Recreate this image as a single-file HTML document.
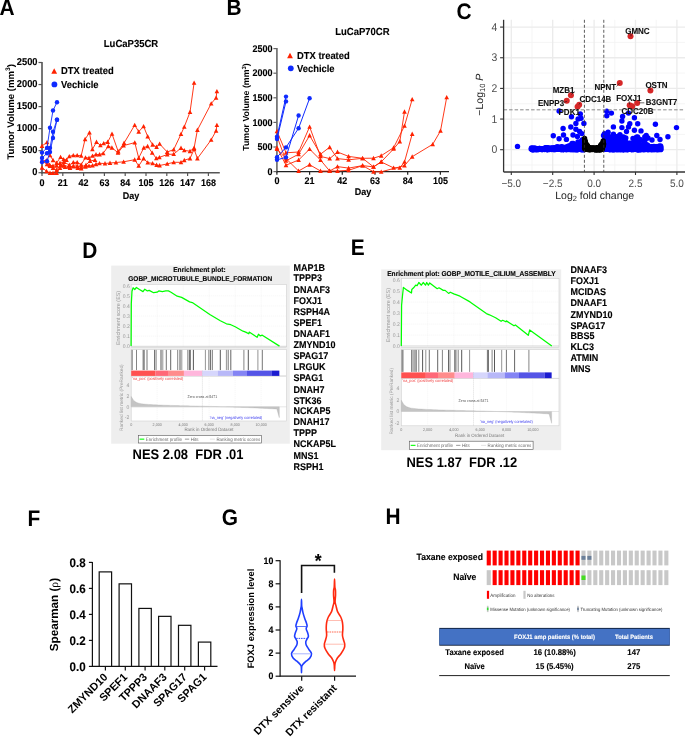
<!DOCTYPE html>
<html><head><meta charset="utf-8"><style>
html,body{margin:0;padding:0;background:#fff;}
body{width:685px;height:737px;overflow:hidden;}
svg{display:block;font-family:"Liberation Sans", sans-serif;will-change:transform;text-rendering:geometricPrecision;}
</style></head><body>
<svg width="685" height="737" viewBox="0 0 685 737">
<rect width="685" height="737" fill="#fff"/>
<text transform="translate(-0.5,14.9) scale(0.933,1)" font-size="22.4" font-weight="bold">A</text>
<text transform="translate(226.5,14.9) scale(0.933,1)" font-size="22.4" font-weight="bold">B</text>
<text transform="translate(456.4,18.8) scale(0.933,1)" font-size="22.4" font-weight="bold">C</text>
<text transform="translate(82.3,257.7) scale(0.933,1)" font-size="22.4" font-weight="bold">D</text>
<text transform="translate(350.7,254.6) scale(0.933,1)" font-size="22.4" font-weight="bold">E</text>
<text transform="translate(27.6,525.6) scale(0.933,1)" font-size="22.4" font-weight="bold">F</text>
<text transform="translate(221.7,524.5) scale(0.933,1)" font-size="22.4" font-weight="bold">G</text>
<text transform="translate(385.6,523.9) scale(0.933,1)" font-size="22.4" font-weight="bold">H</text>
<text transform="translate(131.00,47.20) scale(0.93,1)" font-size="10.22" font-weight="bold" text-anchor="middle" fill="#000" stroke="#000" stroke-width="0.12" >LuCaP35CR</text>
<line x1="42.00" y1="62.00" x2="42.00" y2="173.50" stroke="#666" stroke-width="1.8" />
<line x1="41.20" y1="172.70" x2="219.80" y2="172.70" stroke="#555" stroke-width="1.6" />
<line x1="38.50" y1="172.70" x2="42.00" y2="172.70" stroke="#555" stroke-width="1.2" />
<text transform="translate(37.50,175.40) scale(0.93,1)" font-size="10.00" font-weight="bold" text-anchor="end" fill="#000" stroke="#000" stroke-width="0.12" >0</text>
<line x1="38.50" y1="150.66" x2="42.00" y2="150.66" stroke="#555" stroke-width="1.2" />
<text transform="translate(37.50,153.36) scale(0.93,1)" font-size="10.00" font-weight="bold" text-anchor="end" fill="#000" stroke="#000" stroke-width="0.12" >500</text>
<line x1="38.50" y1="128.62" x2="42.00" y2="128.62" stroke="#555" stroke-width="1.2" />
<text transform="translate(37.50,131.32) scale(0.93,1)" font-size="10.00" font-weight="bold" text-anchor="end" fill="#000" stroke="#000" stroke-width="0.12" >1000</text>
<line x1="38.50" y1="106.58" x2="42.00" y2="106.58" stroke="#555" stroke-width="1.2" />
<text transform="translate(37.50,109.28) scale(0.93,1)" font-size="10.00" font-weight="bold" text-anchor="end" fill="#000" stroke="#000" stroke-width="0.12" >1500</text>
<line x1="38.50" y1="84.54" x2="42.00" y2="84.54" stroke="#555" stroke-width="1.2" />
<text transform="translate(37.50,87.24) scale(0.93,1)" font-size="10.00" font-weight="bold" text-anchor="end" fill="#000" stroke="#000" stroke-width="0.12" >2000</text>
<line x1="38.50" y1="62.50" x2="42.00" y2="62.50" stroke="#555" stroke-width="1.2" />
<text transform="translate(37.50,65.20) scale(0.93,1)" font-size="10.00" font-weight="bold" text-anchor="end" fill="#000" stroke="#000" stroke-width="0.12" >2500</text>
<line x1="42.00" y1="172.70" x2="42.00" y2="175.90" stroke="#555" stroke-width="1.2" />
<text transform="translate(42.00,185.60) scale(0.93,1)" font-size="9.68" font-weight="bold" text-anchor="middle" fill="#000" stroke="#000" stroke-width="0.12" >0</text>
<line x1="62.80" y1="172.70" x2="62.80" y2="175.90" stroke="#555" stroke-width="1.2" />
<text transform="translate(62.80,185.60) scale(0.93,1)" font-size="9.68" font-weight="bold" text-anchor="middle" fill="#000" stroke="#000" stroke-width="0.12" >21</text>
<line x1="83.60" y1="172.70" x2="83.60" y2="175.90" stroke="#555" stroke-width="1.2" />
<text transform="translate(83.60,185.60) scale(0.93,1)" font-size="9.68" font-weight="bold" text-anchor="middle" fill="#000" stroke="#000" stroke-width="0.12" >42</text>
<line x1="104.40" y1="172.70" x2="104.40" y2="175.90" stroke="#555" stroke-width="1.2" />
<text transform="translate(104.40,185.60) scale(0.93,1)" font-size="9.68" font-weight="bold" text-anchor="middle" fill="#000" stroke="#000" stroke-width="0.12" >63</text>
<line x1="125.20" y1="172.70" x2="125.20" y2="175.90" stroke="#555" stroke-width="1.2" />
<text transform="translate(125.20,185.60) scale(0.93,1)" font-size="9.68" font-weight="bold" text-anchor="middle" fill="#000" stroke="#000" stroke-width="0.12" >84</text>
<line x1="146.00" y1="172.70" x2="146.00" y2="175.90" stroke="#555" stroke-width="1.2" />
<text transform="translate(146.00,185.60) scale(0.93,1)" font-size="9.68" font-weight="bold" text-anchor="middle" fill="#000" stroke="#000" stroke-width="0.12" >105</text>
<line x1="166.80" y1="172.70" x2="166.80" y2="175.90" stroke="#555" stroke-width="1.2" />
<text transform="translate(166.80,185.60) scale(0.93,1)" font-size="9.68" font-weight="bold" text-anchor="middle" fill="#000" stroke="#000" stroke-width="0.12" >126</text>
<line x1="187.60" y1="172.70" x2="187.60" y2="175.90" stroke="#555" stroke-width="1.2" />
<text transform="translate(187.60,185.60) scale(0.93,1)" font-size="9.68" font-weight="bold" text-anchor="middle" fill="#000" stroke="#000" stroke-width="0.12" >147</text>
<line x1="208.40" y1="172.70" x2="208.40" y2="175.90" stroke="#555" stroke-width="1.2" />
<text transform="translate(208.40,185.60) scale(0.93,1)" font-size="9.68" font-weight="bold" text-anchor="middle" fill="#000" stroke="#000" stroke-width="0.12" >168</text>
<text transform="translate(131.00,198.50) scale(0.93,1)" font-size="9.68" font-weight="bold" text-anchor="middle" fill="#000" stroke="#000" stroke-width="0.12" >Day</text>
<text transform="translate(13.9,111.8) rotate(-90)" font-size="9.6" font-weight="bold" text-anchor="middle">Tumor Volume (mm<tspan font-size="6.6" dy="-3.6">3</tspan><tspan dy="3.6">)</tspan></text>
<path d="M54.20,68.16L57.10,73.67L51.30,73.67Z" fill="#ff2200"/>
<text transform="translate(61.00,74.30) scale(0.93,1)" font-size="10.11" font-weight="bold" text-anchor="start" fill="#000" stroke="#000" stroke-width="0.12" >DTX treated</text>
<circle cx="54.40" cy="84.40" r="2.9" fill="#0f2bff" />
<text transform="translate(61.00,87.90) scale(0.93,1)" font-size="10.11" font-weight="bold" text-anchor="start" fill="#000" stroke="#000" stroke-width="0.12" >Vechicle</text>
<polyline points="42.00,146.00 47.00,142.30 50.00,155.40 53.00,160.20 56.60,163.00 60.60,157.10 63.60,159.30 66.50,160.00 69.30,156.30 73.30,155.40 77.20,155.40 81.20,155.80 85.10,139.20 89.50,132.60 92.40,149.30 96.50,142.00 100.40,145.30 103.70,143.40 107.70,142.00 112.00,133.90 118.20,151.50 124.10,143.00 134.70,125.10 138.70,131.70 143.60,126.40 147.70,136.50 152.60,144.70 156.60,147.00 159.60,143.90 167.20,152.00 173.70,149.60 181.00,134.10 184.30,126.80 190.00,112.10 194.10,82.80" stroke="#ff2200" stroke-width="0.9" fill="none" />
<polyline points="42.00,161.00 47.00,164.20 49.60,165.00 53.00,165.90 56.60,165.90 60.00,163.00 64.00,162.00 69.30,165.00 73.30,162.40 77.20,162.40 81.20,164.60 85.50,157.60 89.00,158.00 92.50,155.80 96.00,154.50 99.50,154.50 103.20,153.30 108.30,146.20 111.90,147.70 118.00,152.80 123.60,145.60 134.80,142.60 138.70,158.00 143.80,147.70 147.60,146.20 152.20,152.80 156.30,158.40 159.40,157.40 167.20,154.50 173.70,154.10 181.00,148.00 184.30,150.40 190.00,151.20 194.10,148.00 197.40,130.00 211.20,103.60 216.10,97.80 216.90,91.30" stroke="#ff2200" stroke-width="0.9" fill="none" />
<polyline points="42.00,167.70 46.60,171.20 50.00,173.00 53.00,173.00 56.60,173.00 60.00,168.00 65.00,167.00 70.00,168.00 77.70,168.10 81.20,168.50 85.50,166.80 89.00,165.90 92.50,165.50 96.00,164.20 99.50,163.30 105.00,163.50 110.00,163.00 116.00,162.50 123.60,161.80 134.70,159.70 138.70,165.90 143.60,158.50 147.70,162.60 152.60,163.40 156.60,165.00 159.60,165.50 167.20,163.90 173.70,162.30 181.00,162.30 184.30,160.20 190.00,158.50 194.10,149.20 197.40,158.50 211.20,139.80 216.10,130.80 216.90,125.10" stroke="#ff2200" stroke-width="0.9" fill="none" />
<polyline points="42.00,161.10 47.00,160.00 50.00,166.00 53.00,168.00 56.60,170.00 60.60,165.00 63.60,165.00 69.30,167.00 73.30,166.00 77.20,166.00 81.20,167.00 86.00,165.00 90.00,161.00 95.00,160.00" stroke="#ff2200" stroke-width="0.9" fill="none" />
<path d="M42.00,143.59L44.30,147.96L39.70,147.96Z" fill="#ff2200"/>
<path d="M47.00,139.89L49.30,144.26L44.70,144.26Z" fill="#ff2200"/>
<path d="M50.00,152.99L52.30,157.36L47.70,157.36Z" fill="#ff2200"/>
<path d="M53.00,157.78L55.30,162.16L50.70,162.16Z" fill="#ff2200"/>
<path d="M56.60,160.59L58.90,164.96L54.30,164.96Z" fill="#ff2200"/>
<path d="M60.60,154.69L62.90,159.06L58.30,159.06Z" fill="#ff2200"/>
<path d="M63.60,156.89L65.90,161.26L61.30,161.26Z" fill="#ff2200"/>
<path d="M66.50,157.59L68.80,161.96L64.20,161.96Z" fill="#ff2200"/>
<path d="M69.30,153.89L71.60,158.26L67.00,158.26Z" fill="#ff2200"/>
<path d="M73.30,152.99L75.60,157.36L71.00,157.36Z" fill="#ff2200"/>
<path d="M77.20,152.99L79.50,157.36L74.90,157.36Z" fill="#ff2200"/>
<path d="M81.20,153.39L83.50,157.76L78.90,157.76Z" fill="#ff2200"/>
<path d="M85.10,136.78L87.40,141.16L82.80,141.16Z" fill="#ff2200"/>
<path d="M89.50,130.19L91.80,134.56L87.20,134.56Z" fill="#ff2200"/>
<path d="M92.40,146.89L94.70,151.26L90.10,151.26Z" fill="#ff2200"/>
<path d="M96.50,139.59L98.80,143.96L94.20,143.96Z" fill="#ff2200"/>
<path d="M100.40,142.89L102.70,147.26L98.10,147.26Z" fill="#ff2200"/>
<path d="M103.70,140.99L106.00,145.36L101.40,145.36Z" fill="#ff2200"/>
<path d="M107.70,139.59L110.00,143.96L105.40,143.96Z" fill="#ff2200"/>
<path d="M112.00,131.49L114.30,135.86L109.70,135.86Z" fill="#ff2200"/>
<path d="M118.20,149.09L120.50,153.46L115.90,153.46Z" fill="#ff2200"/>
<path d="M124.10,140.59L126.40,144.96L121.80,144.96Z" fill="#ff2200"/>
<path d="M134.70,122.68L137.00,127.05L132.40,127.05Z" fill="#ff2200"/>
<path d="M138.70,129.28L141.00,133.66L136.40,133.66Z" fill="#ff2200"/>
<path d="M143.60,123.98L145.90,128.36L141.30,128.36Z" fill="#ff2200"/>
<path d="M147.70,134.09L150.00,138.46L145.40,138.46Z" fill="#ff2200"/>
<path d="M152.60,142.28L154.90,146.66L150.30,146.66Z" fill="#ff2200"/>
<path d="M156.60,144.59L158.90,148.96L154.30,148.96Z" fill="#ff2200"/>
<path d="M159.60,141.49L161.90,145.86L157.30,145.86Z" fill="#ff2200"/>
<path d="M167.20,149.59L169.50,153.96L164.90,153.96Z" fill="#ff2200"/>
<path d="M173.70,147.19L176.00,151.56L171.40,151.56Z" fill="#ff2200"/>
<path d="M181.00,131.69L183.30,136.06L178.70,136.06Z" fill="#ff2200"/>
<path d="M184.30,124.38L186.60,128.75L182.00,128.75Z" fill="#ff2200"/>
<path d="M190.00,109.68L192.30,114.05L187.70,114.05Z" fill="#ff2200"/>
<path d="M194.10,80.38L196.40,84.75L191.80,84.75Z" fill="#ff2200"/>
<path d="M42.00,158.59L44.30,162.96L39.70,162.96Z" fill="#ff2200"/>
<path d="M47.00,161.78L49.30,166.16L44.70,166.16Z" fill="#ff2200"/>
<path d="M49.60,162.59L51.90,166.96L47.30,166.96Z" fill="#ff2200"/>
<path d="M53.00,163.49L55.30,167.86L50.70,167.86Z" fill="#ff2200"/>
<path d="M56.60,163.49L58.90,167.86L54.30,167.86Z" fill="#ff2200"/>
<path d="M60.00,160.59L62.30,164.96L57.70,164.96Z" fill="#ff2200"/>
<path d="M64.00,159.59L66.30,163.96L61.70,163.96Z" fill="#ff2200"/>
<path d="M69.30,162.59L71.60,166.96L67.00,166.96Z" fill="#ff2200"/>
<path d="M73.30,159.99L75.60,164.36L71.00,164.36Z" fill="#ff2200"/>
<path d="M77.20,159.99L79.50,164.36L74.90,164.36Z" fill="#ff2200"/>
<path d="M81.20,162.19L83.50,166.56L78.90,166.56Z" fill="#ff2200"/>
<path d="M85.50,155.19L87.80,159.56L83.20,159.56Z" fill="#ff2200"/>
<path d="M89.00,155.59L91.30,159.96L86.70,159.96Z" fill="#ff2200"/>
<path d="M92.50,153.39L94.80,157.76L90.20,157.76Z" fill="#ff2200"/>
<path d="M96.00,152.09L98.30,156.46L93.70,156.46Z" fill="#ff2200"/>
<path d="M99.50,152.09L101.80,156.46L97.20,156.46Z" fill="#ff2200"/>
<path d="M103.20,150.89L105.50,155.26L100.90,155.26Z" fill="#ff2200"/>
<path d="M108.30,143.78L110.60,148.16L106.00,148.16Z" fill="#ff2200"/>
<path d="M111.90,145.28L114.20,149.66L109.60,149.66Z" fill="#ff2200"/>
<path d="M118.00,150.39L120.30,154.76L115.70,154.76Z" fill="#ff2200"/>
<path d="M123.60,143.19L125.90,147.56L121.30,147.56Z" fill="#ff2200"/>
<path d="M134.80,140.19L137.10,144.56L132.50,144.56Z" fill="#ff2200"/>
<path d="M138.70,155.59L141.00,159.96L136.40,159.96Z" fill="#ff2200"/>
<path d="M143.80,145.28L146.10,149.66L141.50,149.66Z" fill="#ff2200"/>
<path d="M147.60,143.78L149.90,148.16L145.30,148.16Z" fill="#ff2200"/>
<path d="M152.20,150.39L154.50,154.76L149.90,154.76Z" fill="#ff2200"/>
<path d="M156.30,155.99L158.60,160.36L154.00,160.36Z" fill="#ff2200"/>
<path d="M159.40,154.99L161.70,159.36L157.10,159.36Z" fill="#ff2200"/>
<path d="M167.20,152.09L169.50,156.46L164.90,156.46Z" fill="#ff2200"/>
<path d="M173.70,151.69L176.00,156.06L171.40,156.06Z" fill="#ff2200"/>
<path d="M181.00,145.59L183.30,149.96L178.70,149.96Z" fill="#ff2200"/>
<path d="M184.30,147.99L186.60,152.36L182.00,152.36Z" fill="#ff2200"/>
<path d="M190.00,148.78L192.30,153.16L187.70,153.16Z" fill="#ff2200"/>
<path d="M194.10,145.59L196.40,149.96L191.80,149.96Z" fill="#ff2200"/>
<path d="M197.40,127.58L199.70,131.96L195.10,131.96Z" fill="#ff2200"/>
<path d="M211.20,101.18L213.50,105.55L208.90,105.55Z" fill="#ff2200"/>
<path d="M216.10,95.38L218.40,99.75L213.80,99.75Z" fill="#ff2200"/>
<path d="M216.90,88.88L219.20,93.25L214.60,93.25Z" fill="#ff2200"/>
<path d="M42.00,165.28L44.30,169.66L39.70,169.66Z" fill="#ff2200"/>
<path d="M46.60,168.78L48.90,173.16L44.30,173.16Z" fill="#ff2200"/>
<path d="M50.00,170.59L52.30,174.96L47.70,174.96Z" fill="#ff2200"/>
<path d="M53.00,170.59L55.30,174.96L50.70,174.96Z" fill="#ff2200"/>
<path d="M56.60,170.59L58.90,174.96L54.30,174.96Z" fill="#ff2200"/>
<path d="M60.00,165.59L62.30,169.96L57.70,169.96Z" fill="#ff2200"/>
<path d="M65.00,164.59L67.30,168.96L62.70,168.96Z" fill="#ff2200"/>
<path d="M70.00,165.59L72.30,169.96L67.70,169.96Z" fill="#ff2200"/>
<path d="M77.70,165.69L80.00,170.06L75.40,170.06Z" fill="#ff2200"/>
<path d="M81.20,166.09L83.50,170.46L78.90,170.46Z" fill="#ff2200"/>
<path d="M85.50,164.39L87.80,168.76L83.20,168.76Z" fill="#ff2200"/>
<path d="M89.00,163.49L91.30,167.86L86.70,167.86Z" fill="#ff2200"/>
<path d="M92.50,163.09L94.80,167.46L90.20,167.46Z" fill="#ff2200"/>
<path d="M96.00,161.78L98.30,166.16L93.70,166.16Z" fill="#ff2200"/>
<path d="M99.50,160.89L101.80,165.26L97.20,165.26Z" fill="#ff2200"/>
<path d="M105.00,161.09L107.30,165.46L102.70,165.46Z" fill="#ff2200"/>
<path d="M110.00,160.59L112.30,164.96L107.70,164.96Z" fill="#ff2200"/>
<path d="M116.00,160.09L118.30,164.46L113.70,164.46Z" fill="#ff2200"/>
<path d="M123.60,159.39L125.90,163.76L121.30,163.76Z" fill="#ff2200"/>
<path d="M134.70,157.28L137.00,161.66L132.40,161.66Z" fill="#ff2200"/>
<path d="M138.70,163.49L141.00,167.86L136.40,167.86Z" fill="#ff2200"/>
<path d="M143.60,156.09L145.90,160.46L141.30,160.46Z" fill="#ff2200"/>
<path d="M147.70,160.19L150.00,164.56L145.40,164.56Z" fill="#ff2200"/>
<path d="M152.60,160.99L154.90,165.36L150.30,165.36Z" fill="#ff2200"/>
<path d="M156.60,162.59L158.90,166.96L154.30,166.96Z" fill="#ff2200"/>
<path d="M159.60,163.09L161.90,167.46L157.30,167.46Z" fill="#ff2200"/>
<path d="M167.20,161.49L169.50,165.86L164.90,165.86Z" fill="#ff2200"/>
<path d="M173.70,159.89L176.00,164.26L171.40,164.26Z" fill="#ff2200"/>
<path d="M181.00,159.89L183.30,164.26L178.70,164.26Z" fill="#ff2200"/>
<path d="M184.30,157.78L186.60,162.16L182.00,162.16Z" fill="#ff2200"/>
<path d="M190.00,156.09L192.30,160.46L187.70,160.46Z" fill="#ff2200"/>
<path d="M194.10,146.78L196.40,151.16L191.80,151.16Z" fill="#ff2200"/>
<path d="M197.40,156.09L199.70,160.46L195.10,160.46Z" fill="#ff2200"/>
<path d="M211.20,137.39L213.50,141.76L208.90,141.76Z" fill="#ff2200"/>
<path d="M216.10,128.39L218.40,132.76L213.80,132.76Z" fill="#ff2200"/>
<path d="M216.90,122.68L219.20,127.05L214.60,127.05Z" fill="#ff2200"/>
<path d="M42.00,158.69L44.30,163.06L39.70,163.06Z" fill="#ff2200"/>
<path d="M47.00,157.59L49.30,161.96L44.70,161.96Z" fill="#ff2200"/>
<path d="M50.00,163.59L52.30,167.96L47.70,167.96Z" fill="#ff2200"/>
<path d="M53.00,165.59L55.30,169.96L50.70,169.96Z" fill="#ff2200"/>
<path d="M56.60,167.59L58.90,171.96L54.30,171.96Z" fill="#ff2200"/>
<path d="M60.60,162.59L62.90,166.96L58.30,166.96Z" fill="#ff2200"/>
<path d="M63.60,162.59L65.90,166.96L61.30,166.96Z" fill="#ff2200"/>
<path d="M69.30,164.59L71.60,168.96L67.00,168.96Z" fill="#ff2200"/>
<path d="M73.30,163.59L75.60,167.96L71.00,167.96Z" fill="#ff2200"/>
<path d="M77.20,163.59L79.50,167.96L74.90,167.96Z" fill="#ff2200"/>
<path d="M81.20,164.59L83.50,168.96L78.90,168.96Z" fill="#ff2200"/>
<path d="M86.00,162.59L88.30,166.96L83.70,166.96Z" fill="#ff2200"/>
<path d="M90.00,158.59L92.30,162.96L87.70,162.96Z" fill="#ff2200"/>
<path d="M95.00,157.59L97.30,161.96L92.70,161.96Z" fill="#ff2200"/>
<polyline points="42.00,152.60 47.00,147.90 50.00,127.70 53.00,110.50 57.00,102.20" stroke="#0f2bff" stroke-width="0.9" fill="none" />
<polyline points="42.00,158.00 47.00,153.30 50.00,147.90 53.00,131.80 57.00,119.70" stroke="#0f2bff" stroke-width="0.9" fill="none" />
<polyline points="42.00,162.00 47.00,161.30 50.00,152.00 53.00,138.00 57.00,119.70" stroke="#0f2bff" stroke-width="0.9" fill="none" />
<circle cx="42.00" cy="152.60" r="2.2" fill="#0f2bff" />
<circle cx="47.00" cy="147.90" r="2.2" fill="#0f2bff" />
<circle cx="50.00" cy="127.70" r="2.2" fill="#0f2bff" />
<circle cx="53.00" cy="110.50" r="2.2" fill="#0f2bff" />
<circle cx="57.00" cy="102.20" r="2.2" fill="#0f2bff" />
<circle cx="42.00" cy="158.00" r="2.2" fill="#0f2bff" />
<circle cx="47.00" cy="153.30" r="2.2" fill="#0f2bff" />
<circle cx="50.00" cy="147.90" r="2.2" fill="#0f2bff" />
<circle cx="53.00" cy="131.80" r="2.2" fill="#0f2bff" />
<circle cx="57.00" cy="119.70" r="2.2" fill="#0f2bff" />
<circle cx="42.00" cy="162.00" r="2.2" fill="#0f2bff" />
<circle cx="47.00" cy="161.30" r="2.2" fill="#0f2bff" />
<circle cx="50.00" cy="152.00" r="2.2" fill="#0f2bff" />
<circle cx="53.00" cy="138.00" r="2.2" fill="#0f2bff" />
<circle cx="57.00" cy="119.70" r="2.2" fill="#0f2bff" />
<text transform="translate(362.40,34.60) scale(0.93,1)" font-size="10.22" font-weight="bold" text-anchor="middle" fill="#000" stroke="#000" stroke-width="0.12" >LuCaP70CR</text>
<line x1="276.90" y1="48.10" x2="276.90" y2="172.40" stroke="#777" stroke-width="1.8" />
<line x1="276.10" y1="171.60" x2="449.00" y2="171.60" stroke="#222" stroke-width="1.4" />
<line x1="273.40" y1="171.60" x2="276.90" y2="171.60" stroke="#666" stroke-width="1.2" />
<text transform="translate(272.60,174.80) scale(0.93,1)" font-size="9.68" font-weight="bold" text-anchor="end" fill="#000" stroke="#000" stroke-width="0.12" >0</text>
<line x1="273.40" y1="147.00" x2="276.90" y2="147.00" stroke="#666" stroke-width="1.2" />
<text transform="translate(272.60,150.20) scale(0.93,1)" font-size="9.68" font-weight="bold" text-anchor="end" fill="#000" stroke="#000" stroke-width="0.12" >500</text>
<line x1="273.40" y1="122.40" x2="276.90" y2="122.40" stroke="#666" stroke-width="1.2" />
<text transform="translate(272.60,125.60) scale(0.93,1)" font-size="9.68" font-weight="bold" text-anchor="end" fill="#000" stroke="#000" stroke-width="0.12" >1000</text>
<line x1="273.40" y1="97.80" x2="276.90" y2="97.80" stroke="#666" stroke-width="1.2" />
<text transform="translate(272.60,101.00) scale(0.93,1)" font-size="9.68" font-weight="bold" text-anchor="end" fill="#000" stroke="#000" stroke-width="0.12" >1500</text>
<line x1="273.40" y1="73.20" x2="276.90" y2="73.20" stroke="#666" stroke-width="1.2" />
<text transform="translate(272.60,76.40) scale(0.93,1)" font-size="9.68" font-weight="bold" text-anchor="end" fill="#000" stroke="#000" stroke-width="0.12" >2000</text>
<line x1="273.40" y1="48.60" x2="276.90" y2="48.60" stroke="#666" stroke-width="1.2" />
<text transform="translate(272.60,51.80) scale(0.93,1)" font-size="9.68" font-weight="bold" text-anchor="end" fill="#000" stroke="#000" stroke-width="0.12" >2500</text>
<line x1="276.90" y1="171.60" x2="276.90" y2="174.80" stroke="#222" stroke-width="1.2" />
<text transform="translate(276.90,184.30) scale(0.93,1)" font-size="9.68" font-weight="bold" text-anchor="middle" fill="#000" stroke="#000" stroke-width="0.12" >0</text>
<line x1="309.60" y1="171.60" x2="309.60" y2="174.80" stroke="#222" stroke-width="1.2" />
<text transform="translate(309.60,184.30) scale(0.93,1)" font-size="9.68" font-weight="bold" text-anchor="middle" fill="#000" stroke="#000" stroke-width="0.12" >21</text>
<line x1="342.29" y1="171.60" x2="342.29" y2="174.80" stroke="#222" stroke-width="1.2" />
<text transform="translate(342.29,184.30) scale(0.93,1)" font-size="9.68" font-weight="bold" text-anchor="middle" fill="#000" stroke="#000" stroke-width="0.12" >42</text>
<line x1="374.99" y1="171.60" x2="374.99" y2="174.80" stroke="#222" stroke-width="1.2" />
<text transform="translate(374.99,184.30) scale(0.93,1)" font-size="9.68" font-weight="bold" text-anchor="middle" fill="#000" stroke="#000" stroke-width="0.12" >63</text>
<line x1="407.69" y1="171.60" x2="407.69" y2="174.80" stroke="#222" stroke-width="1.2" />
<text transform="translate(407.69,184.30) scale(0.93,1)" font-size="9.68" font-weight="bold" text-anchor="middle" fill="#000" stroke="#000" stroke-width="0.12" >84</text>
<line x1="440.38" y1="171.60" x2="440.38" y2="174.80" stroke="#222" stroke-width="1.2" />
<text transform="translate(440.38,184.30) scale(0.93,1)" font-size="9.68" font-weight="bold" text-anchor="middle" fill="#000" stroke="#000" stroke-width="0.12" >105</text>
<text transform="translate(363.00,195.30) scale(0.93,1)" font-size="9.68" font-weight="bold" text-anchor="middle" fill="#000" stroke="#000" stroke-width="0.12" >Day</text>
<text transform="translate(249,107) rotate(-90)" font-size="8.8" font-weight="bold" text-anchor="middle">Tumor Volume (mm<tspan font-size="6" dy="-3.3">3</tspan><tspan dy="3.3">)</tspan></text>
<path d="M290.00,52.85L292.90,58.36L287.10,58.36Z" fill="#ff2200"/>
<text transform="translate(297.00,59.20) scale(0.93,1)" font-size="10.11" font-weight="bold" text-anchor="start" fill="#000" stroke="#000" stroke-width="0.12" >DTX treated</text>
<circle cx="290.80" cy="68.30" r="2.9" fill="#0f2bff" />
<text transform="translate(297.00,71.50) scale(0.93,1)" font-size="10.11" font-weight="bold" text-anchor="start" fill="#000" stroke="#000" stroke-width="0.12" >Vechicle</text>
<polyline points="277.00,131.20 286.00,152.80 298.60,152.00 309.60,126.80 320.50,156.40 329.70,158.60 337.50,152.00 348.60,156.40 362.60,158.30 373.50,158.20 381.20,155.70 393.60,147.70 404.50,125.90 412.20,99.30" stroke="#ff2200" stroke-width="0.9" fill="none" />
<polyline points="277.00,136.40 286.00,160.80 298.60,154.20 309.60,135.50 320.50,154.20 329.70,147.20 337.50,158.60 348.60,159.80 362.60,158.30 373.50,166.90 381.20,161.90 393.60,148.90 399.80,141.50 404.50,111.70" stroke="#ff2200" stroke-width="0.9" fill="none" />
<polyline points="277.00,147.70 286.00,165.20 298.60,160.00 309.60,149.10 320.50,160.00 329.70,171.00 337.50,166.60 348.60,168.10 362.60,165.60 373.50,171.80 381.20,171.80 404.50,165.60 412.20,156.70 432.70,144.30 440.50,130.90 446.70,97.40" stroke="#ff2200" stroke-width="0.9" fill="none" />
<polyline points="277.00,149.10 286.00,158.60 298.60,171.00 309.60,164.70 320.50,171.00 329.70,171.00 337.50,171.00 348.60,170.30 362.60,165.60 373.50,166.90 381.20,161.90 393.60,167.90 399.80,167.90 404.50,161.90 412.20,134.00" stroke="#ff2200" stroke-width="0.9" fill="none" />
<path d="M277.00,128.78L279.30,133.16L274.70,133.16Z" fill="#ff2200"/>
<path d="M286.00,150.39L288.30,154.76L283.70,154.76Z" fill="#ff2200"/>
<path d="M298.60,149.59L300.90,153.96L296.30,153.96Z" fill="#ff2200"/>
<path d="M309.60,124.38L311.90,128.75L307.30,128.75Z" fill="#ff2200"/>
<path d="M320.50,153.99L322.80,158.36L318.20,158.36Z" fill="#ff2200"/>
<path d="M329.70,156.19L332.00,160.56L327.40,160.56Z" fill="#ff2200"/>
<path d="M337.50,149.59L339.80,153.96L335.20,153.96Z" fill="#ff2200"/>
<path d="M348.60,153.99L350.90,158.36L346.30,158.36Z" fill="#ff2200"/>
<path d="M362.60,155.89L364.90,160.26L360.30,160.26Z" fill="#ff2200"/>
<path d="M373.50,155.78L375.80,160.16L371.20,160.16Z" fill="#ff2200"/>
<path d="M381.20,153.28L383.50,157.66L378.90,157.66Z" fill="#ff2200"/>
<path d="M393.60,145.28L395.90,149.66L391.30,149.66Z" fill="#ff2200"/>
<path d="M404.50,123.48L406.80,127.86L402.20,127.86Z" fill="#ff2200"/>
<path d="M412.20,96.88L414.50,101.25L409.90,101.25Z" fill="#ff2200"/>
<path d="M277.00,133.99L279.30,138.36L274.70,138.36Z" fill="#ff2200"/>
<path d="M286.00,158.39L288.30,162.76L283.70,162.76Z" fill="#ff2200"/>
<path d="M298.60,151.78L300.90,156.16L296.30,156.16Z" fill="#ff2200"/>
<path d="M309.60,133.09L311.90,137.46L307.30,137.46Z" fill="#ff2200"/>
<path d="M320.50,151.78L322.80,156.16L318.20,156.16Z" fill="#ff2200"/>
<path d="M329.70,144.78L332.00,149.16L327.40,149.16Z" fill="#ff2200"/>
<path d="M337.50,156.19L339.80,160.56L335.20,160.56Z" fill="#ff2200"/>
<path d="M348.60,157.39L350.90,161.76L346.30,161.76Z" fill="#ff2200"/>
<path d="M362.60,155.89L364.90,160.26L360.30,160.26Z" fill="#ff2200"/>
<path d="M373.50,164.49L375.80,168.86L371.20,168.86Z" fill="#ff2200"/>
<path d="M381.20,159.49L383.50,163.86L378.90,163.86Z" fill="#ff2200"/>
<path d="M393.60,146.49L395.90,150.86L391.30,150.86Z" fill="#ff2200"/>
<path d="M399.80,139.09L402.10,143.46L397.50,143.46Z" fill="#ff2200"/>
<path d="M404.50,109.28L406.80,113.66L402.20,113.66Z" fill="#ff2200"/>
<path d="M277.00,145.28L279.30,149.66L274.70,149.66Z" fill="#ff2200"/>
<path d="M286.00,162.78L288.30,167.16L283.70,167.16Z" fill="#ff2200"/>
<path d="M298.60,157.59L300.90,161.96L296.30,161.96Z" fill="#ff2200"/>
<path d="M309.60,146.69L311.90,151.06L307.30,151.06Z" fill="#ff2200"/>
<path d="M320.50,157.59L322.80,161.96L318.20,161.96Z" fill="#ff2200"/>
<path d="M329.70,168.59L332.00,172.96L327.40,172.96Z" fill="#ff2200"/>
<path d="M337.50,164.19L339.80,168.56L335.20,168.56Z" fill="#ff2200"/>
<path d="M348.60,165.69L350.90,170.06L346.30,170.06Z" fill="#ff2200"/>
<path d="M362.60,163.19L364.90,167.56L360.30,167.56Z" fill="#ff2200"/>
<path d="M373.50,169.39L375.80,173.76L371.20,173.76Z" fill="#ff2200"/>
<path d="M381.20,169.39L383.50,173.76L378.90,173.76Z" fill="#ff2200"/>
<path d="M404.50,163.19L406.80,167.56L402.20,167.56Z" fill="#ff2200"/>
<path d="M412.20,154.28L414.50,158.66L409.90,158.66Z" fill="#ff2200"/>
<path d="M432.70,141.89L435.00,146.26L430.40,146.26Z" fill="#ff2200"/>
<path d="M440.50,128.49L442.80,132.86L438.20,132.86Z" fill="#ff2200"/>
<path d="M446.70,94.98L449.00,99.36L444.40,99.36Z" fill="#ff2200"/>
<path d="M277.00,146.69L279.30,151.06L274.70,151.06Z" fill="#ff2200"/>
<path d="M286.00,156.19L288.30,160.56L283.70,160.56Z" fill="#ff2200"/>
<path d="M298.60,168.59L300.90,172.96L296.30,172.96Z" fill="#ff2200"/>
<path d="M309.60,162.28L311.90,166.66L307.30,166.66Z" fill="#ff2200"/>
<path d="M320.50,168.59L322.80,172.96L318.20,172.96Z" fill="#ff2200"/>
<path d="M329.70,168.59L332.00,172.96L327.40,172.96Z" fill="#ff2200"/>
<path d="M337.50,168.59L339.80,172.96L335.20,172.96Z" fill="#ff2200"/>
<path d="M348.60,167.89L350.90,172.26L346.30,172.26Z" fill="#ff2200"/>
<path d="M362.60,163.19L364.90,167.56L360.30,167.56Z" fill="#ff2200"/>
<path d="M373.50,164.49L375.80,168.86L371.20,168.86Z" fill="#ff2200"/>
<path d="M381.20,159.49L383.50,163.86L378.90,163.86Z" fill="#ff2200"/>
<path d="M393.60,165.49L395.90,169.86L391.30,169.86Z" fill="#ff2200"/>
<path d="M399.80,165.49L402.10,169.86L397.50,169.86Z" fill="#ff2200"/>
<path d="M404.50,159.49L406.80,163.86L402.20,163.86Z" fill="#ff2200"/>
<path d="M412.20,131.59L414.50,135.96L409.90,135.96Z" fill="#ff2200"/>
<polyline points="277.00,136.70 286.00,96.60" stroke="#0f2bff" stroke-width="1.0" fill="none" />
<polyline points="277.00,139.00 286.00,101.40" stroke="#0f2bff" stroke-width="1.0" fill="none" />
<polyline points="277.00,157.20 286.00,147.40 298.60,128.20 309.60,98.30" stroke="#0f2bff" stroke-width="1.0" fill="none" />
<polyline points="277.00,159.80 286.00,157.40 298.60,115.50" stroke="#0f2bff" stroke-width="1.0" fill="none" />
<circle cx="277.00" cy="136.70" r="2.2" fill="#0f2bff" />
<circle cx="286.00" cy="96.60" r="2.2" fill="#0f2bff" />
<circle cx="277.00" cy="139.00" r="2.2" fill="#0f2bff" />
<circle cx="286.00" cy="101.40" r="2.2" fill="#0f2bff" />
<circle cx="277.00" cy="157.20" r="2.2" fill="#0f2bff" />
<circle cx="286.00" cy="147.40" r="2.2" fill="#0f2bff" />
<circle cx="298.60" cy="128.20" r="2.2" fill="#0f2bff" />
<circle cx="309.60" cy="98.30" r="2.2" fill="#0f2bff" />
<circle cx="277.00" cy="159.80" r="2.2" fill="#0f2bff" />
<circle cx="286.00" cy="157.40" r="2.2" fill="#0f2bff" />
<circle cx="298.60" cy="115.50" r="2.2" fill="#0f2bff" />
<rect x="503.60" y="19.80" width="181.40" height="152.20" fill="#ffffff" />
<line x1="532.00" y1="19.80" x2="532.00" y2="172.00" stroke="#f3f3f3" stroke-width="0.8" />
<line x1="573.40" y1="19.80" x2="573.40" y2="172.00" stroke="#f3f3f3" stroke-width="0.8" />
<line x1="614.80" y1="19.80" x2="614.80" y2="172.00" stroke="#f3f3f3" stroke-width="0.8" />
<line x1="656.20" y1="19.80" x2="656.20" y2="172.00" stroke="#f3f3f3" stroke-width="0.8" />
<line x1="503.60" y1="165.02" x2="685.00" y2="165.02" stroke="#f3f3f3" stroke-width="0.8" />
<line x1="503.60" y1="134.38" x2="685.00" y2="134.38" stroke="#f3f3f3" stroke-width="0.8" />
<line x1="503.60" y1="103.72" x2="685.00" y2="103.72" stroke="#f3f3f3" stroke-width="0.8" />
<line x1="503.60" y1="73.07" x2="685.00" y2="73.07" stroke="#f3f3f3" stroke-width="0.8" />
<line x1="503.60" y1="42.42" x2="685.00" y2="42.42" stroke="#f3f3f3" stroke-width="0.8" />
<line x1="511.30" y1="19.80" x2="511.30" y2="172.00" stroke="#ebebeb" stroke-width="1.3" />
<line x1="552.70" y1="19.80" x2="552.70" y2="172.00" stroke="#ebebeb" stroke-width="1.3" />
<line x1="594.10" y1="19.80" x2="594.10" y2="172.00" stroke="#ebebeb" stroke-width="1.3" />
<line x1="635.50" y1="19.80" x2="635.50" y2="172.00" stroke="#ebebeb" stroke-width="1.3" />
<line x1="676.90" y1="19.80" x2="676.90" y2="172.00" stroke="#ebebeb" stroke-width="1.3" />
<line x1="503.60" y1="149.70" x2="685.00" y2="149.70" stroke="#ebebeb" stroke-width="1.3" />
<line x1="503.60" y1="119.05" x2="685.00" y2="119.05" stroke="#ebebeb" stroke-width="1.3" />
<line x1="503.60" y1="88.40" x2="685.00" y2="88.40" stroke="#ebebeb" stroke-width="1.3" />
<line x1="503.60" y1="57.75" x2="685.00" y2="57.75" stroke="#ebebeb" stroke-width="1.3" />
<line x1="503.60" y1="27.10" x2="685.00" y2="27.10" stroke="#ebebeb" stroke-width="1.3" />
<circle cx="575.44" cy="147.61" r="2.7" fill="#0000ff" />
<circle cx="583.37" cy="145.06" r="2.7" fill="#0000ff" />
<circle cx="564.63" cy="149.36" r="2.7" fill="#0000ff" />
<circle cx="566.27" cy="149.29" r="2.7" fill="#0000ff" />
<circle cx="583.89" cy="148.29" r="2.7" fill="#0000ff" />
<circle cx="583.03" cy="149.11" r="2.7" fill="#0000ff" />
<circle cx="570.71" cy="149.24" r="2.7" fill="#0000ff" />
<circle cx="579.35" cy="148.30" r="2.7" fill="#0000ff" />
<circle cx="559.03" cy="148.17" r="2.7" fill="#0000ff" />
<circle cx="572.09" cy="148.82" r="2.7" fill="#0000ff" />
<circle cx="533.17" cy="148.13" r="2.7" fill="#0000ff" />
<circle cx="576.87" cy="148.18" r="2.7" fill="#0000ff" />
<circle cx="581.77" cy="147.44" r="2.7" fill="#0000ff" />
<circle cx="545.88" cy="149.16" r="2.7" fill="#0000ff" />
<circle cx="580.73" cy="145.54" r="2.7" fill="#0000ff" />
<circle cx="573.25" cy="148.16" r="2.7" fill="#0000ff" />
<circle cx="563.94" cy="149.23" r="2.7" fill="#0000ff" />
<circle cx="579.93" cy="149.27" r="2.7" fill="#0000ff" />
<circle cx="555.55" cy="148.82" r="2.7" fill="#0000ff" />
<circle cx="561.66" cy="149.19" r="2.7" fill="#0000ff" />
<circle cx="569.23" cy="148.71" r="2.7" fill="#0000ff" />
<circle cx="554.28" cy="147.86" r="2.7" fill="#0000ff" />
<circle cx="578.61" cy="146.49" r="2.7" fill="#0000ff" />
<circle cx="541.36" cy="149.21" r="2.7" fill="#0000ff" />
<circle cx="552.18" cy="149.01" r="2.7" fill="#0000ff" />
<circle cx="582.43" cy="139.61" r="2.7" fill="#0000ff" />
<circle cx="571.03" cy="149.65" r="2.7" fill="#0000ff" />
<circle cx="567.30" cy="148.75" r="2.7" fill="#0000ff" />
<circle cx="583.87" cy="146.31" r="2.7" fill="#0000ff" />
<circle cx="562.42" cy="147.66" r="2.7" fill="#0000ff" />
<circle cx="541.33" cy="149.17" r="2.7" fill="#0000ff" />
<circle cx="561.11" cy="147.83" r="2.7" fill="#0000ff" />
<circle cx="562.00" cy="147.20" r="2.7" fill="#0000ff" />
<circle cx="535.78" cy="149.26" r="2.7" fill="#0000ff" />
<circle cx="568.11" cy="149.39" r="2.7" fill="#0000ff" />
<circle cx="554.11" cy="149.37" r="2.7" fill="#0000ff" />
<circle cx="557.75" cy="147.49" r="2.7" fill="#0000ff" />
<circle cx="577.07" cy="149.48" r="2.7" fill="#0000ff" />
<circle cx="572.62" cy="149.48" r="2.7" fill="#0000ff" />
<circle cx="568.78" cy="149.37" r="2.7" fill="#0000ff" />
<circle cx="581.11" cy="148.82" r="2.7" fill="#0000ff" />
<circle cx="549.41" cy="149.47" r="2.7" fill="#0000ff" />
<circle cx="582.15" cy="149.65" r="2.7" fill="#0000ff" />
<circle cx="541.65" cy="148.82" r="2.7" fill="#0000ff" />
<circle cx="583.22" cy="145.03" r="2.7" fill="#0000ff" />
<circle cx="540.71" cy="149.35" r="2.7" fill="#0000ff" />
<circle cx="545.64" cy="149.21" r="2.7" fill="#0000ff" />
<circle cx="571.17" cy="148.49" r="2.7" fill="#0000ff" />
<circle cx="573.89" cy="145.43" r="2.7" fill="#0000ff" />
<circle cx="581.59" cy="143.81" r="2.7" fill="#0000ff" />
<circle cx="580.87" cy="149.42" r="2.7" fill="#0000ff" />
<circle cx="567.52" cy="148.48" r="2.7" fill="#0000ff" />
<circle cx="561.44" cy="149.69" r="2.7" fill="#0000ff" />
<circle cx="570.99" cy="149.52" r="2.7" fill="#0000ff" />
<circle cx="573.40" cy="144.69" r="2.7" fill="#0000ff" />
<circle cx="554.86" cy="148.59" r="2.7" fill="#0000ff" />
<circle cx="565.81" cy="147.96" r="2.7" fill="#0000ff" />
<circle cx="583.67" cy="145.65" r="2.7" fill="#0000ff" />
<circle cx="539.43" cy="149.37" r="2.7" fill="#0000ff" />
<circle cx="547.24" cy="147.79" r="2.7" fill="#0000ff" />
<circle cx="572.30" cy="148.91" r="2.7" fill="#0000ff" />
<circle cx="558.59" cy="149.36" r="2.7" fill="#0000ff" />
<circle cx="583.54" cy="147.22" r="2.7" fill="#0000ff" />
<circle cx="581.28" cy="148.73" r="2.7" fill="#0000ff" />
<circle cx="574.73" cy="149.65" r="2.7" fill="#0000ff" />
<circle cx="581.58" cy="149.68" r="2.7" fill="#0000ff" />
<circle cx="582.80" cy="149.14" r="2.7" fill="#0000ff" />
<circle cx="541.42" cy="149.55" r="2.7" fill="#0000ff" />
<circle cx="559.88" cy="149.12" r="2.7" fill="#0000ff" />
<circle cx="574.40" cy="148.27" r="2.7" fill="#0000ff" />
<circle cx="573.64" cy="146.58" r="2.7" fill="#0000ff" />
<circle cx="531.76" cy="148.59" r="2.7" fill="#0000ff" />
<circle cx="568.55" cy="148.96" r="2.7" fill="#0000ff" />
<circle cx="582.79" cy="149.54" r="2.7" fill="#0000ff" />
<circle cx="574.62" cy="149.29" r="2.7" fill="#0000ff" />
<circle cx="581.30" cy="143.23" r="2.7" fill="#0000ff" />
<circle cx="584.04" cy="144.91" r="2.7" fill="#0000ff" />
<circle cx="581.71" cy="148.38" r="2.7" fill="#0000ff" />
<circle cx="564.21" cy="147.92" r="2.7" fill="#0000ff" />
<circle cx="532.98" cy="149.53" r="2.7" fill="#0000ff" />
<circle cx="542.28" cy="149.47" r="2.7" fill="#0000ff" />
<circle cx="573.52" cy="148.06" r="2.7" fill="#0000ff" />
<circle cx="581.14" cy="149.12" r="2.7" fill="#0000ff" />
<circle cx="548.62" cy="148.51" r="2.7" fill="#0000ff" />
<circle cx="575.19" cy="148.95" r="2.7" fill="#0000ff" />
<circle cx="532.44" cy="148.22" r="2.7" fill="#0000ff" />
<circle cx="543.10" cy="149.13" r="2.7" fill="#0000ff" />
<circle cx="551.44" cy="147.92" r="2.7" fill="#0000ff" />
<circle cx="579.23" cy="146.85" r="2.7" fill="#0000ff" />
<circle cx="583.98" cy="149.28" r="2.7" fill="#0000ff" />
<circle cx="583.99" cy="149.12" r="2.7" fill="#0000ff" />
<circle cx="554.73" cy="148.86" r="2.7" fill="#0000ff" />
<circle cx="534.81" cy="147.84" r="2.7" fill="#0000ff" />
<circle cx="532.18" cy="149.07" r="2.7" fill="#0000ff" />
<circle cx="534.94" cy="149.31" r="2.7" fill="#0000ff" />
<circle cx="579.23" cy="148.08" r="2.7" fill="#0000ff" />
<circle cx="580.23" cy="148.42" r="2.7" fill="#0000ff" />
<circle cx="539.37" cy="148.54" r="2.7" fill="#0000ff" />
<circle cx="544.04" cy="148.39" r="2.7" fill="#0000ff" />
<circle cx="547.11" cy="149.52" r="2.7" fill="#0000ff" />
<circle cx="583.14" cy="145.17" r="2.7" fill="#0000ff" />
<circle cx="548.39" cy="147.90" r="2.7" fill="#0000ff" />
<circle cx="550.71" cy="149.07" r="2.7" fill="#0000ff" />
<circle cx="547.89" cy="149.62" r="2.7" fill="#0000ff" />
<circle cx="575.06" cy="147.67" r="2.7" fill="#0000ff" />
<circle cx="572.13" cy="144.43" r="2.7" fill="#0000ff" />
<circle cx="571.86" cy="146.59" r="2.7" fill="#0000ff" />
<circle cx="581.05" cy="147.90" r="2.7" fill="#0000ff" />
<circle cx="582.21" cy="145.08" r="2.7" fill="#0000ff" />
<circle cx="546.60" cy="148.04" r="2.7" fill="#0000ff" />
<circle cx="581.72" cy="145.10" r="2.7" fill="#0000ff" />
<circle cx="557.09" cy="146.80" r="2.7" fill="#0000ff" />
<circle cx="574.27" cy="148.53" r="2.7" fill="#0000ff" />
<circle cx="584.11" cy="149.04" r="2.7" fill="#0000ff" />
<circle cx="533.62" cy="149.10" r="2.7" fill="#0000ff" />
<circle cx="536.69" cy="148.86" r="2.7" fill="#0000ff" />
<circle cx="570.24" cy="147.24" r="2.7" fill="#0000ff" />
<circle cx="579.77" cy="145.44" r="2.7" fill="#0000ff" />
<circle cx="578.33" cy="149.13" r="2.7" fill="#0000ff" />
<circle cx="561.60" cy="148.74" r="2.7" fill="#0000ff" />
<circle cx="578.05" cy="148.38" r="2.7" fill="#0000ff" />
<circle cx="538.59" cy="149.48" r="2.7" fill="#0000ff" />
<circle cx="574.11" cy="146.76" r="2.7" fill="#0000ff" />
<circle cx="539.05" cy="149.40" r="2.7" fill="#0000ff" />
<circle cx="570.91" cy="147.69" r="2.7" fill="#0000ff" />
<circle cx="564.87" cy="148.82" r="2.7" fill="#0000ff" />
<circle cx="565.35" cy="148.06" r="2.7" fill="#0000ff" />
<circle cx="580.66" cy="149.28" r="2.7" fill="#0000ff" />
<circle cx="584.16" cy="148.93" r="2.7" fill="#0000ff" />
<circle cx="568.14" cy="148.69" r="2.7" fill="#0000ff" />
<circle cx="552.47" cy="148.83" r="2.7" fill="#0000ff" />
<circle cx="565.65" cy="149.22" r="2.7" fill="#0000ff" />
<circle cx="563.48" cy="149.56" r="2.7" fill="#0000ff" />
<circle cx="563.19" cy="149.04" r="2.7" fill="#0000ff" />
<circle cx="578.45" cy="148.85" r="2.7" fill="#0000ff" />
<circle cx="566.25" cy="147.00" r="2.7" fill="#0000ff" />
<circle cx="563.10" cy="149.50" r="2.7" fill="#0000ff" />
<circle cx="569.75" cy="145.62" r="2.7" fill="#0000ff" />
<circle cx="559.98" cy="148.18" r="2.7" fill="#0000ff" />
<circle cx="554.71" cy="149.65" r="2.7" fill="#0000ff" />
<circle cx="569.27" cy="147.68" r="2.7" fill="#0000ff" />
<circle cx="536.04" cy="149.50" r="2.7" fill="#0000ff" />
<circle cx="554.27" cy="147.84" r="2.7" fill="#0000ff" />
<circle cx="578.04" cy="144.93" r="2.7" fill="#0000ff" />
<circle cx="563.24" cy="147.16" r="2.7" fill="#0000ff" />
<circle cx="581.96" cy="147.29" r="2.7" fill="#0000ff" />
<circle cx="582.34" cy="148.36" r="2.7" fill="#0000ff" />
<circle cx="578.74" cy="149.29" r="2.7" fill="#0000ff" />
<circle cx="583.36" cy="146.37" r="2.7" fill="#0000ff" />
<circle cx="539.63" cy="148.37" r="2.7" fill="#0000ff" />
<circle cx="581.50" cy="148.61" r="2.7" fill="#0000ff" />
<circle cx="581.81" cy="144.58" r="2.7" fill="#0000ff" />
<circle cx="540.75" cy="149.09" r="2.7" fill="#0000ff" />
<circle cx="535.14" cy="149.58" r="2.7" fill="#0000ff" />
<circle cx="572.02" cy="143.46" r="2.7" fill="#0000ff" />
<circle cx="544.65" cy="149.48" r="2.7" fill="#0000ff" />
<circle cx="581.30" cy="145.92" r="2.7" fill="#0000ff" />
<circle cx="574.77" cy="148.51" r="2.7" fill="#0000ff" />
<circle cx="580.27" cy="147.53" r="2.7" fill="#0000ff" />
<circle cx="584.07" cy="143.72" r="2.7" fill="#0000ff" />
<circle cx="563.56" cy="149.44" r="2.7" fill="#0000ff" />
<circle cx="575.11" cy="149.53" r="2.7" fill="#0000ff" />
<circle cx="559.25" cy="149.25" r="2.7" fill="#0000ff" />
<circle cx="532.43" cy="149.68" r="2.7" fill="#0000ff" />
<circle cx="547.94" cy="149.25" r="2.7" fill="#0000ff" />
<circle cx="577.81" cy="149.47" r="2.7" fill="#0000ff" />
<circle cx="583.86" cy="149.12" r="2.7" fill="#0000ff" />
<circle cx="582.15" cy="146.85" r="2.7" fill="#0000ff" />
<circle cx="570.82" cy="146.64" r="2.7" fill="#0000ff" />
<circle cx="578.08" cy="146.91" r="2.7" fill="#0000ff" />
<circle cx="581.63" cy="145.69" r="2.7" fill="#0000ff" />
<circle cx="554.19" cy="149.01" r="2.7" fill="#0000ff" />
<circle cx="583.05" cy="144.19" r="2.7" fill="#0000ff" />
<circle cx="570.67" cy="148.66" r="2.7" fill="#0000ff" />
<circle cx="583.37" cy="144.53" r="2.7" fill="#0000ff" />
<circle cx="546.96" cy="149.19" r="2.7" fill="#0000ff" />
<circle cx="583.16" cy="148.81" r="2.7" fill="#0000ff" />
<circle cx="542.32" cy="149.44" r="2.7" fill="#0000ff" />
<circle cx="569.20" cy="148.48" r="2.7" fill="#0000ff" />
<circle cx="537.25" cy="148.78" r="2.7" fill="#0000ff" />
<circle cx="577.72" cy="147.34" r="2.7" fill="#0000ff" />
<circle cx="578.82" cy="147.05" r="2.7" fill="#0000ff" />
<circle cx="582.63" cy="149.06" r="2.7" fill="#0000ff" />
<circle cx="580.07" cy="148.82" r="2.7" fill="#0000ff" />
<circle cx="575.94" cy="148.25" r="2.7" fill="#0000ff" />
<circle cx="576.85" cy="145.47" r="2.7" fill="#0000ff" />
<circle cx="566.68" cy="149.05" r="2.7" fill="#0000ff" />
<circle cx="584.08" cy="146.28" r="2.7" fill="#0000ff" />
<circle cx="578.38" cy="145.00" r="2.7" fill="#0000ff" />
<circle cx="563.74" cy="149.47" r="2.7" fill="#0000ff" />
<circle cx="580.46" cy="142.12" r="2.7" fill="#0000ff" />
<circle cx="582.70" cy="148.31" r="2.7" fill="#0000ff" />
<circle cx="545.67" cy="148.71" r="2.7" fill="#0000ff" />
<circle cx="544.48" cy="149.26" r="2.7" fill="#0000ff" />
<circle cx="572.27" cy="146.51" r="2.7" fill="#0000ff" />
<circle cx="532.65" cy="149.65" r="2.7" fill="#0000ff" />
<circle cx="574.61" cy="147.87" r="2.7" fill="#0000ff" />
<circle cx="558.48" cy="148.05" r="2.7" fill="#0000ff" />
<circle cx="571.70" cy="149.31" r="2.7" fill="#0000ff" />
<circle cx="582.14" cy="148.70" r="2.7" fill="#0000ff" />
<circle cx="583.40" cy="149.53" r="2.7" fill="#0000ff" />
<circle cx="581.25" cy="147.06" r="2.7" fill="#0000ff" />
<circle cx="583.15" cy="145.44" r="2.7" fill="#0000ff" />
<circle cx="556.21" cy="147.76" r="2.7" fill="#0000ff" />
<circle cx="577.17" cy="149.59" r="2.7" fill="#0000ff" />
<circle cx="568.90" cy="148.22" r="2.7" fill="#0000ff" />
<circle cx="581.41" cy="147.13" r="2.7" fill="#0000ff" />
<circle cx="534.37" cy="149.48" r="2.7" fill="#0000ff" />
<circle cx="533.47" cy="149.11" r="2.7" fill="#0000ff" />
<circle cx="534.05" cy="149.52" r="2.7" fill="#0000ff" />
<circle cx="576.05" cy="149.63" r="2.7" fill="#0000ff" />
<circle cx="572.82" cy="149.62" r="2.7" fill="#0000ff" />
<circle cx="568.08" cy="148.55" r="2.7" fill="#0000ff" />
<circle cx="566.42" cy="149.68" r="2.7" fill="#0000ff" />
<circle cx="584.15" cy="149.54" r="2.7" fill="#0000ff" />
<circle cx="571.96" cy="148.81" r="2.7" fill="#0000ff" />
<circle cx="583.84" cy="146.28" r="2.7" fill="#0000ff" />
<circle cx="579.02" cy="149.34" r="2.7" fill="#0000ff" />
<circle cx="561.66" cy="147.50" r="2.7" fill="#0000ff" />
<circle cx="557.07" cy="149.34" r="2.7" fill="#0000ff" />
<circle cx="553.11" cy="148.94" r="2.7" fill="#0000ff" />
<circle cx="575.34" cy="148.02" r="2.7" fill="#0000ff" />
<circle cx="532.46" cy="148.92" r="2.7" fill="#0000ff" />
<circle cx="558.01" cy="148.15" r="2.7" fill="#0000ff" />
<circle cx="583.81" cy="145.34" r="2.7" fill="#0000ff" />
<circle cx="559.03" cy="147.46" r="2.7" fill="#0000ff" />
<circle cx="551.87" cy="149.48" r="2.7" fill="#0000ff" />
<circle cx="565.34" cy="148.92" r="2.7" fill="#0000ff" />
<circle cx="566.44" cy="148.22" r="2.7" fill="#0000ff" />
<circle cx="545.10" cy="148.26" r="2.7" fill="#0000ff" />
<circle cx="561.75" cy="148.10" r="2.7" fill="#0000ff" />
<circle cx="554.67" cy="148.66" r="2.7" fill="#0000ff" />
<circle cx="579.12" cy="148.11" r="2.7" fill="#0000ff" />
<circle cx="573.80" cy="149.46" r="2.7" fill="#0000ff" />
<circle cx="582.73" cy="147.22" r="2.7" fill="#0000ff" />
<circle cx="559.01" cy="148.35" r="2.7" fill="#0000ff" />
<circle cx="559.10" cy="149.09" r="2.7" fill="#0000ff" />
<circle cx="584.16" cy="145.35" r="2.7" fill="#0000ff" />
<circle cx="547.25" cy="149.69" r="2.7" fill="#0000ff" />
<circle cx="564.67" cy="147.93" r="2.7" fill="#0000ff" />
<circle cx="556.95" cy="147.96" r="2.7" fill="#0000ff" />
<circle cx="578.32" cy="147.79" r="2.7" fill="#0000ff" />
<circle cx="583.33" cy="149.08" r="2.7" fill="#0000ff" />
<circle cx="579.96" cy="144.57" r="2.7" fill="#0000ff" />
<circle cx="551.44" cy="148.52" r="2.7" fill="#0000ff" />
<circle cx="572.77" cy="149.32" r="2.7" fill="#0000ff" />
<circle cx="567.84" cy="148.52" r="2.7" fill="#0000ff" />
<circle cx="559.69" cy="147.73" r="2.7" fill="#0000ff" />
<circle cx="558.04" cy="149.10" r="2.7" fill="#0000ff" />
<circle cx="578.25" cy="148.94" r="2.7" fill="#0000ff" />
<circle cx="551.20" cy="149.26" r="2.7" fill="#0000ff" />
<circle cx="584.12" cy="144.67" r="2.7" fill="#0000ff" />
<circle cx="583.57" cy="149.00" r="2.7" fill="#0000ff" />
<circle cx="554.75" cy="148.07" r="2.7" fill="#0000ff" />
<circle cx="555.86" cy="149.35" r="2.7" fill="#0000ff" />
<circle cx="568.62" cy="147.65" r="2.7" fill="#0000ff" />
<circle cx="568.53" cy="146.97" r="2.7" fill="#0000ff" />
<circle cx="580.15" cy="145.07" r="2.7" fill="#0000ff" />
<circle cx="533.01" cy="149.56" r="2.7" fill="#0000ff" />
<circle cx="568.92" cy="149.57" r="2.7" fill="#0000ff" />
<circle cx="545.60" cy="148.70" r="2.7" fill="#0000ff" />
<circle cx="577.69" cy="149.09" r="2.7" fill="#0000ff" />
<circle cx="579.81" cy="147.65" r="2.7" fill="#0000ff" />
<circle cx="561.91" cy="149.39" r="2.7" fill="#0000ff" />
<circle cx="581.84" cy="140.97" r="2.7" fill="#0000ff" />
<circle cx="582.07" cy="148.35" r="2.7" fill="#0000ff" />
<circle cx="545.57" cy="147.76" r="2.7" fill="#0000ff" />
<circle cx="553.99" cy="149.58" r="2.7" fill="#0000ff" />
<circle cx="579.07" cy="146.90" r="2.7" fill="#0000ff" />
<circle cx="584.02" cy="146.86" r="2.7" fill="#0000ff" />
<circle cx="584.16" cy="145.18" r="2.7" fill="#0000ff" />
<circle cx="576.36" cy="149.55" r="2.7" fill="#0000ff" />
<circle cx="581.87" cy="147.96" r="2.7" fill="#0000ff" />
<circle cx="544.05" cy="149.04" r="2.7" fill="#0000ff" />
<circle cx="584.16" cy="149.66" r="2.7" fill="#0000ff" />
<circle cx="582.38" cy="142.63" r="2.7" fill="#0000ff" />
<circle cx="537.27" cy="149.28" r="2.7" fill="#0000ff" />
<circle cx="576.86" cy="144.11" r="2.7" fill="#0000ff" />
<circle cx="573.26" cy="143.40" r="2.7" fill="#0000ff" />
<circle cx="561.43" cy="146.66" r="2.7" fill="#0000ff" />
<circle cx="573.80" cy="148.07" r="2.7" fill="#0000ff" />
<circle cx="583.75" cy="148.29" r="2.7" fill="#0000ff" />
<circle cx="582.80" cy="148.12" r="2.7" fill="#0000ff" />
<circle cx="536.53" cy="149.10" r="2.7" fill="#0000ff" />
<circle cx="578.42" cy="149.36" r="2.7" fill="#0000ff" />
<circle cx="580.45" cy="145.79" r="2.7" fill="#0000ff" />
<circle cx="573.21" cy="145.32" r="2.7" fill="#0000ff" />
<circle cx="546.19" cy="149.17" r="2.7" fill="#0000ff" />
<circle cx="558.80" cy="147.20" r="2.7" fill="#0000ff" />
<circle cx="563.85" cy="147.92" r="2.7" fill="#0000ff" />
<circle cx="552.87" cy="148.07" r="2.7" fill="#0000ff" />
<circle cx="569.35" cy="148.80" r="2.7" fill="#0000ff" />
<circle cx="550.53" cy="149.19" r="2.7" fill="#0000ff" />
<circle cx="583.74" cy="147.09" r="2.7" fill="#0000ff" />
<circle cx="537.24" cy="149.03" r="2.7" fill="#0000ff" />
<circle cx="574.57" cy="147.79" r="2.7" fill="#0000ff" />
<circle cx="576.54" cy="149.21" r="2.7" fill="#0000ff" />
<circle cx="578.02" cy="141.93" r="2.7" fill="#0000ff" />
<circle cx="557.17" cy="149.23" r="2.7" fill="#0000ff" />
<circle cx="572.21" cy="147.17" r="2.7" fill="#0000ff" />
<circle cx="581.13" cy="148.47" r="2.7" fill="#0000ff" />
<circle cx="538.92" cy="149.20" r="2.7" fill="#0000ff" />
<circle cx="566.85" cy="149.04" r="2.7" fill="#0000ff" />
<circle cx="531.47" cy="147.95" r="2.7" fill="#0000ff" />
<circle cx="569.40" cy="148.94" r="2.7" fill="#0000ff" />
<circle cx="583.03" cy="147.77" r="2.7" fill="#0000ff" />
<circle cx="574.65" cy="148.23" r="2.7" fill="#0000ff" />
<circle cx="578.09" cy="148.56" r="2.7" fill="#0000ff" />
<circle cx="562.63" cy="147.95" r="2.7" fill="#0000ff" />
<circle cx="571.30" cy="147.54" r="2.7" fill="#0000ff" />
<circle cx="571.25" cy="147.79" r="2.7" fill="#0000ff" />
<circle cx="574.81" cy="149.35" r="2.7" fill="#0000ff" />
<circle cx="583.54" cy="147.91" r="2.7" fill="#0000ff" />
<circle cx="582.24" cy="140.24" r="2.7" fill="#0000ff" />
<circle cx="566.49" cy="147.50" r="2.7" fill="#0000ff" />
<circle cx="579.60" cy="145.17" r="2.7" fill="#0000ff" />
<circle cx="577.60" cy="149.67" r="2.7" fill="#0000ff" />
<circle cx="569.61" cy="147.84" r="2.7" fill="#0000ff" />
<circle cx="535.02" cy="148.71" r="2.7" fill="#0000ff" />
<circle cx="584.05" cy="142.91" r="2.7" fill="#0000ff" />
<circle cx="583.95" cy="147.52" r="2.7" fill="#0000ff" />
<circle cx="568.15" cy="146.15" r="2.7" fill="#0000ff" />
<circle cx="561.56" cy="148.37" r="2.7" fill="#0000ff" />
<circle cx="537.24" cy="149.70" r="2.7" fill="#0000ff" />
<circle cx="545.17" cy="148.18" r="2.7" fill="#0000ff" />
<circle cx="578.45" cy="143.54" r="2.7" fill="#0000ff" />
<circle cx="582.64" cy="147.12" r="2.7" fill="#0000ff" />
<circle cx="555.43" cy="148.58" r="2.7" fill="#0000ff" />
<circle cx="536.05" cy="149.48" r="2.7" fill="#0000ff" />
<circle cx="549.66" cy="148.29" r="2.7" fill="#0000ff" />
<circle cx="627.27" cy="148.88" r="2.7" fill="#0000ff" />
<circle cx="647.11" cy="149.52" r="2.7" fill="#0000ff" />
<circle cx="614.71" cy="144.21" r="2.7" fill="#0000ff" />
<circle cx="618.55" cy="147.00" r="2.7" fill="#0000ff" />
<circle cx="609.41" cy="149.62" r="2.7" fill="#0000ff" />
<circle cx="641.86" cy="146.55" r="2.7" fill="#0000ff" />
<circle cx="608.65" cy="143.90" r="2.7" fill="#0000ff" />
<circle cx="634.75" cy="148.36" r="2.7" fill="#0000ff" />
<circle cx="623.27" cy="148.94" r="2.7" fill="#0000ff" />
<circle cx="604.34" cy="141.59" r="2.7" fill="#0000ff" />
<circle cx="618.43" cy="140.16" r="2.7" fill="#0000ff" />
<circle cx="638.51" cy="148.24" r="2.7" fill="#0000ff" />
<circle cx="653.60" cy="148.38" r="2.7" fill="#0000ff" />
<circle cx="615.48" cy="149.22" r="2.7" fill="#0000ff" />
<circle cx="658.59" cy="149.29" r="2.7" fill="#0000ff" />
<circle cx="604.74" cy="144.78" r="2.7" fill="#0000ff" />
<circle cx="629.68" cy="148.32" r="2.7" fill="#0000ff" />
<circle cx="616.03" cy="145.82" r="2.7" fill="#0000ff" />
<circle cx="639.92" cy="148.23" r="2.7" fill="#0000ff" />
<circle cx="605.21" cy="147.79" r="2.7" fill="#0000ff" />
<circle cx="620.45" cy="144.81" r="2.7" fill="#0000ff" />
<circle cx="612.91" cy="146.37" r="2.7" fill="#0000ff" />
<circle cx="648.05" cy="149.54" r="2.7" fill="#0000ff" />
<circle cx="613.28" cy="144.33" r="2.7" fill="#0000ff" />
<circle cx="659.19" cy="148.51" r="2.7" fill="#0000ff" />
<circle cx="614.62" cy="142.22" r="2.7" fill="#0000ff" />
<circle cx="614.13" cy="149.46" r="2.7" fill="#0000ff" />
<circle cx="658.02" cy="148.26" r="2.7" fill="#0000ff" />
<circle cx="629.53" cy="148.91" r="2.7" fill="#0000ff" />
<circle cx="624.93" cy="147.56" r="2.7" fill="#0000ff" />
<circle cx="639.79" cy="148.47" r="2.7" fill="#0000ff" />
<circle cx="623.58" cy="149.10" r="2.7" fill="#0000ff" />
<circle cx="613.68" cy="147.25" r="2.7" fill="#0000ff" />
<circle cx="605.94" cy="149.18" r="2.7" fill="#0000ff" />
<circle cx="606.29" cy="140.18" r="2.7" fill="#0000ff" />
<circle cx="653.59" cy="147.27" r="2.7" fill="#0000ff" />
<circle cx="643.99" cy="144.76" r="2.7" fill="#0000ff" />
<circle cx="619.96" cy="149.57" r="2.7" fill="#0000ff" />
<circle cx="612.27" cy="142.56" r="2.7" fill="#0000ff" />
<circle cx="605.12" cy="145.86" r="2.7" fill="#0000ff" />
<circle cx="639.74" cy="148.08" r="2.7" fill="#0000ff" />
<circle cx="620.10" cy="147.22" r="2.7" fill="#0000ff" />
<circle cx="611.44" cy="145.80" r="2.7" fill="#0000ff" />
<circle cx="621.20" cy="149.65" r="2.7" fill="#0000ff" />
<circle cx="658.26" cy="146.53" r="2.7" fill="#0000ff" />
<circle cx="613.39" cy="141.50" r="2.7" fill="#0000ff" />
<circle cx="621.49" cy="146.82" r="2.7" fill="#0000ff" />
<circle cx="625.82" cy="144.38" r="2.7" fill="#0000ff" />
<circle cx="605.83" cy="144.20" r="2.7" fill="#0000ff" />
<circle cx="655.91" cy="149.42" r="2.7" fill="#0000ff" />
<circle cx="612.65" cy="143.20" r="2.7" fill="#0000ff" />
<circle cx="605.06" cy="140.19" r="2.7" fill="#0000ff" />
<circle cx="624.57" cy="147.58" r="2.7" fill="#0000ff" />
<circle cx="605.47" cy="140.48" r="2.7" fill="#0000ff" />
<circle cx="605.24" cy="137.48" r="2.7" fill="#0000ff" />
<circle cx="616.01" cy="146.10" r="2.7" fill="#0000ff" />
<circle cx="644.90" cy="148.17" r="2.7" fill="#0000ff" />
<circle cx="616.84" cy="147.49" r="2.7" fill="#0000ff" />
<circle cx="658.40" cy="148.71" r="2.7" fill="#0000ff" />
<circle cx="642.98" cy="148.56" r="2.7" fill="#0000ff" />
<circle cx="619.25" cy="149.65" r="2.7" fill="#0000ff" />
<circle cx="645.43" cy="149.52" r="2.7" fill="#0000ff" />
<circle cx="655.71" cy="146.86" r="2.7" fill="#0000ff" />
<circle cx="604.83" cy="139.04" r="2.7" fill="#0000ff" />
<circle cx="614.78" cy="138.95" r="2.7" fill="#0000ff" />
<circle cx="658.15" cy="149.03" r="2.7" fill="#0000ff" />
<circle cx="623.18" cy="149.68" r="2.7" fill="#0000ff" />
<circle cx="629.40" cy="146.62" r="2.7" fill="#0000ff" />
<circle cx="656.47" cy="148.40" r="2.7" fill="#0000ff" />
<circle cx="644.35" cy="146.22" r="2.7" fill="#0000ff" />
<circle cx="649.69" cy="149.32" r="2.7" fill="#0000ff" />
<circle cx="619.88" cy="144.64" r="2.7" fill="#0000ff" />
<circle cx="619.42" cy="145.43" r="2.7" fill="#0000ff" />
<circle cx="607.12" cy="142.33" r="2.7" fill="#0000ff" />
<circle cx="612.87" cy="149.64" r="2.7" fill="#0000ff" />
<circle cx="606.49" cy="145.44" r="2.7" fill="#0000ff" />
<circle cx="605.20" cy="144.75" r="2.7" fill="#0000ff" />
<circle cx="659.87" cy="149.21" r="2.7" fill="#0000ff" />
<circle cx="653.58" cy="148.27" r="2.7" fill="#0000ff" />
<circle cx="607.35" cy="149.37" r="2.7" fill="#0000ff" />
<circle cx="607.91" cy="141.22" r="2.7" fill="#0000ff" />
<circle cx="626.67" cy="149.65" r="2.7" fill="#0000ff" />
<circle cx="614.80" cy="144.47" r="2.7" fill="#0000ff" />
<circle cx="640.34" cy="148.11" r="2.7" fill="#0000ff" />
<circle cx="644.95" cy="147.93" r="2.7" fill="#0000ff" />
<circle cx="609.08" cy="143.41" r="2.7" fill="#0000ff" />
<circle cx="650.84" cy="149.03" r="2.7" fill="#0000ff" />
<circle cx="622.41" cy="145.37" r="2.7" fill="#0000ff" />
<circle cx="644.33" cy="149.20" r="2.7" fill="#0000ff" />
<circle cx="615.39" cy="146.65" r="2.7" fill="#0000ff" />
<circle cx="610.65" cy="144.86" r="2.7" fill="#0000ff" />
<circle cx="619.80" cy="146.43" r="2.7" fill="#0000ff" />
<circle cx="623.73" cy="145.71" r="2.7" fill="#0000ff" />
<circle cx="614.65" cy="149.45" r="2.7" fill="#0000ff" />
<circle cx="648.77" cy="146.26" r="2.7" fill="#0000ff" />
<circle cx="608.19" cy="136.25" r="2.7" fill="#0000ff" />
<circle cx="628.29" cy="147.29" r="2.7" fill="#0000ff" />
<circle cx="655.58" cy="146.60" r="2.7" fill="#0000ff" />
<circle cx="605.46" cy="148.90" r="2.7" fill="#0000ff" />
<circle cx="612.48" cy="147.44" r="2.7" fill="#0000ff" />
<circle cx="659.40" cy="146.30" r="2.7" fill="#0000ff" />
<circle cx="622.37" cy="145.69" r="2.7" fill="#0000ff" />
<circle cx="652.46" cy="148.33" r="2.7" fill="#0000ff" />
<circle cx="646.83" cy="149.21" r="2.7" fill="#0000ff" />
<circle cx="657.62" cy="147.86" r="2.7" fill="#0000ff" />
<circle cx="637.00" cy="147.67" r="2.7" fill="#0000ff" />
<circle cx="613.93" cy="148.03" r="2.7" fill="#0000ff" />
<circle cx="613.22" cy="147.85" r="2.7" fill="#0000ff" />
<circle cx="615.90" cy="144.76" r="2.7" fill="#0000ff" />
<circle cx="613.19" cy="145.83" r="2.7" fill="#0000ff" />
<circle cx="604.37" cy="145.44" r="2.7" fill="#0000ff" />
<circle cx="612.25" cy="143.45" r="2.7" fill="#0000ff" />
<circle cx="619.01" cy="147.73" r="2.7" fill="#0000ff" />
<circle cx="632.65" cy="145.11" r="2.7" fill="#0000ff" />
<circle cx="606.43" cy="145.14" r="2.7" fill="#0000ff" />
<circle cx="632.77" cy="148.10" r="2.7" fill="#0000ff" />
<circle cx="638.18" cy="148.50" r="2.7" fill="#0000ff" />
<circle cx="641.66" cy="148.98" r="2.7" fill="#0000ff" />
<circle cx="624.52" cy="149.11" r="2.7" fill="#0000ff" />
<circle cx="658.10" cy="148.25" r="2.7" fill="#0000ff" />
<circle cx="619.02" cy="146.41" r="2.7" fill="#0000ff" />
<circle cx="624.90" cy="148.46" r="2.7" fill="#0000ff" />
<circle cx="652.34" cy="147.93" r="2.7" fill="#0000ff" />
<circle cx="612.87" cy="149.61" r="2.7" fill="#0000ff" />
<circle cx="643.70" cy="149.63" r="2.7" fill="#0000ff" />
<circle cx="654.75" cy="149.51" r="2.7" fill="#0000ff" />
<circle cx="625.32" cy="148.29" r="2.7" fill="#0000ff" />
<circle cx="653.54" cy="148.01" r="2.7" fill="#0000ff" />
<circle cx="627.48" cy="149.42" r="2.7" fill="#0000ff" />
<circle cx="632.86" cy="149.31" r="2.7" fill="#0000ff" />
<circle cx="638.27" cy="148.83" r="2.7" fill="#0000ff" />
<circle cx="637.14" cy="149.14" r="2.7" fill="#0000ff" />
<circle cx="622.29" cy="147.74" r="2.7" fill="#0000ff" />
<circle cx="617.43" cy="149.64" r="2.7" fill="#0000ff" />
<circle cx="631.04" cy="148.50" r="2.7" fill="#0000ff" />
<circle cx="629.22" cy="149.07" r="2.7" fill="#0000ff" />
<circle cx="648.54" cy="148.42" r="2.7" fill="#0000ff" />
<circle cx="609.34" cy="149.00" r="2.7" fill="#0000ff" />
<circle cx="657.44" cy="147.73" r="2.7" fill="#0000ff" />
<circle cx="606.00" cy="148.69" r="2.7" fill="#0000ff" />
<circle cx="656.34" cy="146.79" r="2.7" fill="#0000ff" />
<circle cx="637.03" cy="146.28" r="2.7" fill="#0000ff" />
<circle cx="649.80" cy="147.89" r="2.7" fill="#0000ff" />
<circle cx="614.16" cy="143.14" r="2.7" fill="#0000ff" />
<circle cx="624.21" cy="146.15" r="2.7" fill="#0000ff" />
<circle cx="612.14" cy="142.42" r="2.7" fill="#0000ff" />
<circle cx="613.95" cy="145.36" r="2.7" fill="#0000ff" />
<circle cx="623.02" cy="147.26" r="2.7" fill="#0000ff" />
<circle cx="609.17" cy="149.55" r="2.7" fill="#0000ff" />
<circle cx="654.47" cy="146.80" r="2.7" fill="#0000ff" />
<circle cx="605.49" cy="140.62" r="2.7" fill="#0000ff" />
<circle cx="605.37" cy="145.93" r="2.7" fill="#0000ff" />
<circle cx="650.67" cy="147.79" r="2.7" fill="#0000ff" />
<circle cx="632.77" cy="147.25" r="2.7" fill="#0000ff" />
<circle cx="637.44" cy="148.83" r="2.7" fill="#0000ff" />
<circle cx="634.73" cy="147.19" r="2.7" fill="#0000ff" />
<circle cx="625.44" cy="147.81" r="2.7" fill="#0000ff" />
<circle cx="626.17" cy="146.82" r="2.7" fill="#0000ff" />
<circle cx="604.80" cy="144.62" r="2.7" fill="#0000ff" />
<circle cx="614.85" cy="146.29" r="2.7" fill="#0000ff" />
<circle cx="645.93" cy="149.27" r="2.7" fill="#0000ff" />
<circle cx="611.97" cy="144.55" r="2.7" fill="#0000ff" />
<circle cx="628.20" cy="148.47" r="2.7" fill="#0000ff" />
<circle cx="625.72" cy="148.66" r="2.7" fill="#0000ff" />
<circle cx="607.70" cy="143.64" r="2.7" fill="#0000ff" />
<circle cx="605.48" cy="147.21" r="2.7" fill="#0000ff" />
<circle cx="638.01" cy="146.32" r="2.7" fill="#0000ff" />
<circle cx="646.82" cy="148.07" r="2.7" fill="#0000ff" />
<circle cx="630.46" cy="146.54" r="2.7" fill="#0000ff" />
<circle cx="622.69" cy="148.33" r="2.7" fill="#0000ff" />
<circle cx="657.95" cy="147.46" r="2.7" fill="#0000ff" />
<circle cx="660.91" cy="147.21" r="2.7" fill="#0000ff" />
<circle cx="643.95" cy="149.14" r="2.7" fill="#0000ff" />
<circle cx="659.97" cy="148.68" r="2.7" fill="#0000ff" />
<circle cx="629.30" cy="143.46" r="2.7" fill="#0000ff" />
<circle cx="611.24" cy="146.80" r="2.7" fill="#0000ff" />
<circle cx="647.50" cy="149.03" r="2.7" fill="#0000ff" />
<circle cx="621.17" cy="149.14" r="2.7" fill="#0000ff" />
<circle cx="645.46" cy="147.30" r="2.7" fill="#0000ff" />
<circle cx="616.98" cy="142.43" r="2.7" fill="#0000ff" />
<circle cx="649.23" cy="148.27" r="2.7" fill="#0000ff" />
<circle cx="655.94" cy="148.06" r="2.7" fill="#0000ff" />
<circle cx="613.44" cy="149.27" r="2.7" fill="#0000ff" />
<circle cx="619.39" cy="145.22" r="2.7" fill="#0000ff" />
<circle cx="605.32" cy="148.26" r="2.7" fill="#0000ff" />
<circle cx="657.01" cy="148.76" r="2.7" fill="#0000ff" />
<circle cx="640.68" cy="148.61" r="2.7" fill="#0000ff" />
<circle cx="647.28" cy="148.95" r="2.7" fill="#0000ff" />
<circle cx="608.79" cy="142.39" r="2.7" fill="#0000ff" />
<circle cx="621.67" cy="148.73" r="2.7" fill="#0000ff" />
<circle cx="652.90" cy="147.41" r="2.7" fill="#0000ff" />
<circle cx="653.52" cy="148.88" r="2.7" fill="#0000ff" />
<circle cx="608.30" cy="142.20" r="2.7" fill="#0000ff" />
<circle cx="623.63" cy="149.49" r="2.7" fill="#0000ff" />
<circle cx="648.09" cy="149.14" r="2.7" fill="#0000ff" />
<circle cx="634.41" cy="141.85" r="2.7" fill="#0000ff" />
<circle cx="621.70" cy="149.35" r="2.7" fill="#0000ff" />
<circle cx="611.82" cy="144.58" r="2.7" fill="#0000ff" />
<circle cx="644.67" cy="145.98" r="2.7" fill="#0000ff" />
<circle cx="615.83" cy="147.37" r="2.7" fill="#0000ff" />
<circle cx="638.19" cy="146.55" r="2.7" fill="#0000ff" />
<circle cx="639.69" cy="149.39" r="2.7" fill="#0000ff" />
<circle cx="619.04" cy="148.70" r="2.7" fill="#0000ff" />
<circle cx="610.45" cy="149.69" r="2.7" fill="#0000ff" />
<circle cx="636.77" cy="147.02" r="2.7" fill="#0000ff" />
<circle cx="654.36" cy="148.80" r="2.7" fill="#0000ff" />
<circle cx="609.60" cy="148.64" r="2.7" fill="#0000ff" />
<circle cx="604.76" cy="141.08" r="2.7" fill="#0000ff" />
<circle cx="604.10" cy="147.92" r="2.7" fill="#0000ff" />
<circle cx="621.52" cy="148.36" r="2.7" fill="#0000ff" />
<circle cx="614.27" cy="144.61" r="2.7" fill="#0000ff" />
<circle cx="613.23" cy="146.66" r="2.7" fill="#0000ff" />
<circle cx="637.25" cy="148.41" r="2.7" fill="#0000ff" />
<circle cx="657.02" cy="149.55" r="2.7" fill="#0000ff" />
<circle cx="615.30" cy="148.57" r="2.7" fill="#0000ff" />
<circle cx="638.12" cy="148.84" r="2.7" fill="#0000ff" />
<circle cx="652.80" cy="149.32" r="2.7" fill="#0000ff" />
<circle cx="616.40" cy="145.59" r="2.7" fill="#0000ff" />
<circle cx="604.37" cy="144.92" r="2.7" fill="#0000ff" />
<circle cx="621.14" cy="146.04" r="2.7" fill="#0000ff" />
<circle cx="638.58" cy="144.48" r="2.7" fill="#0000ff" />
<circle cx="644.04" cy="147.97" r="2.7" fill="#0000ff" />
<circle cx="615.56" cy="148.65" r="2.7" fill="#0000ff" />
<circle cx="631.66" cy="149.23" r="2.7" fill="#0000ff" />
<circle cx="624.30" cy="149.61" r="2.7" fill="#0000ff" />
<circle cx="646.90" cy="149.00" r="2.7" fill="#0000ff" />
<circle cx="604.40" cy="136.03" r="2.7" fill="#0000ff" />
<circle cx="610.10" cy="145.94" r="2.7" fill="#0000ff" />
<circle cx="612.99" cy="145.46" r="2.7" fill="#0000ff" />
<circle cx="638.33" cy="147.92" r="2.7" fill="#0000ff" />
<circle cx="649.09" cy="148.93" r="2.7" fill="#0000ff" />
<circle cx="618.36" cy="146.71" r="2.7" fill="#0000ff" />
<circle cx="605.80" cy="141.94" r="2.7" fill="#0000ff" />
<circle cx="642.91" cy="147.27" r="2.7" fill="#0000ff" />
<circle cx="604.21" cy="144.06" r="2.7" fill="#0000ff" />
<circle cx="627.74" cy="145.55" r="2.7" fill="#0000ff" />
<circle cx="644.56" cy="148.26" r="2.7" fill="#0000ff" />
<circle cx="608.33" cy="148.58" r="2.7" fill="#0000ff" />
<circle cx="614.70" cy="145.88" r="2.7" fill="#0000ff" />
<circle cx="645.05" cy="149.24" r="2.7" fill="#0000ff" />
<circle cx="641.64" cy="147.72" r="2.7" fill="#0000ff" />
<circle cx="616.49" cy="144.33" r="2.7" fill="#0000ff" />
<circle cx="632.99" cy="145.37" r="2.7" fill="#0000ff" />
<circle cx="631.16" cy="147.78" r="2.7" fill="#0000ff" />
<circle cx="616.46" cy="142.99" r="2.7" fill="#0000ff" />
<circle cx="613.89" cy="140.71" r="2.7" fill="#0000ff" />
<circle cx="653.36" cy="148.28" r="2.7" fill="#0000ff" />
<circle cx="614.90" cy="149.38" r="2.7" fill="#0000ff" />
<circle cx="644.69" cy="146.42" r="2.7" fill="#0000ff" />
<circle cx="619.83" cy="147.59" r="2.7" fill="#0000ff" />
<circle cx="653.37" cy="149.06" r="2.7" fill="#0000ff" />
<circle cx="655.14" cy="148.53" r="2.7" fill="#0000ff" />
<circle cx="637.66" cy="148.45" r="2.7" fill="#0000ff" />
<circle cx="659.79" cy="147.36" r="2.7" fill="#0000ff" />
<circle cx="627.98" cy="147.21" r="2.7" fill="#0000ff" />
<circle cx="651.91" cy="147.25" r="2.7" fill="#0000ff" />
<circle cx="626.10" cy="149.05" r="2.7" fill="#0000ff" />
<circle cx="618.77" cy="144.75" r="2.7" fill="#0000ff" />
<circle cx="613.63" cy="148.40" r="2.7" fill="#0000ff" />
<circle cx="655.35" cy="149.20" r="2.7" fill="#0000ff" />
<circle cx="610.22" cy="147.36" r="2.7" fill="#0000ff" />
<circle cx="656.53" cy="149.56" r="2.7" fill="#0000ff" />
<circle cx="620.83" cy="149.15" r="2.7" fill="#0000ff" />
<circle cx="605.51" cy="148.60" r="2.7" fill="#0000ff" />
<circle cx="641.49" cy="147.40" r="2.7" fill="#0000ff" />
<circle cx="644.24" cy="147.26" r="2.7" fill="#0000ff" />
<circle cx="606.53" cy="145.18" r="2.7" fill="#0000ff" />
<circle cx="649.35" cy="148.70" r="2.7" fill="#0000ff" />
<circle cx="649.48" cy="149.14" r="2.7" fill="#0000ff" />
<circle cx="652.57" cy="149.27" r="2.7" fill="#0000ff" />
<circle cx="655.58" cy="148.90" r="2.7" fill="#0000ff" />
<circle cx="613.31" cy="148.96" r="2.7" fill="#0000ff" />
<circle cx="608.64" cy="139.73" r="2.7" fill="#0000ff" />
<circle cx="649.00" cy="148.88" r="2.7" fill="#0000ff" />
<circle cx="637.88" cy="148.16" r="2.7" fill="#0000ff" />
<circle cx="617.65" cy="144.68" r="2.7" fill="#0000ff" />
<circle cx="608.07" cy="142.33" r="2.7" fill="#0000ff" />
<circle cx="613.27" cy="145.29" r="2.7" fill="#0000ff" />
<circle cx="619.40" cy="149.01" r="2.7" fill="#0000ff" />
<circle cx="616.00" cy="149.30" r="2.7" fill="#0000ff" />
<circle cx="617.39" cy="148.88" r="2.7" fill="#0000ff" />
<circle cx="619.49" cy="146.16" r="2.7" fill="#0000ff" />
<circle cx="658.81" cy="146.36" r="2.7" fill="#0000ff" />
<circle cx="636.90" cy="149.59" r="2.7" fill="#0000ff" />
<circle cx="605.09" cy="144.29" r="2.7" fill="#0000ff" />
<circle cx="646.53" cy="148.56" r="2.7" fill="#0000ff" />
<circle cx="620.94" cy="148.43" r="2.7" fill="#0000ff" />
<circle cx="613.87" cy="144.38" r="2.7" fill="#0000ff" />
<circle cx="652.21" cy="146.79" r="2.7" fill="#0000ff" />
<circle cx="611.50" cy="144.89" r="2.7" fill="#0000ff" />
<circle cx="604.06" cy="146.62" r="2.7" fill="#0000ff" />
<circle cx="659.72" cy="146.96" r="2.7" fill="#0000ff" />
<circle cx="604.15" cy="142.61" r="2.7" fill="#0000ff" />
<circle cx="648.03" cy="149.57" r="2.7" fill="#0000ff" />
<circle cx="612.22" cy="145.37" r="2.7" fill="#0000ff" />
<circle cx="650.27" cy="149.64" r="2.7" fill="#0000ff" />
<circle cx="616.20" cy="146.51" r="2.7" fill="#0000ff" />
<circle cx="613.78" cy="148.44" r="2.7" fill="#0000ff" />
<circle cx="641.91" cy="148.63" r="2.7" fill="#0000ff" />
<circle cx="638.02" cy="149.69" r="2.7" fill="#0000ff" />
<circle cx="607.20" cy="147.69" r="2.7" fill="#0000ff" />
<circle cx="647.41" cy="146.68" r="2.7" fill="#0000ff" />
<circle cx="637.49" cy="148.19" r="2.7" fill="#0000ff" />
<circle cx="623.65" cy="147.01" r="2.7" fill="#0000ff" />
<circle cx="654.03" cy="146.44" r="2.7" fill="#0000ff" />
<circle cx="604.86" cy="143.27" r="2.7" fill="#0000ff" />
<circle cx="613.33" cy="148.89" r="2.7" fill="#0000ff" />
<circle cx="629.85" cy="143.54" r="2.7" fill="#0000ff" />
<circle cx="622.77" cy="147.82" r="2.7" fill="#0000ff" />
<circle cx="627.48" cy="148.22" r="2.7" fill="#0000ff" />
<circle cx="631.66" cy="149.57" r="2.7" fill="#0000ff" />
<circle cx="638.62" cy="145.75" r="2.7" fill="#0000ff" />
<circle cx="621.03" cy="148.73" r="2.7" fill="#0000ff" />
<circle cx="650.99" cy="148.72" r="2.7" fill="#0000ff" />
<circle cx="639.59" cy="149.63" r="2.7" fill="#0000ff" />
<circle cx="626.19" cy="147.78" r="2.7" fill="#0000ff" />
<circle cx="646.55" cy="148.77" r="2.7" fill="#0000ff" />
<circle cx="627.55" cy="148.95" r="2.7" fill="#0000ff" />
<circle cx="653.69" cy="149.61" r="2.7" fill="#0000ff" />
<circle cx="618.43" cy="147.17" r="2.7" fill="#0000ff" />
<circle cx="642.14" cy="148.99" r="2.7" fill="#0000ff" />
<circle cx="610.78" cy="147.33" r="2.7" fill="#0000ff" />
<circle cx="615.51" cy="147.31" r="2.7" fill="#0000ff" />
<circle cx="611.03" cy="144.45" r="2.7" fill="#0000ff" />
<circle cx="619.89" cy="145.92" r="2.7" fill="#0000ff" />
<circle cx="643.74" cy="144.30" r="2.7" fill="#0000ff" />
<circle cx="608.16" cy="147.29" r="2.7" fill="#0000ff" />
<circle cx="623.05" cy="149.33" r="2.7" fill="#0000ff" />
<circle cx="660.11" cy="148.94" r="2.7" fill="#0000ff" />
<circle cx="625.97" cy="144.76" r="2.7" fill="#0000ff" />
<circle cx="612.82" cy="148.28" r="2.7" fill="#0000ff" />
<circle cx="613.34" cy="148.06" r="2.7" fill="#0000ff" />
<circle cx="623.29" cy="146.35" r="2.7" fill="#0000ff" />
<circle cx="647.67" cy="149.27" r="2.7" fill="#0000ff" />
<circle cx="641.54" cy="146.54" r="2.7" fill="#0000ff" />
<circle cx="627.62" cy="149.69" r="2.7" fill="#0000ff" />
<circle cx="610.08" cy="145.63" r="2.7" fill="#0000ff" />
<circle cx="644.51" cy="148.40" r="2.7" fill="#0000ff" />
<circle cx="655.17" cy="147.58" r="2.7" fill="#0000ff" />
<circle cx="645.02" cy="148.54" r="2.7" fill="#0000ff" />
<circle cx="625.17" cy="149.01" r="2.7" fill="#0000ff" />
<circle cx="653.36" cy="146.79" r="2.7" fill="#0000ff" />
<circle cx="646.59" cy="148.47" r="2.7" fill="#0000ff" />
<circle cx="640.68" cy="145.48" r="2.7" fill="#0000ff" />
<circle cx="638.33" cy="147.73" r="2.7" fill="#0000ff" />
<circle cx="637.51" cy="149.10" r="2.7" fill="#0000ff" />
<circle cx="607.98" cy="141.48" r="2.7" fill="#0000ff" />
<circle cx="642.77" cy="147.86" r="2.7" fill="#0000ff" />
<circle cx="637.60" cy="149.70" r="2.7" fill="#0000ff" />
<circle cx="627.15" cy="146.48" r="2.7" fill="#0000ff" />
<circle cx="637.10" cy="146.62" r="2.7" fill="#0000ff" />
<circle cx="656.61" cy="148.28" r="2.7" fill="#0000ff" />
<circle cx="612.14" cy="145.09" r="2.7" fill="#0000ff" />
<circle cx="623.31" cy="144.83" r="2.7" fill="#0000ff" />
<circle cx="629.18" cy="148.90" r="2.7" fill="#0000ff" />
<circle cx="632.36" cy="149.58" r="2.7" fill="#0000ff" />
<circle cx="611.02" cy="147.40" r="2.7" fill="#0000ff" />
<circle cx="630.92" cy="143.18" r="2.7" fill="#0000ff" />
<circle cx="608.13" cy="143.74" r="2.7" fill="#0000ff" />
<circle cx="643.02" cy="148.48" r="2.7" fill="#0000ff" />
<circle cx="630.50" cy="146.29" r="2.7" fill="#0000ff" />
<circle cx="631.07" cy="145.68" r="2.7" fill="#0000ff" />
<circle cx="624.55" cy="147.56" r="2.7" fill="#0000ff" />
<circle cx="640.97" cy="149.20" r="2.7" fill="#0000ff" />
<circle cx="623.52" cy="149.56" r="2.7" fill="#0000ff" />
<circle cx="660.15" cy="148.84" r="2.7" fill="#0000ff" />
<circle cx="621.43" cy="147.01" r="2.7" fill="#0000ff" />
<circle cx="623.94" cy="148.77" r="2.7" fill="#0000ff" />
<circle cx="604.43" cy="144.19" r="2.7" fill="#0000ff" />
<circle cx="641.84" cy="148.57" r="2.7" fill="#0000ff" />
<circle cx="621.24" cy="149.46" r="2.7" fill="#0000ff" />
<circle cx="644.54" cy="148.20" r="2.7" fill="#0000ff" />
<circle cx="657.24" cy="148.49" r="2.7" fill="#0000ff" />
<circle cx="648.33" cy="149.46" r="2.7" fill="#0000ff" />
<circle cx="623.49" cy="149.28" r="2.7" fill="#0000ff" />
<circle cx="646.75" cy="148.66" r="2.7" fill="#0000ff" />
<circle cx="648.85" cy="148.23" r="2.7" fill="#0000ff" />
<circle cx="633.49" cy="147.48" r="2.7" fill="#0000ff" />
<circle cx="614.37" cy="145.70" r="2.7" fill="#0000ff" />
<circle cx="638.16" cy="149.20" r="2.7" fill="#0000ff" />
<circle cx="649.43" cy="148.82" r="2.7" fill="#0000ff" />
<circle cx="618.03" cy="145.65" r="2.7" fill="#0000ff" />
<circle cx="632.66" cy="146.10" r="2.7" fill="#0000ff" />
<circle cx="621.39" cy="144.90" r="2.7" fill="#0000ff" />
<circle cx="651.47" cy="149.50" r="2.7" fill="#0000ff" />
<circle cx="615.83" cy="145.64" r="2.7" fill="#0000ff" />
<circle cx="625.46" cy="149.61" r="2.7" fill="#0000ff" />
<circle cx="643.31" cy="149.55" r="2.7" fill="#0000ff" />
<circle cx="617.32" cy="149.59" r="2.7" fill="#0000ff" />
<circle cx="628.57" cy="147.19" r="2.7" fill="#0000ff" />
<circle cx="625.59" cy="146.65" r="2.7" fill="#0000ff" />
<circle cx="621.82" cy="145.76" r="2.7" fill="#0000ff" />
<circle cx="656.51" cy="149.33" r="2.7" fill="#0000ff" />
<circle cx="650.01" cy="149.18" r="2.7" fill="#0000ff" />
<circle cx="655.02" cy="149.49" r="2.7" fill="#0000ff" />
<circle cx="650.23" cy="148.67" r="2.7" fill="#0000ff" />
<circle cx="637.81" cy="149.34" r="2.7" fill="#0000ff" />
<circle cx="658.01" cy="149.68" r="2.7" fill="#0000ff" />
<circle cx="639.22" cy="149.70" r="2.7" fill="#0000ff" />
<circle cx="610.13" cy="147.38" r="2.7" fill="#0000ff" />
<circle cx="614.77" cy="149.04" r="2.7" fill="#0000ff" />
<circle cx="610.62" cy="145.21" r="2.7" fill="#0000ff" />
<circle cx="654.91" cy="149.42" r="2.7" fill="#0000ff" />
<circle cx="654.08" cy="148.64" r="2.7" fill="#0000ff" />
<circle cx="636.30" cy="148.98" r="2.7" fill="#0000ff" />
<circle cx="654.26" cy="147.06" r="2.7" fill="#0000ff" />
<circle cx="647.48" cy="149.00" r="2.7" fill="#0000ff" />
<circle cx="641.50" cy="148.44" r="2.7" fill="#0000ff" />
<circle cx="631.61" cy="149.55" r="2.7" fill="#0000ff" />
<circle cx="653.53" cy="147.73" r="2.7" fill="#0000ff" />
<circle cx="633.07" cy="149.52" r="2.7" fill="#0000ff" />
<circle cx="609.96" cy="146.03" r="2.7" fill="#0000ff" />
<circle cx="629.37" cy="146.66" r="2.7" fill="#0000ff" />
<circle cx="610.21" cy="147.68" r="2.7" fill="#0000ff" />
<circle cx="629.27" cy="146.07" r="2.7" fill="#0000ff" />
<circle cx="652.26" cy="149.67" r="2.7" fill="#0000ff" />
<circle cx="604.21" cy="146.00" r="2.7" fill="#0000ff" />
<circle cx="633.52" cy="147.21" r="2.7" fill="#0000ff" />
<circle cx="639.79" cy="148.49" r="2.7" fill="#0000ff" />
<circle cx="625.04" cy="147.05" r="2.7" fill="#0000ff" />
<circle cx="658.59" cy="147.53" r="2.7" fill="#0000ff" />
<circle cx="637.99" cy="148.15" r="2.7" fill="#0000ff" />
<circle cx="604.99" cy="142.76" r="2.7" fill="#0000ff" />
<circle cx="656.69" cy="148.01" r="2.7" fill="#0000ff" />
<circle cx="620.03" cy="145.28" r="2.7" fill="#0000ff" />
<circle cx="628.88" cy="149.30" r="2.7" fill="#0000ff" />
<circle cx="654.49" cy="146.89" r="2.7" fill="#0000ff" />
<circle cx="637.33" cy="148.88" r="2.7" fill="#0000ff" />
<circle cx="620.48" cy="147.44" r="2.7" fill="#0000ff" />
<circle cx="628.28" cy="147.52" r="2.7" fill="#0000ff" />
<circle cx="631.30" cy="149.45" r="2.7" fill="#0000ff" />
<circle cx="625.98" cy="147.54" r="2.7" fill="#0000ff" />
<circle cx="625.24" cy="144.00" r="2.7" fill="#0000ff" />
<circle cx="617.95" cy="147.24" r="2.7" fill="#0000ff" />
<circle cx="650.00" cy="147.82" r="2.7" fill="#0000ff" />
<circle cx="616.80" cy="146.95" r="2.7" fill="#0000ff" />
<circle cx="630.16" cy="145.59" r="2.7" fill="#0000ff" />
<circle cx="647.73" cy="149.24" r="2.7" fill="#0000ff" />
<circle cx="620.05" cy="148.42" r="2.7" fill="#0000ff" />
<circle cx="634.96" cy="147.74" r="2.7" fill="#0000ff" />
<circle cx="637.91" cy="149.55" r="2.7" fill="#0000ff" />
<circle cx="643.36" cy="149.10" r="2.7" fill="#0000ff" />
<circle cx="653.72" cy="149.14" r="2.7" fill="#0000ff" />
<circle cx="618.37" cy="149.35" r="2.7" fill="#0000ff" />
<circle cx="604.20" cy="144.63" r="2.7" fill="#0000ff" />
<circle cx="636.32" cy="144.50" r="2.7" fill="#0000ff" />
<circle cx="639.34" cy="148.46" r="2.7" fill="#0000ff" />
<circle cx="636.50" cy="144.45" r="2.7" fill="#0000ff" />
<circle cx="636.81" cy="147.05" r="2.7" fill="#0000ff" />
<circle cx="635.56" cy="146.92" r="2.7" fill="#0000ff" />
<circle cx="640.76" cy="148.92" r="2.7" fill="#0000ff" />
<circle cx="627.30" cy="145.29" r="2.7" fill="#0000ff" />
<circle cx="645.87" cy="148.65" r="2.7" fill="#0000ff" />
<circle cx="605.32" cy="147.49" r="2.7" fill="#0000ff" />
<circle cx="646.62" cy="147.15" r="2.7" fill="#0000ff" />
<circle cx="622.18" cy="147.07" r="2.7" fill="#0000ff" />
<circle cx="649.68" cy="149.13" r="2.7" fill="#0000ff" />
<circle cx="616.07" cy="144.48" r="2.7" fill="#0000ff" />
<circle cx="618.46" cy="146.70" r="2.7" fill="#0000ff" />
<circle cx="625.72" cy="148.38" r="2.7" fill="#0000ff" />
<circle cx="638.34" cy="148.97" r="2.7" fill="#0000ff" />
<circle cx="633.82" cy="149.35" r="2.7" fill="#0000ff" />
<circle cx="605.42" cy="141.87" r="2.7" fill="#0000ff" />
<circle cx="634.29" cy="146.49" r="2.7" fill="#0000ff" />
<circle cx="655.86" cy="149.42" r="2.7" fill="#0000ff" />
<circle cx="623.22" cy="149.51" r="2.7" fill="#0000ff" />
<circle cx="635.30" cy="143.11" r="2.7" fill="#0000ff" />
<circle cx="628.33" cy="146.50" r="2.7" fill="#0000ff" />
<circle cx="624.67" cy="145.92" r="2.7" fill="#0000ff" />
<circle cx="613.65" cy="145.84" r="2.7" fill="#0000ff" />
<circle cx="610.57" cy="149.22" r="2.7" fill="#0000ff" />
<circle cx="640.94" cy="149.68" r="2.7" fill="#0000ff" />
<circle cx="609.10" cy="147.52" r="2.7" fill="#0000ff" />
<circle cx="652.68" cy="149.53" r="2.7" fill="#0000ff" />
<circle cx="609.46" cy="141.58" r="2.7" fill="#0000ff" />
<circle cx="615.23" cy="148.94" r="2.7" fill="#0000ff" />
<circle cx="644.04" cy="149.44" r="2.7" fill="#0000ff" />
<circle cx="646.59" cy="149.10" r="2.7" fill="#0000ff" />
<circle cx="642.79" cy="147.53" r="2.7" fill="#0000ff" />
<circle cx="607.36" cy="142.70" r="2.7" fill="#0000ff" />
<circle cx="637.53" cy="149.02" r="2.7" fill="#0000ff" />
<circle cx="656.75" cy="147.81" r="2.7" fill="#0000ff" />
<circle cx="615.85" cy="143.19" r="2.7" fill="#0000ff" />
<circle cx="604.37" cy="147.56" r="2.7" fill="#0000ff" />
<circle cx="604.48" cy="143.19" r="2.7" fill="#0000ff" />
<circle cx="607.15" cy="141.43" r="2.7" fill="#0000ff" />
<circle cx="618.95" cy="149.40" r="2.7" fill="#0000ff" />
<circle cx="652.13" cy="148.58" r="2.7" fill="#0000ff" />
<circle cx="628.97" cy="147.09" r="2.7" fill="#0000ff" />
<circle cx="634.27" cy="148.79" r="2.7" fill="#0000ff" />
<circle cx="626.19" cy="148.92" r="2.7" fill="#0000ff" />
<circle cx="648.07" cy="148.70" r="2.7" fill="#0000ff" />
<circle cx="621.87" cy="146.64" r="2.7" fill="#0000ff" />
<circle cx="624.99" cy="146.08" r="2.7" fill="#0000ff" />
<circle cx="623.14" cy="147.84" r="2.7" fill="#0000ff" />
<circle cx="647.26" cy="144.97" r="2.7" fill="#0000ff" />
<circle cx="633.78" cy="149.46" r="2.7" fill="#0000ff" />
<circle cx="659.46" cy="149.12" r="2.7" fill="#0000ff" />
<circle cx="642.15" cy="148.77" r="2.7" fill="#0000ff" />
<circle cx="636.14" cy="147.72" r="2.7" fill="#0000ff" />
<circle cx="659.69" cy="148.58" r="2.7" fill="#0000ff" />
<circle cx="618.82" cy="145.14" r="2.7" fill="#0000ff" />
<circle cx="625.60" cy="147.33" r="2.7" fill="#0000ff" />
<circle cx="641.00" cy="148.28" r="2.7" fill="#0000ff" />
<circle cx="635.90" cy="146.09" r="2.7" fill="#0000ff" />
<circle cx="617.43" cy="145.28" r="2.7" fill="#0000ff" />
<circle cx="604.07" cy="149.17" r="2.7" fill="#0000ff" />
<circle cx="634.98" cy="147.03" r="2.7" fill="#0000ff" />
<circle cx="649.25" cy="149.26" r="2.7" fill="#0000ff" />
<circle cx="650.36" cy="149.33" r="2.7" fill="#0000ff" />
<circle cx="648.98" cy="147.99" r="2.7" fill="#0000ff" />
<circle cx="616.92" cy="145.77" r="2.7" fill="#0000ff" />
<circle cx="651.50" cy="148.70" r="2.7" fill="#0000ff" />
<circle cx="655.54" cy="147.16" r="2.7" fill="#0000ff" />
<circle cx="620.94" cy="145.74" r="2.7" fill="#0000ff" />
<circle cx="648.07" cy="148.41" r="2.7" fill="#0000ff" />
<circle cx="613.03" cy="149.69" r="2.7" fill="#0000ff" />
<circle cx="614.79" cy="139.65" r="2.7" fill="#0000ff" />
<circle cx="636.21" cy="148.48" r="2.7" fill="#0000ff" />
<circle cx="613.35" cy="145.14" r="2.7" fill="#0000ff" />
<circle cx="615.89" cy="149.65" r="2.7" fill="#0000ff" />
<circle cx="627.41" cy="144.29" r="2.7" fill="#0000ff" />
<circle cx="607.51" cy="146.43" r="2.7" fill="#0000ff" />
<circle cx="614.73" cy="142.69" r="2.7" fill="#0000ff" />
<circle cx="634.55" cy="145.43" r="2.7" fill="#0000ff" />
<circle cx="631.08" cy="146.20" r="2.7" fill="#0000ff" />
<circle cx="628.40" cy="148.07" r="2.7" fill="#0000ff" />
<circle cx="612.62" cy="148.10" r="2.7" fill="#0000ff" />
<circle cx="612.02" cy="148.34" r="2.7" fill="#0000ff" />
<circle cx="633.63" cy="147.32" r="2.7" fill="#0000ff" />
<circle cx="624.10" cy="147.82" r="2.7" fill="#0000ff" />
<circle cx="605.63" cy="149.34" r="2.7" fill="#0000ff" />
<circle cx="660.98" cy="149.14" r="2.7" fill="#0000ff" />
<circle cx="637.79" cy="148.89" r="2.7" fill="#0000ff" />
<circle cx="647.43" cy="148.19" r="2.7" fill="#0000ff" />
<circle cx="620.83" cy="145.62" r="2.7" fill="#0000ff" />
<circle cx="630.94" cy="148.97" r="2.7" fill="#0000ff" />
<circle cx="660.54" cy="149.64" r="2.7" fill="#0000ff" />
<circle cx="652.46" cy="147.30" r="2.7" fill="#0000ff" />
<circle cx="616.26" cy="149.24" r="2.7" fill="#0000ff" />
<circle cx="646.92" cy="145.32" r="2.7" fill="#0000ff" />
<circle cx="646.16" cy="147.47" r="2.7" fill="#0000ff" />
<circle cx="649.44" cy="148.25" r="2.7" fill="#0000ff" />
<circle cx="605.36" cy="148.68" r="2.7" fill="#0000ff" />
<circle cx="613.06" cy="148.89" r="2.7" fill="#0000ff" />
<circle cx="605.90" cy="147.52" r="2.7" fill="#0000ff" />
<circle cx="633.21" cy="147.68" r="2.7" fill="#0000ff" />
<circle cx="657.71" cy="148.31" r="2.7" fill="#0000ff" />
<circle cx="655.29" cy="147.48" r="2.7" fill="#0000ff" />
<circle cx="623.81" cy="147.92" r="2.7" fill="#0000ff" />
<circle cx="609.02" cy="145.82" r="2.7" fill="#0000ff" />
<circle cx="633.63" cy="149.19" r="2.7" fill="#0000ff" />
<circle cx="638.27" cy="146.29" r="2.7" fill="#0000ff" />
<circle cx="623.56" cy="148.34" r="2.7" fill="#0000ff" />
<circle cx="626.75" cy="145.37" r="2.7" fill="#0000ff" />
<circle cx="660.62" cy="146.03" r="2.7" fill="#0000ff" />
<circle cx="614.14" cy="146.40" r="2.7" fill="#0000ff" />
<circle cx="621.23" cy="149.04" r="2.7" fill="#0000ff" />
<circle cx="654.83" cy="146.87" r="2.7" fill="#0000ff" />
<circle cx="605.74" cy="143.47" r="2.7" fill="#0000ff" />
<circle cx="647.37" cy="148.97" r="2.7" fill="#0000ff" />
<circle cx="660.21" cy="147.35" r="2.7" fill="#0000ff" />
<circle cx="606.10" cy="143.81" r="2.7" fill="#0000ff" />
<circle cx="657.20" cy="147.39" r="2.7" fill="#0000ff" />
<circle cx="640.51" cy="148.78" r="2.7" fill="#0000ff" />
<circle cx="645.57" cy="147.06" r="2.7" fill="#0000ff" />
<circle cx="608.33" cy="147.86" r="2.7" fill="#0000ff" />
<circle cx="609.22" cy="146.14" r="2.7" fill="#0000ff" />
<circle cx="628.68" cy="148.63" r="2.7" fill="#0000ff" />
<circle cx="610.15" cy="146.47" r="2.7" fill="#0000ff" />
<circle cx="640.56" cy="146.10" r="2.7" fill="#0000ff" />
<circle cx="612.76" cy="149.12" r="2.7" fill="#0000ff" />
<circle cx="605.29" cy="145.97" r="2.7" fill="#0000ff" />
<circle cx="656.85" cy="149.16" r="2.7" fill="#0000ff" />
<circle cx="652.50" cy="148.92" r="2.7" fill="#0000ff" />
<circle cx="626.68" cy="148.60" r="2.7" fill="#0000ff" />
<circle cx="607.94" cy="140.37" r="2.7" fill="#0000ff" />
<circle cx="637.52" cy="147.69" r="2.7" fill="#0000ff" />
<circle cx="626.98" cy="146.63" r="2.7" fill="#0000ff" />
<circle cx="628.46" cy="145.02" r="2.7" fill="#0000ff" />
<circle cx="637.51" cy="148.63" r="2.7" fill="#0000ff" />
<circle cx="606.14" cy="146.54" r="2.7" fill="#0000ff" />
<circle cx="642.80" cy="148.55" r="2.7" fill="#0000ff" />
<circle cx="652.76" cy="149.36" r="2.7" fill="#0000ff" />
<circle cx="616.52" cy="147.66" r="2.7" fill="#0000ff" />
<circle cx="616.77" cy="148.45" r="2.7" fill="#0000ff" />
<circle cx="650.76" cy="149.11" r="2.7" fill="#0000ff" />
<circle cx="629.25" cy="148.18" r="2.7" fill="#0000ff" />
<circle cx="619.34" cy="148.17" r="2.7" fill="#0000ff" />
<circle cx="659.77" cy="149.22" r="2.7" fill="#0000ff" />
<circle cx="606.15" cy="142.99" r="2.7" fill="#0000ff" />
<circle cx="613.59" cy="145.60" r="2.7" fill="#0000ff" />
<circle cx="628.45" cy="149.18" r="2.7" fill="#0000ff" />
<circle cx="613.10" cy="146.26" r="2.7" fill="#0000ff" />
<circle cx="621.92" cy="137.24" r="2.7" fill="#0000ff" />
<circle cx="656.27" cy="149.35" r="2.7" fill="#0000ff" />
<circle cx="607.97" cy="146.89" r="2.7" fill="#0000ff" />
<circle cx="606.18" cy="137.93" r="2.7" fill="#0000ff" />
<circle cx="643.60" cy="148.09" r="2.7" fill="#0000ff" />
<circle cx="604.53" cy="133.60" r="2.7" fill="#0000ff" />
<circle cx="648.68" cy="149.12" r="2.7" fill="#0000ff" />
<circle cx="604.08" cy="146.87" r="2.7" fill="#0000ff" />
<circle cx="650.29" cy="148.49" r="2.7" fill="#0000ff" />
<circle cx="625.99" cy="149.36" r="2.7" fill="#0000ff" />
<circle cx="655.42" cy="149.24" r="2.7" fill="#0000ff" />
<circle cx="609.90" cy="143.25" r="2.7" fill="#0000ff" />
<circle cx="611.99" cy="148.74" r="2.7" fill="#0000ff" />
<circle cx="612.84" cy="142.50" r="2.7" fill="#0000ff" />
<circle cx="607.13" cy="143.24" r="2.7" fill="#0000ff" />
<circle cx="629.51" cy="147.63" r="2.7" fill="#0000ff" />
<circle cx="616.92" cy="148.17" r="2.7" fill="#0000ff" />
<circle cx="642.43" cy="146.79" r="2.7" fill="#0000ff" />
<circle cx="648.97" cy="148.56" r="2.7" fill="#0000ff" />
<circle cx="606.53" cy="147.81" r="2.7" fill="#0000ff" />
<circle cx="643.99" cy="146.84" r="2.7" fill="#0000ff" />
<circle cx="606.09" cy="144.70" r="2.7" fill="#0000ff" />
<circle cx="648.91" cy="147.78" r="2.7" fill="#0000ff" />
<circle cx="652.36" cy="146.62" r="2.7" fill="#0000ff" />
<circle cx="629.37" cy="143.35" r="2.7" fill="#0000ff" />
<circle cx="628.40" cy="149.07" r="2.7" fill="#0000ff" />
<circle cx="640.07" cy="144.63" r="2.7" fill="#0000ff" />
<circle cx="608.87" cy="138.35" r="2.7" fill="#0000ff" />
<circle cx="615.74" cy="145.35" r="2.7" fill="#0000ff" />
<circle cx="615.91" cy="141.38" r="2.7" fill="#0000ff" />
<circle cx="604.08" cy="142.23" r="2.7" fill="#0000ff" />
<circle cx="619.10" cy="142.28" r="2.7" fill="#0000ff" />
<circle cx="606.79" cy="139.91" r="2.7" fill="#0000ff" />
<circle cx="637.12" cy="137.88" r="2.7" fill="#0000ff" />
<circle cx="613.86" cy="139.96" r="2.7" fill="#0000ff" />
<circle cx="616.33" cy="139.44" r="2.7" fill="#0000ff" />
<circle cx="605.18" cy="137.77" r="2.7" fill="#0000ff" />
<circle cx="644.54" cy="142.50" r="2.7" fill="#0000ff" />
<circle cx="622.13" cy="142.11" r="2.7" fill="#0000ff" />
<circle cx="623.24" cy="145.99" r="2.7" fill="#0000ff" />
<circle cx="645.28" cy="144.95" r="2.7" fill="#0000ff" />
<circle cx="608.75" cy="145.69" r="2.7" fill="#0000ff" />
<circle cx="611.15" cy="138.55" r="2.7" fill="#0000ff" />
<circle cx="604.49" cy="145.72" r="2.7" fill="#0000ff" />
<circle cx="631.06" cy="145.15" r="2.7" fill="#0000ff" />
<circle cx="604.26" cy="141.33" r="2.7" fill="#0000ff" />
<circle cx="625.08" cy="142.20" r="2.7" fill="#0000ff" />
<circle cx="631.25" cy="145.69" r="2.7" fill="#0000ff" />
<circle cx="639.94" cy="139.88" r="2.7" fill="#0000ff" />
<circle cx="604.80" cy="145.59" r="2.7" fill="#0000ff" />
<circle cx="621.23" cy="142.44" r="2.7" fill="#0000ff" />
<circle cx="612.25" cy="145.59" r="2.7" fill="#0000ff" />
<circle cx="617.36" cy="145.51" r="2.7" fill="#0000ff" />
<circle cx="625.81" cy="137.94" r="2.7" fill="#0000ff" />
<circle cx="607.60" cy="141.64" r="2.7" fill="#0000ff" />
<circle cx="633.48" cy="145.35" r="2.7" fill="#0000ff" />
<circle cx="637.62" cy="136.84" r="2.7" fill="#0000ff" />
<circle cx="616.64" cy="143.26" r="2.7" fill="#0000ff" />
<circle cx="638.35" cy="142.17" r="2.7" fill="#0000ff" />
<circle cx="616.93" cy="136.79" r="2.7" fill="#0000ff" />
<circle cx="635.05" cy="144.03" r="2.7" fill="#0000ff" />
<circle cx="610.78" cy="144.06" r="2.7" fill="#0000ff" />
<circle cx="618.65" cy="136.19" r="2.7" fill="#0000ff" />
<circle cx="636.48" cy="137.20" r="2.7" fill="#0000ff" />
<circle cx="637.04" cy="138.13" r="2.7" fill="#0000ff" />
<circle cx="604.99" cy="142.26" r="2.7" fill="#0000ff" />
<circle cx="644.75" cy="136.89" r="2.7" fill="#0000ff" />
<circle cx="611.11" cy="143.25" r="2.7" fill="#0000ff" />
<circle cx="627.78" cy="143.80" r="2.7" fill="#0000ff" />
<circle cx="622.94" cy="145.84" r="2.7" fill="#0000ff" />
<circle cx="618.54" cy="142.39" r="2.7" fill="#0000ff" />
<circle cx="604.32" cy="145.50" r="2.7" fill="#0000ff" />
<circle cx="645.40" cy="139.10" r="2.7" fill="#0000ff" />
<circle cx="643.60" cy="140.93" r="2.7" fill="#0000ff" />
<circle cx="636.74" cy="137.61" r="2.7" fill="#0000ff" />
<circle cx="640.75" cy="145.96" r="2.7" fill="#0000ff" />
<circle cx="628.22" cy="144.64" r="2.7" fill="#0000ff" />
<circle cx="630.04" cy="144.58" r="2.7" fill="#0000ff" />
<circle cx="623.47" cy="137.03" r="2.7" fill="#0000ff" />
<circle cx="627.23" cy="144.75" r="2.7" fill="#0000ff" />
<circle cx="622.45" cy="143.13" r="2.7" fill="#0000ff" />
<circle cx="644.36" cy="144.46" r="2.7" fill="#0000ff" />
<circle cx="613.25" cy="140.75" r="2.7" fill="#0000ff" />
<circle cx="606.78" cy="141.39" r="2.7" fill="#0000ff" />
<circle cx="644.65" cy="142.30" r="2.7" fill="#0000ff" />
<circle cx="611.82" cy="142.80" r="2.7" fill="#0000ff" />
<circle cx="623.08" cy="145.44" r="2.7" fill="#0000ff" />
<circle cx="606.89" cy="145.54" r="2.7" fill="#0000ff" />
<circle cx="612.79" cy="143.40" r="2.7" fill="#0000ff" />
<circle cx="612.58" cy="144.81" r="2.7" fill="#0000ff" />
<circle cx="605.86" cy="141.94" r="2.7" fill="#0000ff" />
<circle cx="638.35" cy="141.20" r="2.7" fill="#0000ff" />
<circle cx="624.78" cy="140.72" r="2.7" fill="#0000ff" />
<circle cx="609.39" cy="139.97" r="2.7" fill="#0000ff" />
<circle cx="619.77" cy="141.92" r="2.7" fill="#0000ff" />
<circle cx="626.82" cy="142.77" r="2.7" fill="#0000ff" />
<circle cx="531.17" cy="149.09" r="2.7" fill="#0000ff" />
<circle cx="532.00" cy="149.09" r="2.7" fill="#0000ff" />
<circle cx="534.48" cy="149.09" r="2.7" fill="#0000ff" />
<circle cx="536.14" cy="149.09" r="2.7" fill="#0000ff" />
<circle cx="539.45" cy="149.09" r="2.7" fill="#0000ff" />
<circle cx="542.76" cy="149.09" r="2.7" fill="#0000ff" />
<circle cx="546.08" cy="149.09" r="2.7" fill="#0000ff" />
<circle cx="549.39" cy="149.09" r="2.7" fill="#0000ff" />
<circle cx="517.50" cy="146.40" r="2.7" fill="#0000ff" />
<circle cx="553.30" cy="135.80" r="2.7" fill="#0000ff" />
<circle cx="559.10" cy="138.70" r="2.7" fill="#0000ff" />
<circle cx="563.10" cy="128.50" r="2.7" fill="#0000ff" />
<circle cx="563.50" cy="135.00" r="2.7" fill="#0000ff" />
<circle cx="566.40" cy="139.40" r="2.7" fill="#0000ff" />
<circle cx="570.80" cy="127.00" r="2.7" fill="#0000ff" />
<circle cx="571.50" cy="116.80" r="2.7" fill="#0000ff" />
<circle cx="559.10" cy="111.00" r="2.7" fill="#0000ff" />
<circle cx="575.90" cy="123.40" r="2.7" fill="#0000ff" />
<circle cx="578.10" cy="119.00" r="2.7" fill="#0000ff" />
<circle cx="580.30" cy="113.90" r="2.7" fill="#0000ff" />
<circle cx="581.00" cy="118.20" r="2.7" fill="#0000ff" />
<circle cx="575.90" cy="129.20" r="2.7" fill="#0000ff" />
<circle cx="579.60" cy="131.40" r="2.7" fill="#0000ff" />
<circle cx="583.90" cy="123.40" r="2.7" fill="#0000ff" />
<circle cx="573.00" cy="135.00" r="2.7" fill="#0000ff" />
<circle cx="577.40" cy="136.50" r="2.7" fill="#0000ff" />
<circle cx="581.80" cy="133.60" r="2.7" fill="#0000ff" />
<circle cx="606.80" cy="111.20" r="2.7" fill="#0000ff" />
<circle cx="611.40" cy="113.10" r="2.7" fill="#0000ff" />
<circle cx="606.80" cy="115.80" r="2.7" fill="#0000ff" />
<circle cx="621.90" cy="121.00" r="2.7" fill="#0000ff" />
<circle cx="629.80" cy="123.70" r="2.7" fill="#0000ff" />
<circle cx="637.70" cy="123.70" r="2.7" fill="#0000ff" />
<circle cx="613.40" cy="126.90" r="2.7" fill="#0000ff" />
<circle cx="621.90" cy="127.60" r="2.7" fill="#0000ff" />
<circle cx="628.50" cy="126.90" r="2.7" fill="#0000ff" />
<circle cx="655.40" cy="124.30" r="2.7" fill="#0000ff" />
<circle cx="676.50" cy="127.60" r="2.7" fill="#0000ff" />
<circle cx="667.90" cy="136.80" r="2.7" fill="#0000ff" />
<circle cx="656.80" cy="135.50" r="2.7" fill="#0000ff" />
<circle cx="646.20" cy="135.50" r="2.7" fill="#0000ff" />
<circle cx="641.00" cy="130.90" r="2.7" fill="#0000ff" />
<circle cx="634.40" cy="130.20" r="2.7" fill="#0000ff" />
<circle cx="628.50" cy="113.10" r="2.7" fill="#0000ff" />
<circle cx="634.40" cy="117.70" r="2.7" fill="#0000ff" />
<circle cx="626.50" cy="131.50" r="2.7" fill="#0000ff" />
<circle cx="620.00" cy="134.80" r="2.7" fill="#0000ff" />
<circle cx="608.10" cy="132.20" r="2.7" fill="#0000ff" />
<circle cx="603.50" cy="135.50" r="2.7" fill="#0000ff" />
<circle cx="613.40" cy="134.20" r="2.7" fill="#0000ff" />
<circle cx="622.60" cy="116.40" r="2.7" fill="#0000ff" />
<circle cx="617.00" cy="138.00" r="2.7" fill="#0000ff" />
<circle cx="625.00" cy="139.00" r="2.7" fill="#0000ff" />
<circle cx="633.00" cy="138.50" r="2.7" fill="#0000ff" />
<circle cx="640.00" cy="139.50" r="2.7" fill="#0000ff" />
<circle cx="648.00" cy="138.00" r="2.7" fill="#0000ff" />
<circle cx="652.00" cy="140.00" r="2.7" fill="#0000ff" />
<circle cx="660.00" cy="139.50" r="2.7" fill="#0000ff" />
<circle cx="606.00" cy="139.00" r="2.7" fill="#0000ff" />
<circle cx="611.00" cy="137.00" r="2.7" fill="#0000ff" />
<circle cx="589.07" cy="148.43" r="2.7" fill="#000000" />
<circle cx="591.60" cy="148.74" r="2.7" fill="#000000" />
<circle cx="596.52" cy="149.60" r="2.7" fill="#000000" />
<circle cx="584.75" cy="140.34" r="2.7" fill="#000000" />
<circle cx="589.48" cy="149.21" r="2.7" fill="#000000" />
<circle cx="603.62" cy="144.11" r="2.7" fill="#000000" />
<circle cx="600.56" cy="147.92" r="2.7" fill="#000000" />
<circle cx="596.77" cy="149.46" r="2.7" fill="#000000" />
<circle cx="596.69" cy="148.32" r="2.7" fill="#000000" />
<circle cx="594.55" cy="148.56" r="2.7" fill="#000000" />
<circle cx="597.39" cy="149.59" r="2.7" fill="#000000" />
<circle cx="599.06" cy="148.34" r="2.7" fill="#000000" />
<circle cx="590.28" cy="149.64" r="2.7" fill="#000000" />
<circle cx="601.12" cy="147.53" r="2.7" fill="#000000" />
<circle cx="598.30" cy="148.01" r="2.7" fill="#000000" />
<circle cx="598.21" cy="147.96" r="2.7" fill="#000000" />
<circle cx="592.08" cy="148.46" r="2.7" fill="#000000" />
<circle cx="593.04" cy="148.26" r="2.7" fill="#000000" />
<circle cx="601.38" cy="149.21" r="2.7" fill="#000000" />
<circle cx="587.11" cy="148.71" r="2.7" fill="#000000" />
<circle cx="603.04" cy="145.52" r="2.7" fill="#000000" />
<circle cx="596.53" cy="149.23" r="2.7" fill="#000000" />
<circle cx="594.24" cy="149.11" r="2.7" fill="#000000" />
<circle cx="591.24" cy="148.75" r="2.7" fill="#000000" />
<circle cx="595.72" cy="148.31" r="2.7" fill="#000000" />
<circle cx="597.60" cy="148.10" r="2.7" fill="#000000" />
<circle cx="600.95" cy="145.44" r="2.7" fill="#000000" />
<circle cx="597.39" cy="149.43" r="2.7" fill="#000000" />
<circle cx="601.03" cy="145.42" r="2.7" fill="#000000" />
<circle cx="601.87" cy="146.21" r="2.7" fill="#000000" />
<circle cx="598.21" cy="149.30" r="2.7" fill="#000000" />
<circle cx="600.47" cy="147.63" r="2.7" fill="#000000" />
<circle cx="589.97" cy="149.58" r="2.7" fill="#000000" />
<circle cx="600.90" cy="145.52" r="2.7" fill="#000000" />
<circle cx="586.20" cy="144.53" r="2.7" fill="#000000" />
<circle cx="592.38" cy="149.47" r="2.7" fill="#000000" />
<circle cx="590.14" cy="148.28" r="2.7" fill="#000000" />
<circle cx="601.26" cy="149.49" r="2.7" fill="#000000" />
<circle cx="596.30" cy="149.63" r="2.7" fill="#000000" />
<circle cx="598.30" cy="149.06" r="2.7" fill="#000000" />
<circle cx="601.42" cy="144.65" r="2.7" fill="#000000" />
<circle cx="594.20" cy="148.17" r="2.7" fill="#000000" />
<circle cx="590.44" cy="149.56" r="2.7" fill="#000000" />
<circle cx="596.02" cy="149.65" r="2.7" fill="#000000" />
<circle cx="588.29" cy="148.49" r="2.7" fill="#000000" />
<circle cx="596.22" cy="149.46" r="2.7" fill="#000000" />
<circle cx="585.31" cy="141.84" r="2.7" fill="#000000" />
<circle cx="590.52" cy="148.03" r="2.7" fill="#000000" />
<circle cx="601.72" cy="147.52" r="2.7" fill="#000000" />
<circle cx="593.34" cy="148.90" r="2.7" fill="#000000" />
<circle cx="596.86" cy="148.74" r="2.7" fill="#000000" />
<circle cx="595.24" cy="148.75" r="2.7" fill="#000000" />
<circle cx="602.56" cy="145.64" r="2.7" fill="#000000" />
<circle cx="592.78" cy="148.59" r="2.7" fill="#000000" />
<circle cx="589.06" cy="148.99" r="2.7" fill="#000000" />
<circle cx="603.28" cy="144.24" r="2.7" fill="#000000" />
<circle cx="595.03" cy="149.68" r="2.7" fill="#000000" />
<circle cx="592.47" cy="148.81" r="2.7" fill="#000000" />
<circle cx="584.88" cy="143.15" r="2.7" fill="#000000" />
<circle cx="596.64" cy="149.60" r="2.7" fill="#000000" />
<circle cx="596.55" cy="148.96" r="2.7" fill="#000000" />
<circle cx="597.54" cy="149.10" r="2.7" fill="#000000" />
<circle cx="598.08" cy="148.34" r="2.7" fill="#000000" />
<circle cx="584.92" cy="149.07" r="2.7" fill="#000000" />
<circle cx="597.48" cy="148.07" r="2.7" fill="#000000" />
<circle cx="589.32" cy="148.70" r="2.7" fill="#000000" />
<circle cx="595.88" cy="149.21" r="2.7" fill="#000000" />
<circle cx="591.49" cy="149.20" r="2.7" fill="#000000" />
<circle cx="591.59" cy="148.76" r="2.7" fill="#000000" />
<circle cx="590.27" cy="149.02" r="2.7" fill="#000000" />
<circle cx="599.33" cy="149.63" r="2.7" fill="#000000" />
<circle cx="595.43" cy="148.57" r="2.7" fill="#000000" />
<circle cx="590.45" cy="149.31" r="2.7" fill="#000000" />
<circle cx="599.94" cy="148.99" r="2.7" fill="#000000" />
<circle cx="588.09" cy="148.32" r="2.7" fill="#000000" />
<circle cx="597.90" cy="149.52" r="2.7" fill="#000000" />
<circle cx="590.68" cy="149.13" r="2.7" fill="#000000" />
<circle cx="600.51" cy="148.10" r="2.7" fill="#000000" />
<circle cx="600.93" cy="148.98" r="2.7" fill="#000000" />
<circle cx="590.96" cy="148.62" r="2.7" fill="#000000" />
<circle cx="601.49" cy="147.31" r="2.7" fill="#000000" />
<circle cx="588.82" cy="149.40" r="2.7" fill="#000000" />
<circle cx="594.67" cy="149.41" r="2.7" fill="#000000" />
<circle cx="599.99" cy="147.14" r="2.7" fill="#000000" />
<circle cx="588.02" cy="148.79" r="2.7" fill="#000000" />
<circle cx="600.00" cy="147.73" r="2.7" fill="#000000" />
<circle cx="599.98" cy="148.65" r="2.7" fill="#000000" />
<circle cx="586.99" cy="148.31" r="2.7" fill="#000000" />
<circle cx="599.74" cy="148.94" r="2.7" fill="#000000" />
<circle cx="591.15" cy="149.02" r="2.7" fill="#000000" />
<circle cx="592.56" cy="149.07" r="2.7" fill="#000000" />
<circle cx="602.18" cy="148.62" r="2.7" fill="#000000" />
<circle cx="584.58" cy="138.51" r="2.7" fill="#000000" />
<circle cx="601.40" cy="144.66" r="2.7" fill="#000000" />
<circle cx="592.84" cy="148.24" r="2.7" fill="#000000" />
<circle cx="602.31" cy="148.09" r="2.7" fill="#000000" />
<circle cx="598.82" cy="147.90" r="2.7" fill="#000000" />
<circle cx="597.23" cy="148.84" r="2.7" fill="#000000" />
<circle cx="590.05" cy="149.06" r="2.7" fill="#000000" />
<circle cx="588.86" cy="149.53" r="2.7" fill="#000000" />
<circle cx="595.80" cy="149.26" r="2.7" fill="#000000" />
<circle cx="600.06" cy="149.56" r="2.7" fill="#000000" />
<circle cx="601.85" cy="145.48" r="2.7" fill="#000000" />
<circle cx="602.24" cy="143.36" r="2.7" fill="#000000" />
<circle cx="601.78" cy="146.29" r="2.7" fill="#000000" />
<circle cx="584.75" cy="141.37" r="2.7" fill="#000000" />
<circle cx="587.80" cy="148.64" r="2.7" fill="#000000" />
<circle cx="597.23" cy="148.83" r="2.7" fill="#000000" />
<circle cx="592.44" cy="148.25" r="2.7" fill="#000000" />
<circle cx="596.25" cy="149.17" r="2.7" fill="#000000" />
<circle cx="589.35" cy="147.82" r="2.7" fill="#000000" />
<circle cx="593.66" cy="148.50" r="2.7" fill="#000000" />
<circle cx="591.25" cy="149.38" r="2.7" fill="#000000" />
<circle cx="594.77" cy="148.45" r="2.7" fill="#000000" />
<circle cx="587.79" cy="146.90" r="2.7" fill="#000000" />
<circle cx="602.20" cy="144.09" r="2.7" fill="#000000" />
<circle cx="600.31" cy="149.67" r="2.7" fill="#000000" />
<circle cx="596.57" cy="148.34" r="2.7" fill="#000000" />
<circle cx="585.45" cy="147.37" r="2.7" fill="#000000" />
<circle cx="589.65" cy="148.63" r="2.7" fill="#000000" />
<circle cx="592.62" cy="148.97" r="2.7" fill="#000000" />
<circle cx="599.41" cy="149.70" r="2.7" fill="#000000" />
<circle cx="585.55" cy="148.65" r="2.7" fill="#000000" />
<circle cx="586.89" cy="149.36" r="2.7" fill="#000000" />
<circle cx="603.22" cy="140.94" r="2.7" fill="#000000" />
<circle cx="586.15" cy="146.40" r="2.7" fill="#000000" />
<circle cx="590.56" cy="149.16" r="2.7" fill="#000000" />
<circle cx="591.24" cy="148.65" r="2.7" fill="#000000" />
<circle cx="595.76" cy="149.14" r="2.7" fill="#000000" />
<circle cx="588.17" cy="148.68" r="2.7" fill="#000000" />
<circle cx="586.87" cy="146.94" r="2.7" fill="#000000" />
<circle cx="598.25" cy="148.98" r="2.7" fill="#000000" />
<circle cx="586.03" cy="148.47" r="2.7" fill="#000000" />
<circle cx="591.67" cy="148.75" r="2.7" fill="#000000" />
<circle cx="599.53" cy="148.70" r="2.7" fill="#000000" />
<circle cx="599.89" cy="147.87" r="2.7" fill="#000000" />
<circle cx="592.79" cy="149.13" r="2.7" fill="#000000" />
<circle cx="594.03" cy="148.62" r="2.7" fill="#000000" />
<circle cx="592.57" cy="148.63" r="2.7" fill="#000000" />
<circle cx="593.35" cy="149.32" r="2.7" fill="#000000" />
<circle cx="594.79" cy="148.63" r="2.7" fill="#000000" />
<circle cx="585.87" cy="146.59" r="2.7" fill="#000000" />
<circle cx="592.68" cy="148.35" r="2.7" fill="#000000" />
<circle cx="602.48" cy="146.79" r="2.7" fill="#000000" />
<circle cx="601.74" cy="145.09" r="2.7" fill="#000000" />
<circle cx="589.53" cy="148.73" r="2.7" fill="#000000" />
<circle cx="586.86" cy="145.64" r="2.7" fill="#000000" />
<circle cx="597.22" cy="148.23" r="2.7" fill="#000000" />
<circle cx="599.72" cy="147.84" r="2.7" fill="#000000" />
<circle cx="598.59" cy="148.55" r="2.7" fill="#000000" />
<circle cx="586.48" cy="146.30" r="2.7" fill="#000000" />
<circle cx="584.59" cy="148.00" r="2.7" fill="#000000" />
<circle cx="599.37" cy="149.59" r="2.7" fill="#000000" />
<circle cx="586.26" cy="149.07" r="2.7" fill="#000000" />
<circle cx="601.41" cy="148.78" r="2.7" fill="#000000" />
<circle cx="584.95" cy="140.96" r="2.7" fill="#000000" />
<circle cx="586.83" cy="145.43" r="2.7" fill="#000000" />
<circle cx="597.43" cy="148.29" r="2.7" fill="#000000" />
<circle cx="602.79" cy="144.65" r="2.7" fill="#000000" />
<circle cx="599.84" cy="149.59" r="2.7" fill="#000000" />
<circle cx="599.24" cy="148.47" r="2.7" fill="#000000" />
<circle cx="598.23" cy="149.50" r="2.7" fill="#000000" />
<circle cx="598.88" cy="147.65" r="2.7" fill="#000000" />
<circle cx="585.67" cy="147.14" r="2.7" fill="#000000" />
<circle cx="595.33" cy="148.43" r="2.7" fill="#000000" />
<circle cx="589.15" cy="149.29" r="2.7" fill="#000000" />
<circle cx="589.30" cy="148.34" r="2.7" fill="#000000" />
<circle cx="598.97" cy="148.82" r="2.7" fill="#000000" />
<circle cx="591.55" cy="149.07" r="2.7" fill="#000000" />
<circle cx="591.22" cy="149.02" r="2.7" fill="#000000" />
<circle cx="586.09" cy="146.34" r="2.7" fill="#000000" />
<circle cx="603.19" cy="145.52" r="2.7" fill="#000000" />
<circle cx="598.85" cy="149.35" r="2.7" fill="#000000" />
<circle cx="597.77" cy="148.37" r="2.7" fill="#000000" />
<circle cx="597.44" cy="148.83" r="2.7" fill="#000000" />
<circle cx="593.79" cy="148.71" r="2.7" fill="#000000" />
<circle cx="601.73" cy="148.83" r="2.7" fill="#000000" />
<circle cx="586.34" cy="145.13" r="2.7" fill="#000000" />
<circle cx="602.10" cy="146.23" r="2.7" fill="#000000" />
<circle cx="593.01" cy="148.60" r="2.7" fill="#000000" />
<circle cx="588.07" cy="148.84" r="2.7" fill="#000000" />
<circle cx="588.32" cy="147.98" r="2.7" fill="#000000" />
<circle cx="590.54" cy="149.30" r="2.7" fill="#000000" />
<circle cx="597.77" cy="148.02" r="2.7" fill="#000000" />
<circle cx="590.18" cy="148.41" r="2.7" fill="#000000" />
<circle cx="592.43" cy="148.38" r="2.7" fill="#000000" />
<circle cx="595.73" cy="149.29" r="2.7" fill="#000000" />
<circle cx="588.68" cy="149.64" r="2.7" fill="#000000" />
<circle cx="593.71" cy="149.11" r="2.7" fill="#000000" />
<circle cx="587.80" cy="148.43" r="2.7" fill="#000000" />
<circle cx="590.68" cy="148.38" r="2.7" fill="#000000" />
<circle cx="587.25" cy="145.44" r="2.7" fill="#000000" />
<circle cx="593.71" cy="148.78" r="2.7" fill="#000000" />
<circle cx="593.49" cy="148.42" r="2.7" fill="#000000" />
<circle cx="600.28" cy="147.82" r="2.7" fill="#000000" />
<circle cx="593.74" cy="148.60" r="2.7" fill="#000000" />
<circle cx="600.95" cy="147.98" r="2.7" fill="#000000" />
<circle cx="598.59" cy="147.74" r="2.7" fill="#000000" />
<circle cx="593.47" cy="149.35" r="2.7" fill="#000000" />
<circle cx="589.01" cy="147.99" r="2.7" fill="#000000" />
<circle cx="597.47" cy="148.08" r="2.7" fill="#000000" />
<circle cx="600.90" cy="148.68" r="2.7" fill="#000000" />
<circle cx="588.14" cy="148.89" r="2.7" fill="#000000" />
<circle cx="588.09" cy="147.46" r="2.7" fill="#000000" />
<circle cx="600.99" cy="145.77" r="2.7" fill="#000000" />
<circle cx="589.39" cy="147.84" r="2.7" fill="#000000" />
<circle cx="590.52" cy="148.96" r="2.7" fill="#000000" />
<circle cx="598.50" cy="149.53" r="2.7" fill="#000000" />
<circle cx="586.27" cy="144.48" r="2.7" fill="#000000" />
<circle cx="590.10" cy="149.04" r="2.7" fill="#000000" />
<circle cx="595.64" cy="148.66" r="2.7" fill="#000000" />
<circle cx="584.63" cy="145.79" r="2.7" fill="#000000" />
<circle cx="592.87" cy="148.95" r="2.7" fill="#000000" />
<circle cx="588.53" cy="148.09" r="2.7" fill="#000000" />
<circle cx="602.85" cy="146.22" r="2.7" fill="#000000" />
<circle cx="594.95" cy="149.52" r="2.7" fill="#000000" />
<circle cx="589.77" cy="148.39" r="2.7" fill="#000000" />
<circle cx="586.66" cy="144.91" r="2.7" fill="#000000" />
<circle cx="601.95" cy="149.09" r="2.7" fill="#000000" />
<circle cx="602.58" cy="146.69" r="2.7" fill="#000000" />
<circle cx="599.33" cy="147.82" r="2.7" fill="#000000" />
<circle cx="590.17" cy="148.46" r="2.7" fill="#000000" />
<circle cx="597.06" cy="148.39" r="2.7" fill="#000000" />
<circle cx="589.60" cy="148.15" r="2.7" fill="#000000" />
<circle cx="602.96" cy="143.44" r="2.7" fill="#000000" />
<circle cx="594.79" cy="149.53" r="2.7" fill="#000000" />
<circle cx="593.98" cy="149.16" r="2.7" fill="#000000" />
<circle cx="598.29" cy="148.40" r="2.7" fill="#000000" />
<circle cx="595.38" cy="149.42" r="2.7" fill="#000000" />
<circle cx="596.90" cy="148.68" r="2.7" fill="#000000" />
<circle cx="587.94" cy="146.72" r="2.7" fill="#000000" />
<circle cx="597.08" cy="149.50" r="2.7" fill="#000000" />
<circle cx="602.40" cy="148.64" r="2.7" fill="#000000" />
<circle cx="590.86" cy="148.50" r="2.7" fill="#000000" />
<circle cx="595.97" cy="148.84" r="2.7" fill="#000000" />
<circle cx="596.93" cy="148.96" r="2.7" fill="#000000" />
<circle cx="590.50" cy="149.39" r="2.7" fill="#000000" />
<circle cx="585.81" cy="144.35" r="2.7" fill="#000000" />
<circle cx="598.99" cy="148.48" r="2.7" fill="#000000" />
<circle cx="598.70" cy="148.95" r="2.7" fill="#000000" />
<circle cx="589.60" cy="148.91" r="2.7" fill="#000000" />
<circle cx="601.26" cy="149.50" r="2.7" fill="#000000" />
<circle cx="594.19" cy="149.32" r="2.7" fill="#000000" />
<circle cx="599.27" cy="148.84" r="2.7" fill="#000000" />
<circle cx="590.89" cy="149.03" r="2.7" fill="#000000" />
<circle cx="594.90" cy="148.52" r="2.7" fill="#000000" />
<circle cx="591.27" cy="148.33" r="2.7" fill="#000000" />
<circle cx="586.65" cy="148.23" r="2.7" fill="#000000" />
<circle cx="586.41" cy="149.03" r="2.7" fill="#000000" />
<circle cx="599.46" cy="147.83" r="2.7" fill="#000000" />
<circle cx="630.53" cy="36.29" r="3.0" fill="#d62728"  />
<circle cx="619.77" cy="82.88" r="3.0" fill="#d62728"  />
<circle cx="650.40" cy="90.55" r="3.0" fill="#d62728"  />
<circle cx="570.92" cy="95.14" r="3.0" fill="#d62728"  />
<circle cx="566.78" cy="100.66" r="3.0" fill="#d62728"  />
<circle cx="577.54" cy="106.79" r="3.0" fill="#d62728"  />
<circle cx="579.20" cy="104.64" r="3.0" fill="#d62728"  />
<circle cx="629.70" cy="105.26" r="3.0" fill="#d62728"  />
<circle cx="632.19" cy="106.18" r="3.0" fill="#d62728"  />
<circle cx="637.16" cy="103.11" r="3.0" fill="#d62728"  />
<line x1="584.41" y1="19.80" x2="584.41" y2="172.00" stroke="#333" stroke-width="0.8" stroke-dasharray="3,2"/>
<line x1="603.79" y1="19.80" x2="603.79" y2="172.00" stroke="#333" stroke-width="0.8" stroke-dasharray="3,2"/>
<line x1="503.60" y1="109.82" x2="685.00" y2="109.82" stroke="#888" stroke-width="1" stroke-dasharray="3.5,2"/>
<text transform="translate(637.40,34.00) scale(0.93,1)" font-size="8.60" font-weight="bold" text-anchor="middle" fill="#111" stroke="#111" stroke-width="0.12" >GMNC</text>
<text transform="translate(605.30,89.90) scale(0.93,1)" font-size="8.60" font-weight="bold" text-anchor="middle" fill="#111" stroke="#111" stroke-width="0.12" >NPNT</text>
<text transform="translate(656.50,87.60) scale(0.93,1)" font-size="8.60" font-weight="bold" text-anchor="middle" fill="#111" stroke="#111" stroke-width="0.12" >OSTN</text>
<text transform="translate(563.60,92.60) scale(0.93,1)" font-size="8.60" font-weight="bold" text-anchor="middle" fill="#111" stroke="#111" stroke-width="0.12" >MZB1</text>
<text transform="translate(551.00,105.70) scale(0.93,1)" font-size="8.60" font-weight="bold" text-anchor="middle" fill="#111" stroke="#111" stroke-width="0.12" >ENPP3</text>
<text transform="translate(595.40,101.70) scale(0.93,1)" font-size="8.60" font-weight="bold" text-anchor="middle" fill="#111" stroke="#111" stroke-width="0.12" >CDC14B</text>
<text transform="translate(569.20,115.20) scale(0.93,1)" font-size="8.60" font-weight="bold" text-anchor="middle" fill="#111" stroke="#111" stroke-width="0.12" >PDK1</text>
<text transform="translate(628.80,100.50) scale(0.93,1)" font-size="8.60" font-weight="bold" text-anchor="middle" fill="#111" stroke="#111" stroke-width="0.12" >FOXJ1</text>
<text transform="translate(637.50,114.10) scale(0.93,1)" font-size="8.60" font-weight="bold" text-anchor="middle" fill="#111" stroke="#111" stroke-width="0.12" >CDC20B</text>
<text transform="translate(661.50,105.00) scale(0.93,1)" font-size="8.60" font-weight="bold" text-anchor="middle" fill="#111" stroke="#111" stroke-width="0.12" >B3GNT7</text>
<line x1="639.50" y1="102.80" x2="644.30" y2="102.80" stroke="#111" stroke-width="0.6" />
<line x1="616.50" y1="86.50" x2="619.50" y2="83.20" stroke="#111" stroke-width="0.6" />
<line x1="629.20" y1="101.20" x2="629.60" y2="104.50" stroke="#111" stroke-width="0.6" />
<line x1="574.60" y1="91.50" x2="571.50" y2="94.50" stroke="#111" stroke-width="0.6" />
<line x1="563.80" y1="102.50" x2="566.80" y2="101.40" stroke="#111" stroke-width="0.6" />
<line x1="580.00" y1="103.00" x2="579.00" y2="104.50" stroke="#111" stroke-width="0.6" />
<line x1="650.00" y1="88.50" x2="650.20" y2="90.00" stroke="#111" stroke-width="0.6" />
<line x1="631.00" y1="33.50" x2="631.00" y2="36.30" stroke="#111" stroke-width="0.6" />
<line x1="503.60" y1="19.80" x2="503.60" y2="172.00" stroke="#333" stroke-width="1.3" />
<line x1="503.60" y1="172.00" x2="685.00" y2="172.00" stroke="#333" stroke-width="1.3" />
<line x1="500.10" y1="149.70" x2="503.60" y2="149.70" stroke="#333" stroke-width="1.1" />
<text transform="translate(497.40,153.40) scale(0.93,1)" font-size="11.18" font-weight="normal" text-anchor="end" fill="#4d4d4d" >0</text>
<line x1="500.10" y1="119.05" x2="503.60" y2="119.05" stroke="#333" stroke-width="1.1" />
<text transform="translate(497.40,122.75) scale(0.93,1)" font-size="11.18" font-weight="normal" text-anchor="end" fill="#4d4d4d" >1</text>
<line x1="500.10" y1="88.40" x2="503.60" y2="88.40" stroke="#333" stroke-width="1.1" />
<text transform="translate(497.40,92.10) scale(0.93,1)" font-size="11.18" font-weight="normal" text-anchor="end" fill="#4d4d4d" >2</text>
<line x1="500.10" y1="57.75" x2="503.60" y2="57.75" stroke="#333" stroke-width="1.1" />
<text transform="translate(497.40,61.45) scale(0.93,1)" font-size="11.18" font-weight="normal" text-anchor="end" fill="#4d4d4d" >3</text>
<line x1="500.10" y1="27.10" x2="503.60" y2="27.10" stroke="#333" stroke-width="1.1" />
<text transform="translate(497.40,30.80) scale(0.93,1)" font-size="11.18" font-weight="normal" text-anchor="end" fill="#4d4d4d" >4</text>
<line x1="511.30" y1="172.00" x2="511.30" y2="175.00" stroke="#333" stroke-width="1.1" />
<text transform="translate(511.30,186.50) scale(0.93,1)" font-size="10.75" font-weight="normal" text-anchor="middle" fill="#4d4d4d" >−5.0</text>
<line x1="552.70" y1="172.00" x2="552.70" y2="175.00" stroke="#333" stroke-width="1.1" />
<text transform="translate(552.70,186.50) scale(0.93,1)" font-size="10.75" font-weight="normal" text-anchor="middle" fill="#4d4d4d" >−2.5</text>
<line x1="594.10" y1="172.00" x2="594.10" y2="175.00" stroke="#333" stroke-width="1.1" />
<text transform="translate(594.10,186.50) scale(0.93,1)" font-size="10.75" font-weight="normal" text-anchor="middle" fill="#4d4d4d" >0.0</text>
<line x1="635.50" y1="172.00" x2="635.50" y2="175.00" stroke="#333" stroke-width="1.1" />
<text transform="translate(635.50,186.50) scale(0.93,1)" font-size="10.75" font-weight="normal" text-anchor="middle" fill="#4d4d4d" >2.5</text>
<line x1="676.90" y1="172.00" x2="676.90" y2="175.00" stroke="#333" stroke-width="1.1" />
<text transform="translate(676.90,186.50) scale(0.93,1)" font-size="10.75" font-weight="normal" text-anchor="middle" fill="#4d4d4d" >5.0</text>
<text x="594.7" y="198.5" font-size="10.5" text-anchor="middle" fill="#222">Log<tspan font-size="7.5" dy="2.5">2</tspan><tspan dy="-2.5"> fold change</tspan></text>
<text transform="translate(482.6,94.7) rotate(-90)" font-size="10.5" text-anchor="middle" fill="#222">−Log<tspan font-size="7.5" dy="2.5">10</tspan><tspan dy="-2.5" font-style="italic"> P</tspan></text>
<rect x="111.20" y="265.60" width="178.60" height="178.10" fill="#eeeeee" />
<rect x="131.20" y="284.40" width="155.40" height="63.20" fill="#ffffff" stroke="#d0d0d0" stroke-width="0.6"/>
<rect x="131.20" y="349.40" width="155.40" height="26.50" fill="#ffffff" stroke="#d0d0d0" stroke-width="0.6"/>
<rect x="131.20" y="376.20" width="155.40" height="44.80" fill="#ffffff" stroke="#d0d0d0" stroke-width="0.6"/>
<line x1="131.20" y1="336.20" x2="286.60" y2="336.20" stroke="#ececec" stroke-width="0.5" stroke-dasharray="1,1"/>
<line x1="131.20" y1="326.10" x2="286.60" y2="326.10" stroke="#ececec" stroke-width="0.5" stroke-dasharray="1,1"/>
<line x1="131.20" y1="316.00" x2="286.60" y2="316.00" stroke="#ececec" stroke-width="0.5" stroke-dasharray="1,1"/>
<line x1="131.20" y1="305.90" x2="286.60" y2="305.90" stroke="#ececec" stroke-width="0.5" stroke-dasharray="1,1"/>
<line x1="131.20" y1="295.80" x2="286.60" y2="295.80" stroke="#ececec" stroke-width="0.5" stroke-dasharray="1,1"/>
<line x1="157.20" y1="284.40" x2="157.20" y2="347.60" stroke="#ececec" stroke-width="0.5" stroke-dasharray="1,1"/>
<line x1="157.20" y1="376.20" x2="157.20" y2="421.00" stroke="#ececec" stroke-width="0.5" stroke-dasharray="1,1"/>
<line x1="183.20" y1="284.40" x2="183.20" y2="347.60" stroke="#ececec" stroke-width="0.5" stroke-dasharray="1,1"/>
<line x1="183.20" y1="376.20" x2="183.20" y2="421.00" stroke="#ececec" stroke-width="0.5" stroke-dasharray="1,1"/>
<line x1="209.20" y1="284.40" x2="209.20" y2="347.60" stroke="#ececec" stroke-width="0.5" stroke-dasharray="1,1"/>
<line x1="209.20" y1="376.20" x2="209.20" y2="421.00" stroke="#ececec" stroke-width="0.5" stroke-dasharray="1,1"/>
<line x1="235.20" y1="284.40" x2="235.20" y2="347.60" stroke="#ececec" stroke-width="0.5" stroke-dasharray="1,1"/>
<line x1="235.20" y1="376.20" x2="235.20" y2="421.00" stroke="#ececec" stroke-width="0.5" stroke-dasharray="1,1"/>
<line x1="261.20" y1="284.40" x2="261.20" y2="347.60" stroke="#ececec" stroke-width="0.5" stroke-dasharray="1,1"/>
<line x1="261.20" y1="376.20" x2="261.20" y2="421.00" stroke="#ececec" stroke-width="0.5" stroke-dasharray="1,1"/>
<line x1="131.20" y1="346.30" x2="286.60" y2="346.30" stroke="#bbbbbb" stroke-width="0.6" />
<text transform="translate(129.70,348.10) scale(0.93,1)" font-size="5.38" font-weight="normal" text-anchor="end" fill="#999" >0.0</text>
<text transform="translate(129.70,338.00) scale(0.93,1)" font-size="5.38" font-weight="normal" text-anchor="end" fill="#999" >0.1</text>
<text transform="translate(129.70,327.90) scale(0.93,1)" font-size="5.38" font-weight="normal" text-anchor="end" fill="#999" >0.2</text>
<text transform="translate(129.70,317.80) scale(0.93,1)" font-size="5.38" font-weight="normal" text-anchor="end" fill="#999" >0.3</text>
<text transform="translate(129.70,307.70) scale(0.93,1)" font-size="5.38" font-weight="normal" text-anchor="end" fill="#999" >0.4</text>
<text transform="translate(129.70,297.60) scale(0.93,1)" font-size="5.38" font-weight="normal" text-anchor="end" fill="#999" >0.5</text>
<text transform="translate(129.70,287.50) scale(0.93,1)" font-size="5.38" font-weight="normal" text-anchor="end" fill="#999" >0.6</text>
<line x1="132.10" y1="349.90" x2="132.10" y2="370.10" stroke="#555" stroke-width="0.9" />
<line x1="136.50" y1="349.90" x2="136.50" y2="370.10" stroke="#777" stroke-width="0.9" />
<line x1="143.20" y1="349.90" x2="143.20" y2="370.10" stroke="#444" stroke-width="0.9" />
<line x1="144.40" y1="349.90" x2="144.40" y2="370.10" stroke="#888" stroke-width="0.9" />
<line x1="147.00" y1="349.90" x2="147.00" y2="370.10" stroke="#666" stroke-width="0.9" />
<line x1="154.60" y1="349.90" x2="154.60" y2="370.10" stroke="#555" stroke-width="0.9" />
<line x1="156.10" y1="349.90" x2="156.10" y2="370.10" stroke="#777" stroke-width="0.9" />
<line x1="161.00" y1="349.90" x2="161.00" y2="370.10" stroke="#444" stroke-width="0.9" />
<line x1="162.80" y1="349.90" x2="162.80" y2="370.10" stroke="#888" stroke-width="0.9" />
<line x1="166.30" y1="349.90" x2="166.30" y2="370.10" stroke="#666" stroke-width="0.9" />
<line x1="170.70" y1="349.90" x2="170.70" y2="370.10" stroke="#555" stroke-width="0.9" />
<line x1="177.70" y1="349.90" x2="177.70" y2="370.10" stroke="#777" stroke-width="0.9" />
<line x1="180.00" y1="349.90" x2="180.00" y2="370.10" stroke="#444" stroke-width="0.9" />
<line x1="181.80" y1="349.90" x2="181.80" y2="370.10" stroke="#888" stroke-width="0.9" />
<line x1="187.90" y1="349.90" x2="187.90" y2="370.10" stroke="#666" stroke-width="0.9" />
<line x1="189.60" y1="349.90" x2="189.60" y2="370.10" stroke="#555" stroke-width="0.9" />
<line x1="190.50" y1="349.90" x2="190.50" y2="370.10" stroke="#777" stroke-width="0.9" />
<line x1="193.40" y1="349.90" x2="193.40" y2="370.10" stroke="#444" stroke-width="0.9" />
<line x1="205.40" y1="349.90" x2="205.40" y2="370.10" stroke="#888" stroke-width="0.9" />
<line x1="208.90" y1="349.90" x2="208.90" y2="370.10" stroke="#666" stroke-width="0.9" />
<line x1="210.60" y1="349.90" x2="210.60" y2="370.10" stroke="#555" stroke-width="0.9" />
<line x1="212.40" y1="349.90" x2="212.40" y2="370.10" stroke="#777" stroke-width="0.9" />
<line x1="220.30" y1="349.90" x2="220.30" y2="370.10" stroke="#444" stroke-width="0.9" />
<line x1="226.40" y1="349.90" x2="226.40" y2="370.10" stroke="#888" stroke-width="0.9" />
<line x1="228.20" y1="349.90" x2="228.20" y2="370.10" stroke="#666" stroke-width="0.9" />
<line x1="230.80" y1="349.90" x2="230.80" y2="370.10" stroke="#555" stroke-width="0.9" />
<line x1="243.90" y1="349.90" x2="243.90" y2="370.10" stroke="#777" stroke-width="0.9" />
<line x1="248.30" y1="349.90" x2="248.30" y2="370.10" stroke="#444" stroke-width="0.9" />
<line x1="257.90" y1="349.90" x2="257.90" y2="370.10" stroke="#888" stroke-width="0.9" />
<line x1="262.30" y1="349.90" x2="262.30" y2="370.10" stroke="#666" stroke-width="0.9" />
<rect x="131.20" y="370.60" width="24.15" height="5.30" fill="#ff5050" />
<rect x="155.30" y="370.60" width="13.45" height="5.30" fill="#ff6878" />
<rect x="168.70" y="370.60" width="15.25" height="5.30" fill="#ff8c8c" />
<rect x="183.90" y="370.60" width="18.35" height="5.30" fill="#ffb6dc" />
<rect x="202.20" y="370.60" width="15.65" height="5.30" fill="#d6d6fc" />
<rect x="217.80" y="370.60" width="15.25" height="5.30" fill="#b8b8f8" />
<rect x="233.00" y="370.60" width="14.05" height="5.30" fill="#8484f4" />
<rect x="247.00" y="370.60" width="24.85" height="5.30" fill="#5454e6" />
<rect x="271.80" y="370.60" width="7.55" height="5.30" fill="#1c1cd0" />
<polyline points="131.10,346.10 131.30,303.60 132.00,291.30 133.10,287.80 134.80,289.50 136.40,287.40 139.50,289.50 143.00,291.60 144.80,289.20 147.40,290.90 149.20,290.40 153.60,292.70 157.10,292.20 158.80,290.90 162.30,291.60 165.80,290.90 168.40,290.90 171.00,292.20 177.20,296.20 181.60,297.40 189.60,301.90 192.30,302.60 209.80,314.50 220.30,320.70 226.40,323.80 230.80,324.70 235.20,326.80 243.00,331.20 245.70,332.10 248.80,333.80 249.20,332.10 257.10,337.30 258.50,334.20 260.20,335.90 262.30,335.20 279.50,346.10" stroke="#00ff00" stroke-width="1.25" fill="none" stroke-linejoin="round"/>
<path d="M131.20,406.80 L131.20,396.47 L133.67,400.39 L136.14,402.24 L138.60,403.17 L141.07,403.69 L143.54,404.02 L146.01,404.26 L148.48,404.44 L150.95,404.60 L153.41,404.73 L155.88,404.86 L158.35,404.97 L160.82,405.07 L163.29,405.16 L165.76,405.24 L168.22,405.32 L170.69,405.40 L173.16,405.47 L175.63,405.54 L178.10,405.60 L180.57,405.66 L183.03,405.72 L185.50,405.78 L187.97,405.84 L190.44,405.90 L192.91,405.96 L195.38,406.02 L197.84,406.08 L200.31,406.14 L202.78,406.20 L205.25,406.26 L207.72,406.32 L210.19,406.39 L212.66,406.45 L215.12,406.52 L217.59,406.59 L220.06,406.66 L222.53,406.73 L225.00,406.81 L227.47,406.89 L229.93,406.97 L232.40,407.05 L234.87,407.13 L237.34,407.22 L239.81,407.31 L242.28,407.40 L244.74,407.50 L247.21,407.60 L249.68,407.70 L252.15,407.80 L254.62,407.91 L257.09,408.02 L259.55,408.14 L262.02,408.26 L264.49,408.38 L266.96,408.50 L269.43,408.63 L271.89,408.76 L274.36,408.90 L276.83,409.04 L279.30,417.66 L279.30,406.80Z" fill="#c4c4c4" stroke="#aaa" stroke-width="0.3"/>
<line x1="131.20" y1="406.80" x2="286.60" y2="406.80" stroke="#cfcfcf" stroke-width="0.5" />
<line x1="202.40" y1="370.60" x2="202.40" y2="421.00" stroke="#bbb" stroke-width="0.5" stroke-dasharray="1,1"/>
<text transform="translate(129.20,387.40) scale(0.93,1)" font-size="5.38" font-weight="normal" text-anchor="end" fill="#999" >4</text>
<text transform="translate(129.20,398.00) scale(0.93,1)" font-size="5.38" font-weight="normal" text-anchor="end" fill="#999" >2</text>
<text transform="translate(129.20,408.60) scale(0.93,1)" font-size="5.38" font-weight="normal" text-anchor="end" fill="#999" >0</text>
<text transform="translate(129.20,419.20) scale(0.93,1)" font-size="5.38" font-weight="normal" text-anchor="end" fill="#999" >-2</text>
<text transform="translate(131.20,425.60) scale(0.93,1)" font-size="3.98" font-weight="normal" text-anchor="middle" fill="#777" >0</text>
<text transform="translate(157.20,425.60) scale(0.93,1)" font-size="3.98" font-weight="normal" text-anchor="middle" fill="#777" >2,000</text>
<text transform="translate(183.20,425.60) scale(0.93,1)" font-size="3.98" font-weight="normal" text-anchor="middle" fill="#777" >4,000</text>
<text transform="translate(209.20,425.60) scale(0.93,1)" font-size="3.98" font-weight="normal" text-anchor="middle" fill="#777" >6,000</text>
<text transform="translate(235.20,425.60) scale(0.93,1)" font-size="3.98" font-weight="normal" text-anchor="middle" fill="#777" >8,000</text>
<text transform="translate(261.20,425.60) scale(0.93,1)" font-size="3.98" font-weight="normal" text-anchor="middle" fill="#777" >10,000</text>
<text transform="translate(208.90,431.20) scale(0.93,1)" font-size="4.78" font-weight="normal" text-anchor="middle" fill="#777" >Rank in Ordered Dataset</text>
<text transform="translate(132.20,379.60) scale(0.93,1)" font-size="4.09" font-weight="normal" text-anchor="start" fill="#f04040" >'na_pos' (positively correlated)</text>
<text transform="translate(209.70,418.60) scale(0.93,1)" font-size="4.09" font-weight="normal" text-anchor="start" fill="#4040f0" >'na_neg' (negatively correlated)</text>
<text transform="translate(202.40,397.80) scale(0.93,1)" font-size="3.87" font-weight="normal" text-anchor="middle" fill="#555" >Zero cross at 5471</text>
<text transform="translate(120.00,318.00) rotate(-90)" font-size="5.4" text-anchor="middle" fill="#999">Enrichment score (ES)</text>
<text transform="translate(122.70,397.60) rotate(-90)" font-size="4.8" text-anchor="middle" fill="#999">Ranked list metric (PreRanked)</text>
<rect x="138.30" y="435.30" width="123.20" height="7.70" fill="#ffffff" stroke="#555" stroke-width="0.6"/>
<line x1="139.50" y1="439.15" x2="144.30" y2="439.15" stroke="#00ff00" stroke-width="1.1" />
<text transform="translate(145.80,440.75) scale(0.93,1)" font-size="4.82" font-weight="normal" text-anchor="start" fill="#666" >Enrichment profile</text>
<line x1="184.90" y1="439.15" x2="189.20" y2="439.15" stroke="#555" stroke-width="0.6" />
<text transform="translate(190.80,440.75) scale(0.93,1)" font-size="4.82" font-weight="normal" text-anchor="start" fill="#666" >Hits</text>
<line x1="209.90" y1="439.15" x2="214.90" y2="439.15" stroke="#ccc" stroke-width="0.6" />
<text transform="translate(216.40,440.75) scale(0.93,1)" font-size="4.76" font-weight="normal" text-anchor="start" fill="#666" >Ranking metric scores</text>
<text transform="translate(199.40,272.00) scale(0.93,1)" font-size="7.10" font-weight="bold" text-anchor="middle" fill="#000" stroke="#000" stroke-width="0.12" >Enrichment plot:</text>
<text transform="translate(200.20,280.70) scale(0.93,1)" font-size="6.99" font-weight="bold" text-anchor="middle" fill="#000" stroke="#000" stroke-width="0.12" >GOBP_MICROTUBULE_BUNDLE_FORMATION</text>
<text transform="translate(132.6,459.2) scale(0.925,1)" font-size="14" font-weight="bold" xml:space="preserve">NES 2.08  FDR .01</text>
<text transform="translate(293.40,270.60) scale(0.93,1)" font-size="9.68" font-weight="bold" text-anchor="start" fill="#000" stroke="#000" stroke-width="0.12" >MAP1B</text>
<text transform="translate(293.40,281.10) scale(0.93,1)" font-size="9.68" font-weight="bold" text-anchor="start" fill="#000" stroke="#000" stroke-width="0.12" >TPPP3</text>
<text transform="translate(293.40,292.60) scale(0.93,1)" font-size="9.68" font-weight="bold" text-anchor="start" fill="#000" stroke="#000" stroke-width="0.12" >DNAAF3</text>
<text transform="translate(293.40,303.80) scale(0.93,1)" font-size="9.68" font-weight="bold" text-anchor="start" fill="#000" stroke="#000" stroke-width="0.12" >FOXJ1</text>
<text transform="translate(293.40,315.00) scale(0.93,1)" font-size="9.68" font-weight="bold" text-anchor="start" fill="#000" stroke="#000" stroke-width="0.12" >RSPH4A</text>
<text transform="translate(293.40,326.10) scale(0.93,1)" font-size="9.68" font-weight="bold" text-anchor="start" fill="#000" stroke="#000" stroke-width="0.12" >SPEF1</text>
<text transform="translate(293.40,336.70) scale(0.93,1)" font-size="9.68" font-weight="bold" text-anchor="start" fill="#000" stroke="#000" stroke-width="0.12" >DNAAF1</text>
<text transform="translate(293.40,347.90) scale(0.93,1)" font-size="9.68" font-weight="bold" text-anchor="start" fill="#000" stroke="#000" stroke-width="0.12" >ZMYND10</text>
<text transform="translate(293.40,359.00) scale(0.93,1)" font-size="9.68" font-weight="bold" text-anchor="start" fill="#000" stroke="#000" stroke-width="0.12" >SPAG17</text>
<text transform="translate(293.40,370.10) scale(0.93,1)" font-size="9.68" font-weight="bold" text-anchor="start" fill="#000" stroke="#000" stroke-width="0.12" >LRGUK</text>
<text transform="translate(293.40,381.30) scale(0.93,1)" font-size="9.68" font-weight="bold" text-anchor="start" fill="#000" stroke="#000" stroke-width="0.12" >SPAG1</text>
<text transform="translate(293.40,392.50) scale(0.93,1)" font-size="9.68" font-weight="bold" text-anchor="start" fill="#000" stroke="#000" stroke-width="0.12" >DNAH7</text>
<text transform="translate(293.40,403.50) scale(0.93,1)" font-size="9.68" font-weight="bold" text-anchor="start" fill="#000" stroke="#000" stroke-width="0.12" >STK36</text>
<text transform="translate(293.40,414.20) scale(0.93,1)" font-size="9.68" font-weight="bold" text-anchor="start" fill="#000" stroke="#000" stroke-width="0.12" >NCKAP5</text>
<text transform="translate(293.40,425.00) scale(0.93,1)" font-size="9.68" font-weight="bold" text-anchor="start" fill="#000" stroke="#000" stroke-width="0.12" >DNAH17</text>
<text transform="translate(293.40,436.10) scale(0.93,1)" font-size="9.68" font-weight="bold" text-anchor="start" fill="#000" stroke="#000" stroke-width="0.12" >TPPP</text>
<text transform="translate(293.40,447.30) scale(0.93,1)" font-size="9.68" font-weight="bold" text-anchor="start" fill="#000" stroke="#000" stroke-width="0.12" >NCKAP5L</text>
<text transform="translate(293.40,458.50) scale(0.93,1)" font-size="9.68" font-weight="bold" text-anchor="start" fill="#000" stroke="#000" stroke-width="0.12" >MNS1</text>
<text transform="translate(293.40,469.60) scale(0.93,1)" font-size="9.68" font-weight="bold" text-anchor="start" fill="#000" stroke="#000" stroke-width="0.12" >RSPH1</text>
<rect x="381.20" y="269.40" width="180.00" height="180.80" fill="#eeeeee" />
<rect x="401.30" y="278.60" width="157.70" height="69.00" fill="#ffffff" stroke="#d0d0d0" stroke-width="0.6"/>
<rect x="401.30" y="349.40" width="157.70" height="28.80" fill="#ffffff" stroke="#d0d0d0" stroke-width="0.6"/>
<rect x="401.30" y="378.60" width="157.70" height="47.20" fill="#ffffff" stroke="#d0d0d0" stroke-width="0.6"/>
<line x1="401.30" y1="335.00" x2="559.00" y2="335.00" stroke="#ececec" stroke-width="0.5" stroke-dasharray="1,1"/>
<line x1="401.30" y1="324.00" x2="559.00" y2="324.00" stroke="#ececec" stroke-width="0.5" stroke-dasharray="1,1"/>
<line x1="401.30" y1="313.00" x2="559.00" y2="313.00" stroke="#ececec" stroke-width="0.5" stroke-dasharray="1,1"/>
<line x1="401.30" y1="302.00" x2="559.00" y2="302.00" stroke="#ececec" stroke-width="0.5" stroke-dasharray="1,1"/>
<line x1="401.30" y1="291.00" x2="559.00" y2="291.00" stroke="#ececec" stroke-width="0.5" stroke-dasharray="1,1"/>
<line x1="427.60" y1="278.60" x2="427.60" y2="347.60" stroke="#ececec" stroke-width="0.5" stroke-dasharray="1,1"/>
<line x1="427.60" y1="378.60" x2="427.60" y2="425.80" stroke="#ececec" stroke-width="0.5" stroke-dasharray="1,1"/>
<line x1="453.90" y1="278.60" x2="453.90" y2="347.60" stroke="#ececec" stroke-width="0.5" stroke-dasharray="1,1"/>
<line x1="453.90" y1="378.60" x2="453.90" y2="425.80" stroke="#ececec" stroke-width="0.5" stroke-dasharray="1,1"/>
<line x1="480.20" y1="278.60" x2="480.20" y2="347.60" stroke="#ececec" stroke-width="0.5" stroke-dasharray="1,1"/>
<line x1="480.20" y1="378.60" x2="480.20" y2="425.80" stroke="#ececec" stroke-width="0.5" stroke-dasharray="1,1"/>
<line x1="506.50" y1="278.60" x2="506.50" y2="347.60" stroke="#ececec" stroke-width="0.5" stroke-dasharray="1,1"/>
<line x1="506.50" y1="378.60" x2="506.50" y2="425.80" stroke="#ececec" stroke-width="0.5" stroke-dasharray="1,1"/>
<line x1="532.80" y1="278.60" x2="532.80" y2="347.60" stroke="#ececec" stroke-width="0.5" stroke-dasharray="1,1"/>
<line x1="532.80" y1="378.60" x2="532.80" y2="425.80" stroke="#ececec" stroke-width="0.5" stroke-dasharray="1,1"/>
<line x1="401.30" y1="346.00" x2="559.00" y2="346.00" stroke="#bbbbbb" stroke-width="0.6" />
<text transform="translate(399.80,347.80) scale(0.93,1)" font-size="5.38" font-weight="normal" text-anchor="end" fill="#999" >0.0</text>
<text transform="translate(399.80,336.80) scale(0.93,1)" font-size="5.38" font-weight="normal" text-anchor="end" fill="#999" >0.1</text>
<text transform="translate(399.80,325.80) scale(0.93,1)" font-size="5.38" font-weight="normal" text-anchor="end" fill="#999" >0.2</text>
<text transform="translate(399.80,314.80) scale(0.93,1)" font-size="5.38" font-weight="normal" text-anchor="end" fill="#999" >0.3</text>
<text transform="translate(399.80,303.80) scale(0.93,1)" font-size="5.38" font-weight="normal" text-anchor="end" fill="#999" >0.4</text>
<text transform="translate(399.80,292.80) scale(0.93,1)" font-size="5.38" font-weight="normal" text-anchor="end" fill="#999" >0.5</text>
<text transform="translate(399.80,281.80) scale(0.93,1)" font-size="5.38" font-weight="normal" text-anchor="end" fill="#999" >0.6</text>
<line x1="402.10" y1="349.90" x2="402.10" y2="371.90" stroke="#555" stroke-width="0.9" />
<line x1="403.00" y1="349.90" x2="403.00" y2="371.90" stroke="#777" stroke-width="0.9" />
<line x1="411.80" y1="349.90" x2="411.80" y2="371.90" stroke="#444" stroke-width="0.9" />
<line x1="413.20" y1="349.90" x2="413.20" y2="371.90" stroke="#888" stroke-width="0.9" />
<line x1="414.90" y1="349.90" x2="414.90" y2="371.90" stroke="#666" stroke-width="0.9" />
<line x1="416.20" y1="349.90" x2="416.20" y2="371.90" stroke="#555" stroke-width="0.9" />
<line x1="418.80" y1="349.90" x2="418.80" y2="371.90" stroke="#777" stroke-width="0.9" />
<line x1="422.60" y1="349.90" x2="422.60" y2="371.90" stroke="#444" stroke-width="0.9" />
<line x1="425.80" y1="349.90" x2="425.80" y2="371.90" stroke="#888" stroke-width="0.9" />
<line x1="429.30" y1="349.90" x2="429.30" y2="371.90" stroke="#666" stroke-width="0.9" />
<line x1="437.70" y1="349.90" x2="437.70" y2="371.90" stroke="#555" stroke-width="0.9" />
<line x1="442.40" y1="349.90" x2="442.40" y2="371.90" stroke="#777" stroke-width="0.9" />
<line x1="448.60" y1="349.90" x2="448.60" y2="371.90" stroke="#444" stroke-width="0.9" />
<line x1="450.00" y1="349.90" x2="450.00" y2="371.90" stroke="#888" stroke-width="0.9" />
<line x1="454.70" y1="349.90" x2="454.70" y2="371.90" stroke="#666" stroke-width="0.9" />
<line x1="455.90" y1="349.90" x2="455.90" y2="371.90" stroke="#555" stroke-width="0.9" />
<line x1="458.20" y1="349.90" x2="458.20" y2="371.90" stroke="#777" stroke-width="0.9" />
<line x1="461.70" y1="349.90" x2="461.70" y2="371.90" stroke="#444" stroke-width="0.9" />
<line x1="469.60" y1="349.90" x2="469.60" y2="371.90" stroke="#888" stroke-width="0.9" />
<line x1="487.40" y1="349.90" x2="487.40" y2="371.90" stroke="#666" stroke-width="0.9" />
<line x1="488.40" y1="349.90" x2="488.40" y2="371.90" stroke="#555" stroke-width="0.9" />
<line x1="492.10" y1="349.90" x2="492.10" y2="371.90" stroke="#777" stroke-width="0.9" />
<line x1="494.50" y1="349.90" x2="494.50" y2="371.90" stroke="#444" stroke-width="0.9" />
<line x1="501.70" y1="349.90" x2="501.70" y2="371.90" stroke="#888" stroke-width="0.9" />
<line x1="506.40" y1="349.90" x2="506.40" y2="371.90" stroke="#666" stroke-width="0.9" />
<line x1="514.60" y1="349.90" x2="514.60" y2="371.90" stroke="#555" stroke-width="0.9" />
<line x1="528.90" y1="349.90" x2="528.90" y2="371.90" stroke="#777" stroke-width="0.9" />
<rect x="401.30" y="372.40" width="24.55" height="5.80" fill="#ff5050" />
<rect x="425.80" y="372.40" width="12.25" height="5.80" fill="#ff6878" />
<rect x="438.00" y="372.40" width="16.75" height="5.80" fill="#ff8c8c" />
<rect x="454.70" y="372.40" width="18.35" height="5.80" fill="#ffb6dc" />
<rect x="473.00" y="372.40" width="14.45" height="5.80" fill="#d6d6fc" />
<rect x="487.40" y="372.40" width="17.45" height="5.80" fill="#b8b8f8" />
<rect x="504.80" y="372.40" width="14.25" height="5.80" fill="#8484f4" />
<rect x="519.00" y="372.40" width="25.65" height="5.80" fill="#5454e6" />
<rect x="544.60" y="372.40" width="7.05" height="5.80" fill="#1c1cd0" />
<polyline points="401.30,345.90 401.60,305.30 402.50,295.70 403.40,287.40 407.40,290.40 411.50,293.00 411.80,289.50 413.60,287.80 415.70,285.20 417.10,285.70 418.80,282.50 421.40,285.20 423.20,282.50 425.50,285.20 426.70,282.50 428.40,285.20 429.70,282.90 437.20,288.70 439.00,287.80 443.30,290.40 445.10,290.40 448.60,293.40 450.30,292.20 453.80,293.90 460.00,296.20 470.00,301.90 486.40,313.60 489.40,314.80 495.60,317.70 501.10,321.30 502.70,320.30 505.80,321.80 506.40,320.90 514.00,325.80 515.40,325.00 528.30,335.30 529.70,329.90 551.80,345.90" stroke="#00ff00" stroke-width="1.25" fill="none" stroke-linejoin="round"/>
<path d="M401.30,411.50 L401.30,400.29 L403.81,404.54 L406.31,406.55 L408.81,407.56 L411.32,408.13 L413.82,408.48 L416.33,408.74 L418.84,408.94 L421.34,409.11 L423.85,409.26 L426.35,409.39 L428.86,409.51 L431.36,409.62 L433.87,409.72 L436.37,409.81 L438.88,409.90 L441.38,409.98 L443.88,410.05 L446.39,410.13 L448.89,410.20 L451.40,410.27 L453.91,410.33 L456.41,410.40 L458.92,410.46 L461.42,410.53 L463.93,410.59 L466.43,410.65 L468.94,410.72 L471.44,410.78 L473.95,410.85 L476.45,410.91 L478.96,410.98 L481.46,411.05 L483.97,411.12 L486.47,411.20 L488.98,411.27 L491.48,411.35 L493.99,411.43 L496.49,411.51 L499.00,411.59 L501.50,411.68 L504.00,411.77 L506.51,411.86 L509.01,411.96 L511.52,412.05 L514.02,412.15 L516.53,412.26 L519.04,412.37 L521.54,412.48 L524.05,412.59 L526.55,412.71 L529.06,412.83 L531.56,412.95 L534.07,413.08 L536.57,413.21 L539.08,413.35 L541.58,413.49 L544.09,413.63 L546.59,413.78 L549.10,413.93 L551.60,423.29 L551.60,411.50Z" fill="#c4c4c4" stroke="#aaa" stroke-width="0.3"/>
<line x1="401.30" y1="411.50" x2="559.00" y2="411.50" stroke="#cfcfcf" stroke-width="0.5" />
<line x1="473.50" y1="372.40" x2="473.50" y2="425.80" stroke="#bbb" stroke-width="0.5" stroke-dasharray="1,1"/>
<text transform="translate(399.30,390.30) scale(0.93,1)" font-size="5.38" font-weight="normal" text-anchor="end" fill="#999" >4</text>
<text transform="translate(399.30,401.80) scale(0.93,1)" font-size="5.38" font-weight="normal" text-anchor="end" fill="#999" >2</text>
<text transform="translate(399.30,413.30) scale(0.93,1)" font-size="5.38" font-weight="normal" text-anchor="end" fill="#999" >0</text>
<text transform="translate(399.30,424.80) scale(0.93,1)" font-size="5.38" font-weight="normal" text-anchor="end" fill="#999" >-2</text>
<text transform="translate(401.30,430.90) scale(0.93,1)" font-size="3.98" font-weight="normal" text-anchor="middle" fill="#777" >0</text>
<text transform="translate(427.60,430.90) scale(0.93,1)" font-size="3.98" font-weight="normal" text-anchor="middle" fill="#777" >2,000</text>
<text transform="translate(453.90,430.90) scale(0.93,1)" font-size="3.98" font-weight="normal" text-anchor="middle" fill="#777" >4,000</text>
<text transform="translate(480.20,430.90) scale(0.93,1)" font-size="3.98" font-weight="normal" text-anchor="middle" fill="#777" >6,000</text>
<text transform="translate(506.50,430.90) scale(0.93,1)" font-size="3.98" font-weight="normal" text-anchor="middle" fill="#777" >8,000</text>
<text transform="translate(532.80,430.90) scale(0.93,1)" font-size="3.98" font-weight="normal" text-anchor="middle" fill="#777" >10,000</text>
<text transform="translate(479.60,436.50) scale(0.93,1)" font-size="4.78" font-weight="normal" text-anchor="middle" fill="#777" >Rank in Ordered Dataset</text>
<text transform="translate(402.30,382.20) scale(0.93,1)" font-size="4.09" font-weight="normal" text-anchor="start" fill="#f04040" >'na_pos' (positively correlated)</text>
<text transform="translate(480.00,423.40) scale(0.93,1)" font-size="4.09" font-weight="normal" text-anchor="start" fill="#4040f0" >'na_neg' (negatively correlated)</text>
<text transform="translate(473.50,402.00) scale(0.93,1)" font-size="3.87" font-weight="normal" text-anchor="middle" fill="#555" >Zero cross at 5471</text>
<text transform="translate(390.10,315.10) rotate(-90)" font-size="5.4" text-anchor="middle" fill="#999">Enrichment score (ES)</text>
<text transform="translate(392.80,401.20) rotate(-90)" font-size="4.8" text-anchor="middle" fill="#999">Ranked list metric (PreRanked)</text>
<rect x="409.50" y="441.20" width="123.60" height="8.30" fill="#ffffff" stroke="#555" stroke-width="0.6"/>
<line x1="410.70" y1="445.35" x2="415.50" y2="445.35" stroke="#00ff00" stroke-width="1.1" />
<text transform="translate(417.00,446.95) scale(0.93,1)" font-size="4.82" font-weight="normal" text-anchor="start" fill="#666" >Enrichment profile</text>
<line x1="456.10" y1="445.35" x2="460.40" y2="445.35" stroke="#555" stroke-width="0.6" />
<text transform="translate(462.00,446.95) scale(0.93,1)" font-size="4.82" font-weight="normal" text-anchor="start" fill="#666" >Hits</text>
<line x1="481.10" y1="445.35" x2="486.10" y2="445.35" stroke="#ccc" stroke-width="0.6" />
<text transform="translate(487.60,446.95) scale(0.93,1)" font-size="4.76" font-weight="normal" text-anchor="start" fill="#666" >Ranking metric scores</text>
<text transform="translate(471.40,276.00) scale(0.93,1)" font-size="7.10" font-weight="bold" text-anchor="middle" fill="#000" stroke="#000" stroke-width="0.12" >Enrichment plot: GOBP_MOTILE_CILIUM_ASSEMBLY</text>
<text transform="translate(406.4,467.2) scale(0.925,1)" font-size="14" font-weight="bold" xml:space="preserve">NES 1.87  FDR .12</text>
<text transform="translate(570.50,272.50) scale(0.93,1)" font-size="9.68" font-weight="bold" text-anchor="start" fill="#000" stroke="#000" stroke-width="0.12" >DNAAF3</text>
<text transform="translate(570.50,283.70) scale(0.93,1)" font-size="9.68" font-weight="bold" text-anchor="start" fill="#000" stroke="#000" stroke-width="0.12" >FOXJ1</text>
<text transform="translate(570.50,294.60) scale(0.93,1)" font-size="9.68" font-weight="bold" text-anchor="start" fill="#000" stroke="#000" stroke-width="0.12" >MCIDAS</text>
<text transform="translate(570.50,306.20) scale(0.93,1)" font-size="9.68" font-weight="bold" text-anchor="start" fill="#000" stroke="#000" stroke-width="0.12" >DNAAF1</text>
<text transform="translate(570.50,317.50) scale(0.93,1)" font-size="9.68" font-weight="bold" text-anchor="start" fill="#000" stroke="#000" stroke-width="0.12" >ZMYND10</text>
<text transform="translate(570.50,328.70) scale(0.93,1)" font-size="9.68" font-weight="bold" text-anchor="start" fill="#000" stroke="#000" stroke-width="0.12" >SPAG17</text>
<text transform="translate(570.50,338.60) scale(0.93,1)" font-size="9.68" font-weight="bold" text-anchor="start" fill="#000" stroke="#000" stroke-width="0.12" >BBS5</text>
<text transform="translate(570.50,349.60) scale(0.93,1)" font-size="9.68" font-weight="bold" text-anchor="start" fill="#000" stroke="#000" stroke-width="0.12" >KLC3</text>
<text transform="translate(570.50,361.00) scale(0.93,1)" font-size="9.68" font-weight="bold" text-anchor="start" fill="#000" stroke="#000" stroke-width="0.12" >ATMIN</text>
<text transform="translate(570.50,371.70) scale(0.93,1)" font-size="9.68" font-weight="bold" text-anchor="start" fill="#000" stroke="#000" stroke-width="0.12" >MNS</text>
<line x1="92.40" y1="561.90" x2="92.40" y2="666.90" stroke="#111" stroke-width="1.2" />
<line x1="92.40" y1="666.40" x2="217.50" y2="666.40" stroke="#111" stroke-width="1.2" />
<line x1="88.90" y1="666.40" x2="92.40" y2="666.40" stroke="#111" stroke-width="1.2" />
<text transform="translate(85.60,670.50) scale(0.93,1)" font-size="12.47" font-weight="bold" text-anchor="end" fill="#000" stroke="#000" stroke-width="0.12" >0.0</text>
<line x1="88.90" y1="640.40" x2="92.40" y2="640.40" stroke="#111" stroke-width="1.2" />
<text transform="translate(85.60,644.50) scale(0.93,1)" font-size="12.47" font-weight="bold" text-anchor="end" fill="#000" stroke="#000" stroke-width="0.12" >0.2</text>
<line x1="88.90" y1="614.40" x2="92.40" y2="614.40" stroke="#111" stroke-width="1.2" />
<text transform="translate(85.60,618.50) scale(0.93,1)" font-size="12.47" font-weight="bold" text-anchor="end" fill="#000" stroke="#000" stroke-width="0.12" >0.4</text>
<line x1="88.90" y1="588.40" x2="92.40" y2="588.40" stroke="#111" stroke-width="1.2" />
<text transform="translate(85.60,592.50) scale(0.93,1)" font-size="12.47" font-weight="bold" text-anchor="end" fill="#000" stroke="#000" stroke-width="0.12" >0.6</text>
<line x1="88.90" y1="562.40" x2="92.40" y2="562.40" stroke="#111" stroke-width="1.2" />
<text transform="translate(85.60,566.50) scale(0.93,1)" font-size="12.47" font-weight="bold" text-anchor="end" fill="#000" stroke="#000" stroke-width="0.12" >0.8</text>
<rect x="99.20" y="571.89" width="12.40" height="94.51" fill="#fff" stroke="#111" stroke-width="1.2"/>
<line x1="105.40" y1="666.40" x2="105.40" y2="670.40" stroke="#111" stroke-width="1.2" />
<text transform="translate(108.20,677.70) rotate(-45)" font-size="10.9" font-weight="bold" text-anchor="end">ZMYND10</text>
<rect x="119.10" y="583.85" width="12.40" height="82.55" fill="#fff" stroke="#111" stroke-width="1.2"/>
<line x1="125.30" y1="666.40" x2="125.30" y2="670.40" stroke="#111" stroke-width="1.2" />
<text transform="translate(128.10,677.70) rotate(-45)" font-size="10.9" font-weight="bold" text-anchor="end">SPEF1</text>
<rect x="138.90" y="608.42" width="12.40" height="57.98" fill="#fff" stroke="#111" stroke-width="1.2"/>
<line x1="145.10" y1="666.40" x2="145.10" y2="670.40" stroke="#111" stroke-width="1.2" />
<text transform="translate(147.90,677.70) rotate(-45)" font-size="10.9" font-weight="bold" text-anchor="end">TPPP3</text>
<rect x="158.60" y="616.35" width="12.40" height="50.05" fill="#fff" stroke="#111" stroke-width="1.2"/>
<line x1="164.80" y1="666.40" x2="164.80" y2="670.40" stroke="#111" stroke-width="1.2" />
<text transform="translate(167.60,677.70) rotate(-45)" font-size="10.9" font-weight="bold" text-anchor="end">DNAAF3</text>
<rect x="178.50" y="625.32" width="12.40" height="41.08" fill="#fff" stroke="#111" stroke-width="1.2"/>
<line x1="184.70" y1="666.40" x2="184.70" y2="670.40" stroke="#111" stroke-width="1.2" />
<text transform="translate(187.50,677.70) rotate(-45)" font-size="10.9" font-weight="bold" text-anchor="end">SPAG17</text>
<rect x="198.40" y="642.09" width="12.40" height="24.31" fill="#fff" stroke="#111" stroke-width="1.2"/>
<line x1="204.60" y1="666.40" x2="204.60" y2="670.40" stroke="#111" stroke-width="1.2" />
<text transform="translate(207.40,677.70) rotate(-45)" font-size="10.9" font-weight="bold" text-anchor="end">SPAG1</text>
<text transform="translate(58.4,614.6) rotate(-90)" font-size="11.7" font-weight="bold" text-anchor="middle">Spearman (<tspan font-weight="normal" font-family="Liberation Serif">ρ</tspan>)</text>
<line x1="280.10" y1="560.20" x2="280.10" y2="676.70" stroke="#111" stroke-width="1.2" />
<line x1="280.10" y1="676.20" x2="356.00" y2="676.20" stroke="#111" stroke-width="1.2" />
<line x1="275.60" y1="676.20" x2="280.10" y2="676.20" stroke="#111" stroke-width="1.2" />
<text transform="translate(273.30,679.40) scale(0.93,1)" font-size="9.46" font-weight="bold" text-anchor="end" fill="#000" stroke="#000" stroke-width="0.12" >0</text>
<line x1="275.60" y1="653.10" x2="280.10" y2="653.10" stroke="#111" stroke-width="1.2" />
<text transform="translate(273.30,656.30) scale(0.93,1)" font-size="9.46" font-weight="bold" text-anchor="end" fill="#000" stroke="#000" stroke-width="0.12" >2</text>
<line x1="275.60" y1="630.00" x2="280.10" y2="630.00" stroke="#111" stroke-width="1.2" />
<text transform="translate(273.30,633.20) scale(0.93,1)" font-size="9.46" font-weight="bold" text-anchor="end" fill="#000" stroke="#000" stroke-width="0.12" >4</text>
<line x1="275.60" y1="606.90" x2="280.10" y2="606.90" stroke="#111" stroke-width="1.2" />
<text transform="translate(273.30,610.10) scale(0.93,1)" font-size="9.46" font-weight="bold" text-anchor="end" fill="#000" stroke="#000" stroke-width="0.12" >6</text>
<line x1="275.60" y1="583.80" x2="280.10" y2="583.80" stroke="#111" stroke-width="1.2" />
<text transform="translate(273.30,587.00) scale(0.93,1)" font-size="9.46" font-weight="bold" text-anchor="end" fill="#000" stroke="#000" stroke-width="0.12" >8</text>
<line x1="275.60" y1="560.70" x2="280.10" y2="560.70" stroke="#111" stroke-width="1.2" />
<text transform="translate(273.30,563.90) scale(0.93,1)" font-size="9.46" font-weight="bold" text-anchor="end" fill="#000" stroke="#000" stroke-width="0.12" >10</text>
<line x1="301.70" y1="676.20" x2="301.70" y2="680.80" stroke="#111" stroke-width="1.2" />
<text transform="translate(304.60,688.80) rotate(-45)" font-size="10.5" font-weight="bold" text-anchor="end">DTX senstive</text>
<line x1="334.60" y1="676.20" x2="334.60" y2="680.80" stroke="#111" stroke-width="1.2" />
<text transform="translate(337.50,688.80) rotate(-45)" font-size="10.5" font-weight="bold" text-anchor="end">DTX resistant</text>
<text transform="translate(254.2,618.5) rotate(-90)" font-size="9.35" font-weight="bold" text-anchor="middle">FOXJ expression level</text>
<polyline points="301.60,593.00 301.60,565.50 334.40,565.50 334.40,572.70" stroke="#111" stroke-width="1.6" fill="none" />
<text transform="translate(318.10,566.50) scale(0.93,1)" font-size="18.82" font-weight="bold" text-anchor="middle" fill="#000" stroke="#000" stroke-width="0.12" >*</text>
<path d="M301.50,599.30 C301.43,599.30 301.40,604.45 301.30,605.90 C301.20,607.35 301.10,606.92 300.90,608.00 C300.70,609.08 300.50,610.77 300.10,612.40 C299.70,614.03 299.10,616.00 298.50,617.80 C297.90,619.60 296.93,621.83 296.50,623.20 C296.07,624.57 295.85,625.08 295.90,626.00 C295.95,626.92 296.90,627.53 296.80,628.70 C296.70,629.87 295.67,631.73 295.30,633.00 C294.93,634.27 294.50,635.30 294.60,636.30 C294.70,637.30 295.47,638.10 295.90,639.00 C296.33,639.90 297.05,640.70 297.20,641.70 C297.35,642.70 297.30,643.73 296.80,645.00 C296.30,646.27 295.08,647.87 294.20,649.30 C293.32,650.73 291.68,652.15 291.50,653.60 C291.32,655.05 292.20,656.73 293.10,658.00 C294.00,659.27 295.72,660.12 296.90,661.20 C298.08,662.28 299.47,663.58 300.20,664.50 C300.93,665.42 301.08,665.35 301.30,666.70 C301.52,668.05 301.43,672.60 301.50,672.60 C301.57,672.60 301.48,668.05 301.70,666.70 C301.92,665.35 302.07,665.42 302.80,664.50 C303.53,663.58 304.92,662.28 306.10,661.20 C307.28,660.12 309.00,659.27 309.90,658.00 C310.80,656.73 311.68,655.05 311.50,653.60 C311.32,652.15 309.68,650.73 308.80,649.30 C307.92,647.87 306.70,646.27 306.20,645.00 C305.70,643.73 305.65,642.70 305.80,641.70 C305.95,640.70 306.67,639.90 307.10,639.00 C307.53,638.10 308.30,637.30 308.40,636.30 C308.50,635.30 308.07,634.27 307.70,633.00 C307.33,631.73 306.30,629.87 306.20,628.70 C306.10,627.53 307.05,626.92 307.10,626.00 C307.15,625.08 306.93,624.57 306.50,623.20 C306.07,621.83 305.10,619.60 304.50,617.80 C303.90,616.00 303.30,614.03 302.90,612.40 C302.50,610.77 302.30,609.08 302.10,608.00 C301.90,606.92 301.80,607.35 301.70,605.90 C301.60,604.45 301.57,599.30 301.50,599.30Z" fill="none" stroke="#1f3fff" stroke-width="1.6" stroke-linejoin="round"/>
<line x1="296.67" y1="626.50" x2="306.33" y2="626.50" stroke="#3050ff" stroke-width="0.8" />
<line x1="296.21" y1="638.40" x2="306.79" y2="638.40" stroke="#1f3fff" stroke-width="0.9" stroke-dasharray="1.6,0.8"/>
<line x1="292.17" y1="653.80" x2="310.83" y2="653.80" stroke="#a8b4ff" stroke-width="1.0" />
<path d="M334.55,579.10 C334.45,579.10 334.40,585.18 334.25,587.00 C334.10,588.82 333.77,588.67 333.65,590.00 C333.53,591.33 333.50,593.33 333.55,595.00 C333.60,596.67 333.88,598.75 333.95,600.00 C334.02,601.25 334.10,601.50 333.95,602.50 C333.80,603.50 333.45,604.48 333.05,606.00 C332.65,607.52 332.33,609.77 331.55,611.60 C330.77,613.43 329.12,615.43 328.35,617.00 C327.58,618.57 327.28,619.67 326.95,621.00 C326.62,622.33 326.47,623.62 326.35,625.00 C326.23,626.38 326.22,627.97 326.25,629.30 C326.28,630.63 326.50,631.88 326.55,633.00 C326.60,634.12 326.72,634.83 326.55,636.00 C326.38,637.17 325.92,638.63 325.55,640.00 C325.18,641.37 324.45,642.82 324.35,644.20 C324.25,645.58 324.32,646.72 324.95,648.30 C325.58,649.88 327.05,652.12 328.15,653.70 C329.25,655.28 330.65,656.45 331.55,657.80 C332.45,659.15 333.10,660.60 333.55,661.80 C334.00,663.00 334.08,663.55 334.25,665.00 C334.42,666.45 334.45,670.50 334.55,670.50 C334.65,670.50 334.68,666.45 334.85,665.00 C335.02,663.55 335.10,663.00 335.55,661.80 C336.00,660.60 336.65,659.15 337.55,657.80 C338.45,656.45 339.85,655.28 340.95,653.70 C342.05,652.12 343.52,649.88 344.15,648.30 C344.78,646.72 344.85,645.58 344.75,644.20 C344.65,642.82 343.92,641.37 343.55,640.00 C343.18,638.63 342.72,637.17 342.55,636.00 C342.38,634.83 342.50,634.12 342.55,633.00 C342.60,631.88 342.82,630.63 342.85,629.30 C342.88,627.97 342.87,626.38 342.75,625.00 C342.63,623.62 342.48,622.33 342.15,621.00 C341.82,619.67 341.52,618.57 340.75,617.00 C339.98,615.43 338.33,613.43 337.55,611.60 C336.77,609.77 336.45,607.52 336.05,606.00 C335.65,604.48 335.30,603.50 335.15,602.50 C335.00,601.50 335.08,601.25 335.15,600.00 C335.22,598.75 335.50,596.67 335.55,595.00 C335.60,593.33 335.57,591.33 335.45,590.00 C335.33,588.67 335.00,588.82 334.85,587.00 C334.70,585.18 334.65,579.10 334.55,579.10Z" fill="none" stroke="#ff2a10" stroke-width="1.6" stroke-linejoin="round"/>
<line x1="327.73" y1="620.50" x2="341.38" y2="620.50" stroke="#ffa090" stroke-width="0.7" />
<line x1="327.07" y1="632.00" x2="342.03" y2="632.00" stroke="#ff5a40" stroke-width="0.9" stroke-dasharray="1.6,0.8"/>
<line x1="324.95" y1="644.20" x2="344.15" y2="644.20" stroke="#ffa090" stroke-width="0.7" />
<text transform="translate(482.90,560.30) scale(0.93,1)" font-size="9.25" font-weight="bold" text-anchor="end" fill="#000" stroke="#000" stroke-width="0.12" >Taxane exposed</text>
<text transform="translate(476.30,580.20) scale(0.93,1)" font-size="9.25" font-weight="bold" text-anchor="end" fill="#000" stroke="#000" stroke-width="0.12" >Naïve</text>
<rect x="486.70" y="550.60" width="4.10" height="14.80" fill="#ff0000" />
<rect x="486.70" y="570.20" width="4.10" height="14.90" fill="#c8c8c8" />
<rect x="492.62" y="550.60" width="4.10" height="14.80" fill="#ff0000" />
<rect x="492.62" y="570.20" width="4.10" height="14.90" fill="#ff0000" />
<rect x="498.54" y="550.60" width="4.10" height="14.80" fill="#ff0000" />
<rect x="498.54" y="570.20" width="4.10" height="14.90" fill="#ff0000" />
<rect x="504.46" y="550.60" width="4.10" height="14.80" fill="#ff0000" />
<rect x="504.46" y="570.20" width="4.10" height="14.90" fill="#ff0000" />
<rect x="510.38" y="550.60" width="4.10" height="14.80" fill="#ff0000" />
<rect x="510.38" y="570.20" width="4.10" height="14.90" fill="#ff0000" />
<rect x="516.30" y="550.60" width="4.10" height="14.80" fill="#ff0000" />
<rect x="516.30" y="570.20" width="4.10" height="14.90" fill="#ff0000" />
<rect x="522.22" y="550.60" width="4.10" height="14.80" fill="#ff0000" />
<rect x="522.22" y="570.20" width="4.10" height="14.90" fill="#ff0000" />
<rect x="528.14" y="550.60" width="4.10" height="14.80" fill="#ff0000" />
<rect x="528.14" y="570.20" width="4.10" height="14.90" fill="#ff0000" />
<rect x="534.06" y="550.60" width="4.10" height="14.80" fill="#ff0000" />
<rect x="534.06" y="570.20" width="4.10" height="14.90" fill="#ff0000" />
<rect x="539.98" y="550.60" width="4.10" height="14.80" fill="#ff0000" />
<rect x="539.98" y="570.20" width="4.10" height="14.90" fill="#ff0000" />
<rect x="545.90" y="550.60" width="4.10" height="14.80" fill="#ff0000" />
<rect x="545.90" y="570.20" width="4.10" height="14.90" fill="#ff0000" />
<rect x="551.82" y="550.60" width="4.10" height="14.80" fill="#ff0000" />
<rect x="551.82" y="570.20" width="4.10" height="14.90" fill="#ff0000" />
<rect x="557.74" y="550.60" width="4.10" height="14.80" fill="#ff0000" />
<rect x="557.74" y="570.20" width="4.10" height="14.90" fill="#ff0000" />
<rect x="563.66" y="550.60" width="4.10" height="14.80" fill="#ff0000" />
<rect x="563.66" y="570.20" width="4.10" height="14.90" fill="#ff0000" />
<rect x="569.58" y="550.60" width="4.10" height="14.80" fill="#ff0000" />
<rect x="569.58" y="570.20" width="4.10" height="14.90" fill="#ff0000" />
<rect x="575.50" y="550.60" width="4.10" height="14.80" fill="#ff0000" />
<rect x="575.50" y="570.20" width="4.10" height="14.90" fill="#ff0000" />
<rect x="581.42" y="550.60" width="4.10" height="14.80" fill="#c8c8c8" />
<rect x="581.42" y="570.20" width="4.10" height="14.90" fill="#c8c8c8" />
<rect x="587.34" y="550.60" width="4.10" height="14.80" fill="#c8c8c8" />
<rect x="587.34" y="570.20" width="4.10" height="14.90" fill="#c8c8c8" />
<rect x="593.26" y="550.60" width="4.10" height="14.80" fill="#c8c8c8" />
<rect x="593.26" y="570.20" width="4.10" height="14.90" fill="#c8c8c8" />
<rect x="599.18" y="550.60" width="4.10" height="14.80" fill="#c8c8c8" />
<rect x="599.18" y="570.20" width="4.10" height="14.90" fill="#c8c8c8" />
<rect x="605.10" y="550.60" width="4.10" height="14.80" fill="#c8c8c8" />
<rect x="605.10" y="570.20" width="4.10" height="14.90" fill="#c8c8c8" />
<rect x="611.02" y="550.60" width="4.10" height="14.80" fill="#c8c8c8" />
<rect x="611.02" y="570.20" width="4.10" height="14.90" fill="#c8c8c8" />
<rect x="616.94" y="550.60" width="4.10" height="14.80" fill="#c8c8c8" />
<rect x="616.94" y="570.20" width="4.10" height="14.90" fill="#c8c8c8" />
<rect x="622.86" y="550.60" width="4.10" height="14.80" fill="#c8c8c8" />
<rect x="622.86" y="570.20" width="4.10" height="14.90" fill="#c8c8c8" />
<rect x="628.78" y="550.60" width="4.10" height="14.80" fill="#c8c8c8" />
<rect x="628.78" y="570.20" width="4.10" height="14.90" fill="#c8c8c8" />
<rect x="634.70" y="550.60" width="4.10" height="14.80" fill="#c8c8c8" />
<rect x="634.70" y="570.20" width="4.10" height="14.90" fill="#c8c8c8" />
<rect x="640.62" y="550.60" width="4.10" height="14.80" fill="#c8c8c8" />
<rect x="640.62" y="570.20" width="4.10" height="14.90" fill="#c8c8c8" />
<rect x="646.54" y="550.60" width="4.10" height="14.80" fill="#c8c8c8" />
<rect x="646.54" y="570.20" width="4.10" height="14.90" fill="#c8c8c8" />
<rect x="652.46" y="550.60" width="4.10" height="14.80" fill="#c8c8c8" />
<rect x="652.46" y="570.20" width="4.10" height="14.90" fill="#c8c8c8" />
<rect x="658.38" y="550.60" width="4.10" height="14.80" fill="#c8c8c8" />
<rect x="658.38" y="570.20" width="4.10" height="14.90" fill="#c8c8c8" />
<rect x="664.30" y="550.60" width="4.10" height="14.80" fill="#c8c8c8" />
<rect x="664.30" y="570.20" width="4.10" height="14.90" fill="#c8c8c8" />
<rect x="581.42" y="555.90" width="4.10" height="3.90" fill="#6a7f99" />
<rect x="587.34" y="555.90" width="4.10" height="3.90" fill="#6a7f99" />
<rect x="581.42" y="575.50" width="4.10" height="4.50" fill="#44dd22" />
<rect x="486.90" y="590.80" width="2.20" height="8.00" fill="#ff0000" />
<text transform="translate(490.30,596.60) scale(0.93,1)" font-size="4.78" font-weight="normal" text-anchor="start" fill="#333" >Amplification</text>
<rect x="523.40" y="590.80" width="2.20" height="8.00" fill="#c8c8c8" />
<text transform="translate(527.20,596.60) scale(0.93,1)" font-size="4.78" font-weight="normal" text-anchor="start" fill="#333" >No alterations</text>
<rect x="486.90" y="605.80" width="1.60" height="6.30" fill="#c8c8c8" />
<rect x="486.90" y="607.60" width="1.60" height="2.60" fill="#33dd33" />
<text transform="translate(490.30,610.60) scale(0.93,1)" font-size="4.57" font-weight="normal" text-anchor="start" fill="#333" >Missense Mutation (unknown significance)</text>
<rect x="577.20" y="605.80" width="1.60" height="6.30" fill="#c8c8c8" />
<rect x="577.20" y="607.60" width="1.60" height="2.60" fill="#6a7f99" />
<text transform="translate(580.40,610.60) scale(0.93,1)" font-size="4.59" font-weight="normal" text-anchor="start" fill="#333" >Truncating Mutation (unknown significance)</text>
<rect x="439.30" y="627.90" width="230.50" height="17.80" fill="#0f1e3a" />
<rect x="439.30" y="628.80" width="230.50" height="16.00" fill="#4472c4" />
<text transform="translate(554.50,639.30) scale(0.93,1)" font-size="6.29" font-weight="bold" text-anchor="middle" fill="#fff" stroke="#fff" stroke-width="0.12" >FOXJ1 amp patients (% total)</text>
<text transform="translate(634.00,639.30) scale(0.93,1)" font-size="6.29" font-weight="bold" text-anchor="middle" fill="#fff" stroke="#fff" stroke-width="0.12" >Total Patients</text>
<text transform="translate(474.60,655.30) scale(0.93,1)" font-size="8.17" font-weight="bold" text-anchor="middle" fill="#000" stroke="#000" stroke-width="0.12" >Taxane exposed</text>
<text transform="translate(554.60,655.30) scale(0.93,1)" font-size="8.39" font-weight="bold" text-anchor="middle" fill="#000" stroke="#000" stroke-width="0.12" >16 (10.88%)</text>
<text transform="translate(633.80,655.30) scale(0.93,1)" font-size="8.39" font-weight="bold" text-anchor="middle" fill="#000" stroke="#000" stroke-width="0.12" >147</text>
<text transform="translate(474.60,669.30) scale(0.93,1)" font-size="8.17" font-weight="bold" text-anchor="middle" fill="#000" stroke="#000" stroke-width="0.12" >Naïve</text>
<text transform="translate(554.60,669.30) scale(0.93,1)" font-size="8.39" font-weight="bold" text-anchor="middle" fill="#000" stroke="#000" stroke-width="0.12" >15 (5.45%)</text>
<text transform="translate(633.80,669.30) scale(0.93,1)" font-size="8.39" font-weight="bold" text-anchor="middle" fill="#000" stroke="#000" stroke-width="0.12" >275</text>
<line x1="439.20" y1="675.60" x2="669.80" y2="675.60" stroke="#222" stroke-width="1.0" />
</svg></body></html>
